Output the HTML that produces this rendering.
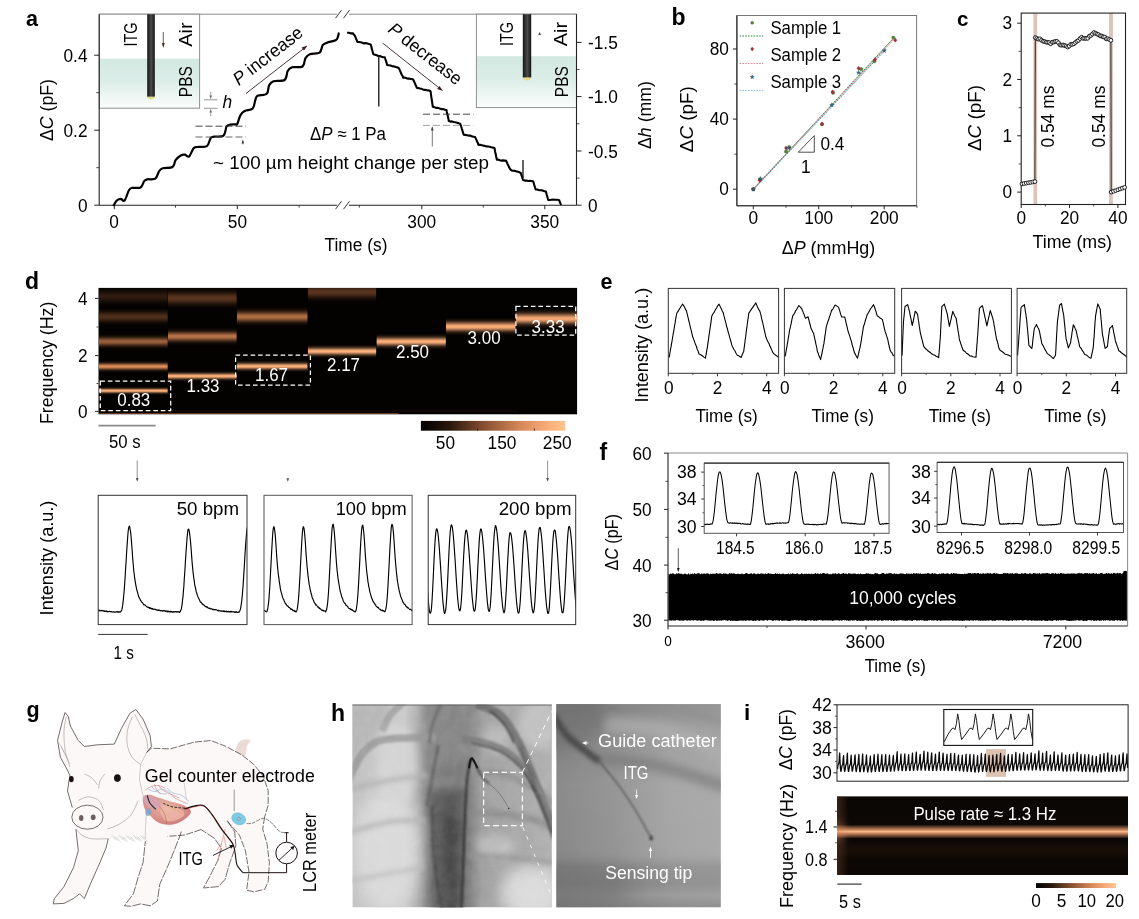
<!DOCTYPE html>
<html><head><meta charset="utf-8"><title>Figure</title>
<style>html,body{margin:0;padding:0;background:#fff;}svg{display:block;}text{font-family:"Liberation Sans",sans-serif;}</style></head>
<body>
<svg width="1139" height="919" viewBox="0 0 1139 919">
<defs>
<linearGradient id="water" x1="0" y1="0" x2="0" y2="1"><stop offset="0" stop-color="#d2e8e1"/><stop offset="0.45" stop-color="#dcede8"/><stop offset="1" stop-color="#fbfdfc"/></linearGradient>
<linearGradient id="rod" x1="0" y1="0" x2="1" y2="0"><stop offset="0" stop-color="#161616"/><stop offset="0.55" stop-color="#4a4a4a"/><stop offset="1" stop-color="#111"/></linearGradient>
<clipPath id="specd"><rect x="98.5" y="287.9" width="478.6" height="126.4"/></clipPath>
<filter id="bl1" x="-5%" y="-200%" width="110%" height="500%"><feGaussianBlur stdDeviation="0.6 1.5"/></filter>
<filter id="bl2" x="-5%" y="-200%" width="110%" height="500%"><feGaussianBlur stdDeviation="0.8 3"/></filter>
<filter id="bl3" x="-5%" y="-200%" width="110%" height="500%"><feGaussianBlur stdDeviation="1 4.5"/></filter>
<linearGradient id="botglow" x1="0" y1="0" x2="0" y2="1"><stop offset="0" stop-color="#040201"/><stop offset="1" stop-color="#0e0703"/></linearGradient>
<linearGradient id="gauss" x1="0" y1="0" x2="0" y2="1"><stop offset="0.00" stop-color="#fff" stop-opacity="0.013"/><stop offset="0.05" stop-color="#fff" stop-opacity="0.030"/><stop offset="0.10" stop-color="#fff" stop-opacity="0.063"/><stop offset="0.15" stop-color="#fff" stop-opacity="0.120"/><stop offset="0.20" stop-color="#fff" stop-opacity="0.211"/><stop offset="0.25" stop-color="#fff" stop-opacity="0.339"/><stop offset="0.30" stop-color="#fff" stop-opacity="0.501"/><stop offset="0.35" stop-color="#fff" stop-opacity="0.678"/><stop offset="0.40" stop-color="#fff" stop-opacity="0.841"/><stop offset="0.45" stop-color="#fff" stop-opacity="0.958"/><stop offset="0.50" stop-color="#fff" stop-opacity="1.000"/><stop offset="0.55" stop-color="#fff" stop-opacity="0.958"/><stop offset="0.60" stop-color="#fff" stop-opacity="0.841"/><stop offset="0.65" stop-color="#fff" stop-opacity="0.678"/><stop offset="0.70" stop-color="#fff" stop-opacity="0.501"/><stop offset="0.75" stop-color="#fff" stop-opacity="0.339"/><stop offset="0.80" stop-color="#fff" stop-opacity="0.211"/><stop offset="0.85" stop-color="#fff" stop-opacity="0.120"/><stop offset="0.90" stop-color="#fff" stop-opacity="0.063"/><stop offset="0.95" stop-color="#fff" stop-opacity="0.030"/><stop offset="1.00" stop-color="#fff" stop-opacity="0.013"/></linearGradient>
<mask id="gm" maskContentUnits="objectBoundingBox"><rect x="0" y="0" width="1" height="1" fill="url(#gauss)"/></mask>
<linearGradient id="cbar"><stop offset="0" stop-color="#000"/><stop offset="0.2" stop-color="#2a170c"/><stop offset="0.45" stop-color="#8a5232"/><stop offset="0.7" stop-color="#d98a5a"/><stop offset="0.9" stop-color="#fdb07c"/><stop offset="1" stop-color="#ffc58f"/></linearGradient>
<clipPath id="cb0"><rect x="98.2" y="495.3" width="148.8" height="129.3"/></clipPath>
<clipPath id="cb1"><rect x="264.0" y="495.3" width="148.10000000000002" height="129.3"/></clipPath>
<clipPath id="cb2"><rect x="428.2" y="495.3" width="147.50000000000006" height="129.3"/></clipPath>
<clipPath id="fi0"><rect x="704.2" y="463.1" width="184.89999999999998" height="70.19999999999993"/></clipPath>
<clipPath id="fi1"><rect x="937.1" y="462.3" width="186.39999999999998" height="70.19999999999999"/></clipPath>
<radialGradient id="heart" cx="0.45" cy="0.4" r="0.7"><stop offset="0" stop-color="#e9b6a6"/><stop offset="0.6" stop-color="#d98f86"/><stop offset="1" stop-color="#c9777a"/></radialGradient>
<filter id="hb"><feGaussianBlur stdDeviation="0.6"/></filter>
<clipPath id="hl"><rect x="352.4" y="704.6" width="199.5" height="202.79999999999995"/></clipPath>
<filter id="x2" x="-100%" y="-100%" width="300%" height="300%"><feGaussianBlur stdDeviation="2"/></filter>
<filter id="x4" x="-100%" y="-100%" width="300%" height="300%"><feGaussianBlur stdDeviation="4"/></filter>
<filter id="x8" x="-100%" y="-100%" width="300%" height="300%"><feGaussianBlur stdDeviation="8"/></filter>
<filter id="x1" x="-100%" y="-100%" width="300%" height="300%"><feGaussianBlur stdDeviation="1"/></filter>
<filter id="x12" x="-100%" y="-100%" width="300%" height="300%"><feGaussianBlur stdDeviation="13"/></filter>
<linearGradient id="hbg" x1="0" y1="0" x2="1" y2="0"><stop offset="0" stop-color="#c2c2c2"/><stop offset="0.26" stop-color="#cccccc"/><stop offset="0.32" stop-color="#b2b2b2"/><stop offset="0.375" stop-color="#8a8a8a"/><stop offset="0.5" stop-color="#787878"/><stop offset="0.585" stop-color="#828282"/><stop offset="0.65" stop-color="#a0a0a0"/><stop offset="0.8" stop-color="#a8a8a8"/><stop offset="1" stop-color="#b0b0b0"/></linearGradient>
<filter id="noise" x="0" y="0" width="100%" height="100%"><feTurbulence type="fractalNoise" baseFrequency="0.09" numOctaves="3" seed="4"/><feColorMatrix type="matrix" values="0 0 0 0 1  0 0 0 0 1  0 0 0 0 1  1.4 0 0 0 -0.45"/></filter>
<clipPath id="hr"><rect x="556.2" y="704.1" width="164.69999999999993" height="203.39999999999998"/></clipPath>
<linearGradient id="hrbg" x1="0" y1="0" x2="1" y2="0"><stop offset="0" stop-color="#868686"/><stop offset="0.35" stop-color="#929292"/><stop offset="0.7" stop-color="#a4a4a4"/><stop offset="1" stop-color="#a8a8a8"/></linearGradient>
<linearGradient id="hrv" x1="0" y1="0" x2="0" y2="1"><stop offset="0" stop-color="#000" stop-opacity="0.12"/><stop offset="0.12" stop-color="#000" stop-opacity="0.03"/><stop offset="0.4" stop-color="#fff" stop-opacity="0.04"/><stop offset="0.7" stop-color="#fff" stop-opacity="0.02"/><stop offset="0.8" stop-color="#000" stop-opacity="0.1"/><stop offset="0.88" stop-color="#000" stop-opacity="0.12"/><stop offset="0.94" stop-color="#000" stop-opacity="0.05"/><stop offset="1" stop-color="#000" stop-opacity="0.14"/></linearGradient>
<clipPath id="speci"><rect x="837.0" y="796.2" width="291.0999999999999" height="78.79999999999995"/></clipPath>
<linearGradient id="ibg" x1="0" y1="0" x2="0" y2="1"><stop offset="0" stop-color="#0a0604"/><stop offset="0.3" stop-color="#0d0805"/><stop offset="0.55" stop-color="#0a0604"/><stop offset="0.68" stop-color="#1a0f08"/><stop offset="0.8" stop-color="#0e0805"/><stop offset="1" stop-color="#0a0604"/></linearGradient>
<linearGradient id="iband" x1="0" y1="0" x2="0" y2="1"><stop offset="0" stop-color="#f4a673" stop-opacity="0"/><stop offset="0.3" stop-color="#e8996a" stop-opacity="0.7"/><stop offset="0.5" stop-color="#ffb988"/><stop offset="0.7" stop-color="#e8996a" stop-opacity="0.7"/><stop offset="1" stop-color="#f4a673" stop-opacity="0"/></linearGradient>
<linearGradient id="ileft" x1="0" y1="0" x2="1" y2="0"><stop offset="0" stop-color="#5a3620" stop-opacity="0.55"/><stop offset="1" stop-color="#6b4128" stop-opacity="0"/></linearGradient>
</defs>
<line x1="99.20" y1="14.20" x2="337.00" y2="14.20" stroke="#8a8a8a" stroke-width="1"/>
<line x1="349.00" y1="14.20" x2="576.50" y2="14.20" stroke="#8a8a8a" stroke-width="1"/>
<rect x="99.20" y="14.20" width="100.40" height="94.00" fill="#fff"/>
<rect x="99.20" y="58.70" width="100.40" height="49.50" fill="url(#water)"/>
<rect x="99.20" y="14.20" width="100.40" height="94.00" fill="none" stroke="#8f8f8f" stroke-width="1"/>
<path d="M147.2 96.1 L154.8 96.1 L154.8 97.8 Q151.0 101.3 147.2 97.8 Z" fill="#e6d98a"/>
<rect x="147.20" y="14.20" width="7.60" height="82.40" fill="url(#rod)"/>
<rect x="476.40" y="14.20" width="100.10" height="93.40" fill="#fff"/>
<rect x="476.40" y="56.20" width="100.10" height="51.40" fill="url(#water)"/>
<rect x="476.40" y="14.20" width="100.10" height="93.40" fill="none" stroke="#8f8f8f" stroke-width="1"/>
<path d="M522.8 76.9 L531.2 76.9 L531.2 78.8 Q527.0 82.3 522.8 78.8 Z" fill="#e6d98a"/>
<rect x="522.80" y="14.20" width="8.40" height="63.20" fill="url(#rod)"/>
<text x="137.0" y="34.5" font-size="18.5" text-anchor="middle" transform="rotate(-90 137.0 34.5)" textLength="24.0" lengthAdjust="spacingAndGlyphs">ITG</text>
<text x="191.6" y="34.6" font-size="18.5" text-anchor="middle" transform="rotate(-90 191.6 34.6)" textLength="24.5" lengthAdjust="spacingAndGlyphs">Air</text>
<text x="191.8" y="81.7" font-size="18.5" text-anchor="middle" transform="rotate(-90 191.8 81.7)" textLength="31.0" lengthAdjust="spacingAndGlyphs">PBS</text>
<text x="513.3" y="34.0" font-size="18.5" text-anchor="middle" transform="rotate(-90 513.3 34.0)" textLength="24.0" lengthAdjust="spacingAndGlyphs">ITG</text>
<text x="567.0" y="34.0" font-size="18.5" text-anchor="middle" transform="rotate(-90 567.0 34.0)" textLength="24.5" lengthAdjust="spacingAndGlyphs">Air</text>
<text x="568.5" y="81.7" font-size="18.5" text-anchor="middle" transform="rotate(-90 568.5 81.7)" textLength="31.0" lengthAdjust="spacingAndGlyphs">PBS</text>
<line x1="163.30" y1="32.00" x2="163.30" y2="46.00" stroke="#5a2a2a" stroke-width="0.8"/>
<path d="M161.8 43 L163.3 48 L164.8 43 Z" fill="#5a2a2a"/>
<path d="M538.3 35 L539.6 32 L540.9 35 Z" fill="#333"/>
<line x1="99.20" y1="14.20" x2="99.20" y2="205.20" stroke="#222" stroke-width="1.1"/>
<line x1="576.50" y1="14.20" x2="576.50" y2="205.20" stroke="#222" stroke-width="1.1"/>
<line x1="99.20" y1="205.20" x2="337.00" y2="205.20" stroke="#222" stroke-width="1.1"/>
<line x1="349.00" y1="205.20" x2="576.50" y2="205.20" stroke="#222" stroke-width="1.1"/>
<line x1="335.50" y1="18.20" x2="341.50" y2="10.20" stroke="#222" stroke-width="0.9"/>
<line x1="343.50" y1="18.20" x2="349.50" y2="10.20" stroke="#222" stroke-width="0.9"/>
<line x1="335.50" y1="209.20" x2="341.50" y2="201.20" stroke="#222" stroke-width="0.9"/>
<line x1="343.50" y1="209.20" x2="349.50" y2="201.20" stroke="#222" stroke-width="0.9"/>
<line x1="94.20" y1="55.20" x2="99.20" y2="55.20" stroke="#222" stroke-width="1"/>
<line x1="94.20" y1="130.20" x2="99.20" y2="130.20" stroke="#222" stroke-width="1"/>
<line x1="94.20" y1="205.20" x2="99.20" y2="205.20" stroke="#222" stroke-width="1"/>
<line x1="96.20" y1="92.70" x2="99.20" y2="92.70" stroke="#222" stroke-width="0.8"/>
<line x1="96.20" y1="167.70" x2="99.20" y2="167.70" stroke="#222" stroke-width="0.8"/>
<line x1="576.50" y1="42.40" x2="581.50" y2="42.40" stroke="#222" stroke-width="1"/>
<line x1="576.50" y1="96.60" x2="581.50" y2="96.60" stroke="#222" stroke-width="1"/>
<line x1="576.50" y1="151.00" x2="581.50" y2="151.00" stroke="#222" stroke-width="1"/>
<line x1="576.50" y1="205.20" x2="581.50" y2="205.20" stroke="#222" stroke-width="1"/>
<line x1="576.50" y1="69.50" x2="579.50" y2="69.50" stroke="#222" stroke-width="0.8"/>
<line x1="576.50" y1="123.80" x2="579.50" y2="123.80" stroke="#222" stroke-width="0.8"/>
<line x1="576.50" y1="178.10" x2="579.50" y2="178.10" stroke="#222" stroke-width="0.8"/>
<line x1="114.30" y1="205.20" x2="114.30" y2="209.20" stroke="#222" stroke-width="1"/>
<line x1="237.30" y1="205.20" x2="237.30" y2="209.20" stroke="#222" stroke-width="1"/>
<line x1="421.80" y1="205.20" x2="421.80" y2="209.20" stroke="#222" stroke-width="1"/>
<line x1="544.80" y1="205.20" x2="544.80" y2="209.20" stroke="#222" stroke-width="1"/>
<line x1="175.50" y1="205.20" x2="175.50" y2="207.70" stroke="#222" stroke-width="0.8"/>
<line x1="299.10" y1="205.20" x2="299.10" y2="207.70" stroke="#222" stroke-width="0.8"/>
<line x1="359.30" y1="205.20" x2="359.30" y2="207.70" stroke="#222" stroke-width="0.8"/>
<line x1="483.30" y1="205.20" x2="483.30" y2="207.70" stroke="#222" stroke-width="0.8"/>
<text x="87.5" y="61.8" font-size="18.3" text-anchor="end" textLength="24.0" lengthAdjust="spacingAndGlyphs">0.4</text>
<text x="87.5" y="136.8" font-size="18.3" text-anchor="end" textLength="24.0" lengthAdjust="spacingAndGlyphs">0.2</text>
<text x="87.5" y="211.8" font-size="18.3" text-anchor="end" textLength="9.6" lengthAdjust="spacingAndGlyphs">0</text>
<text x="588.0" y="49.0" font-size="18.3" textLength="29.8" lengthAdjust="spacingAndGlyphs">-1.5</text>
<text x="588.0" y="103.2" font-size="18.3" textLength="29.8" lengthAdjust="spacingAndGlyphs">-1.0</text>
<text x="588.0" y="157.6" font-size="18.3" textLength="29.8" lengthAdjust="spacingAndGlyphs">-0.5</text>
<text x="588.0" y="211.8" font-size="18.3" textLength="9.6" lengthAdjust="spacingAndGlyphs">0</text>
<text x="114.0" y="228.3" font-size="18.3" text-anchor="middle" textLength="9.6" lengthAdjust="spacingAndGlyphs">0</text>
<text x="237.4" y="228.3" font-size="18.3" text-anchor="middle" textLength="19.2" lengthAdjust="spacingAndGlyphs">50</text>
<text x="421.8" y="228.3" font-size="18.3" text-anchor="middle" textLength="28.9" lengthAdjust="spacingAndGlyphs">300</text>
<text x="544.8" y="228.3" font-size="18.3" text-anchor="middle" textLength="28.9" lengthAdjust="spacingAndGlyphs">350</text>
<text x="356.0" y="251.3" font-size="18.3" text-anchor="middle" textLength="62.8" lengthAdjust="spacingAndGlyphs">Time (s)</text>
<text x="53.0" y="110.0" font-size="18.3" text-anchor="middle" transform="rotate(-90 53.0 110.0)" textLength="62.0" lengthAdjust="spacingAndGlyphs">Δ<tspan font-style="italic">C</tspan> (pF)</text>
<text x="651.0" y="115.0" font-size="18.3" text-anchor="middle" transform="rotate(-90 651.0 115.0)" textLength="68.0" lengthAdjust="spacingAndGlyphs">Δ<tspan font-style="italic">h</tspan> (mm)</text>
<text x="26.0" y="25.5" font-size="21.5" fill="#000" font-weight="bold">a</text>
<path d="M113.8 205.1 C114.3 204.3 116.0 201.2 117.2 200.2 C118.4 199.1 119.7 198.9 120.9 198.9 C122.1 199.0 123.3 202.0 124.6 200.5 C125.9 199.1 127.7 192.4 128.9 190.3 C130.1 188.2 130.0 188.4 132.0 187.9 C133.9 187.4 138.5 188.6 140.6 187.5 C142.6 186.4 143.1 182.5 144.2 181.1 C145.4 179.7 145.5 179.7 147.3 179.3 C149.2 178.9 153.4 180.0 155.3 178.7 C157.3 177.3 157.8 173.0 159.0 171.3 C160.2 169.5 160.4 168.9 162.7 168.2 C164.9 167.5 170.4 168.3 172.5 167.0 C174.7 165.7 174.2 162.2 175.6 160.2 C177.0 158.3 179.6 156.2 181.1 155.3 C182.7 154.4 183.5 154.5 184.8 154.7 C186.1 154.9 187.7 157.6 189.1 156.5 C190.5 155.5 192.1 150.1 193.4 148.5 C194.7 147.0 194.8 147.4 197.1 147.0 C199.4 146.5 204.7 147.6 206.9 146.1 C209.2 144.6 209.4 139.7 210.6 138.1 C211.8 136.5 212.2 137.0 214.3 136.6 C216.5 136.2 221.5 137.3 223.5 135.6 C225.6 133.9 225.5 128.3 226.6 126.4 C227.7 124.6 228.9 124.9 230.3 124.6 C231.7 124.2 234.0 124.5 235.2 124.3 C236.4 124.2 236.4 125.4 237.3 123.9 C238.2 122.3 239.1 117.4 240.4 115.3 C241.6 113.1 242.6 112.1 244.7 111.0 C246.7 109.8 250.8 110.5 252.7 108.5 C254.5 106.4 254.8 100.8 255.7 98.7 C256.6 96.5 256.3 96.4 258.2 95.6 C260.0 94.8 264.9 95.5 266.8 93.7 C268.6 92.0 268.1 87.2 269.2 85.1 C270.4 83.1 271.0 82.1 273.5 81.2 C276.1 80.3 282.3 81.7 284.6 80.0 C287.0 78.3 286.5 73.1 287.7 71.0 C288.9 68.9 289.5 68.1 292.0 67.3 C294.4 66.6 300.2 68.0 302.4 66.5 C304.7 64.9 304.3 60.2 305.5 58.1 C306.7 56.1 307.5 55.1 309.8 54.2 C312.2 53.2 317.5 54.1 319.6 52.6 C321.8 51.1 321.5 46.8 322.7 45.2 C323.9 43.6 324.9 43.6 327.0 42.7 C329.2 41.9 333.8 41.2 335.6 40.3 C337.4 39.4 337.3 38.3 337.8 37.2 C338.3 36.1 338.5 34.1 338.7 33.5" fill="none" stroke="#000" stroke-width="2.2" stroke-linejoin="round" stroke-linecap="round"/>
<path d="M347.1 32.7 L349.0 32.8 L350.9 33.4 L352.8 33.2 L353.8 34.6 L354.7 35.5 L355.4 36.9 L356.0 38.8 L356.7 40.1 L357.4 41.9 L359.1 42.0 L360.7 42.3 L362.4 42.8 L364.0 43.4 L365.7 43.1 L367.4 43.5 L369.0 44.1 L370.7 44.6 L371.1 45.8 L371.5 47.1 L371.8 49.0 L372.2 49.8 L372.6 51.9 L373.0 52.9 L373.4 54.3 L375.0 54.7 L376.7 55.3 L378.3 56.0 L379.9 56.0 L381.6 56.7 L383.2 57.2 L384.8 57.4 L385.3 59.0 L385.7 60.1 L386.2 61.6 L386.7 63.2 L387.1 65.0 L388.7 65.2 L390.4 65.5 L392.0 66.1 L393.6 66.4 L395.3 66.7 L396.9 67.4 L398.5 67.7 L399.2 68.8 L399.8 70.4 L400.5 71.8 L401.2 73.5 L401.8 74.8 L402.5 75.8 L403.1 77.7 L404.6 77.5 L406.0 78.0 L407.5 78.6 L409.0 78.5 L410.5 79.0 L411.9 79.0 L413.4 79.8 L414.1 81.5 L414.8 82.9 L415.4 84.7 L416.1 85.9 L416.8 87.8 L418.3 88.1 L419.9 88.5 L421.4 88.8 L422.9 89.4 L424.4 89.9 L426.0 89.9 L427.5 90.5 L429.0 90.4 L430.5 91.2 L430.8 92.8 L431.0 94.6 L431.2 96.1 L431.4 97.4 L431.7 99.0 L431.9 100.8 L432.1 102.0 L432.4 103.9 L432.6 105.3 L432.8 106.8 L434.3 107.1 L435.9 107.9 L437.4 107.8 L438.9 108.2 L440.4 108.7 L441.9 109.3 L443.5 109.1 L445.0 109.7 L446.5 110.1 L446.8 111.9 L447.2 113.4 L447.5 114.9 L447.8 116.0 L448.2 117.7 L448.5 119.2 L448.8 121.1 L450.4 121.6 L452.1 121.4 L453.7 121.9 L455.3 122.3 L457.0 122.7 L458.6 123.3 L460.2 123.8 L460.7 125.1 L461.2 126.5 L461.7 128.3 L462.2 129.8 L462.7 131.5 L463.2 133.3 L463.7 134.6 L465.3 134.9 L466.9 135.2 L468.5 135.6 L470.2 135.5 L471.8 136.4 L473.4 136.7 L475.1 137.1 L475.8 138.6 L476.4 139.9 L477.1 141.5 L477.8 142.9 L478.5 144.9 L480.1 144.8 L481.7 145.2 L483.3 145.6 L484.9 145.9 L486.5 146.4 L488.1 146.5 L489.7 146.8 L491.3 147.3 L492.9 147.6 L494.5 148.1 L494.8 149.5 L495.1 151.7 L495.5 153.2 L495.8 154.5 L496.1 156.2 L496.5 157.9 L496.8 159.6 L498.3 159.6 L499.8 160.3 L501.4 160.6 L502.9 160.4 L504.4 160.6 L505.9 160.5 L506.7 162.0 L507.4 163.7 L508.2 165.2 L509.0 167.1 L509.7 168.2 L510.5 169.6 L512.0 170.6 L513.4 170.7 L514.9 170.9 L516.4 171.5 L517.8 171.6 L519.3 172.3 L520.8 173.0 L521.2 174.4 L521.7 175.8 L522.1 177.0 L522.6 178.6 L523.1 180.0 L524.8 180.6 L526.5 180.6 L528.2 181.0 L529.9 180.9 L531.6 181.0 L533.3 181.6 L533.8 183.3 L534.2 184.8 L534.7 186.4 L535.2 188.0 L535.6 189.5 L537.1 189.5 L538.6 190.0 L540.0 190.2 L541.5 190.3 L543.0 190.6 L544.4 191.2 L545.9 191.5 L546.4 193.4 L546.8 195.1 L547.3 196.4 L547.7 198.3 L548.2 200.0 L549.8 200.0 L551.3 199.7 L552.9 199.6 L554.5 199.7 L556.0 199.7 L557.6 199.8 L559.2 200.2 L559.8 202.0 L560.5 203.5 L561.2 204.9" fill="none" stroke="#000" stroke-width="2.1" stroke-linejoin="round"/>
<line x1="378.80" y1="55.00" x2="378.80" y2="106.50" stroke="#111" stroke-width="1.3"/>
<line x1="523.00" y1="160.00" x2="523.00" y2="178.00" stroke="#111" stroke-width="1.3"/>
<text x="0.0" y="0.0" font-size="18.2" text-anchor="middle" textLength="83.0" lengthAdjust="spacingAndGlyphs" transform="translate(271.5,60.5) rotate(-37.8)"><tspan font-style="italic">P</tspan> increase</text>
<text x="0.0" y="0.0" font-size="18.2" text-anchor="middle" textLength="88.0" lengthAdjust="spacingAndGlyphs" transform="translate(421.5,58.5) rotate(38.2)"><tspan font-style="italic">P</tspan> decrease</text>
<line x1="246.00" y1="93.50" x2="305.00" y2="47.50" stroke="#3a1f1f" stroke-width="0.9"/>
<path d="M307.5 45.5 L301.6 47.6 L304 50.6 Z" fill="#3a1f1f"/>
<line x1="382.50" y1="43.00" x2="440.50" y2="89.00" stroke="#3a1f1f" stroke-width="0.9"/>
<path d="M443 91 L439.5 85.9 L437.1 88.9 Z" fill="#3a1f1f"/>
<text x="310.0" y="140.0" font-size="18.3" textLength="76.0" lengthAdjust="spacingAndGlyphs">Δ<tspan font-style="italic">P</tspan> ≈ 1 Pa</text>
<text x="213.0" y="168.5" font-size="18.3" textLength="276.0" lengthAdjust="spacingAndGlyphs">~ 100 µm height change per step</text>
<text x="222.5" y="107.5" font-size="18.5" font-style="italic" textLength="9.7" lengthAdjust="spacingAndGlyphs">h</text>
<line x1="195.50" y1="126.20" x2="246.00" y2="126.20" stroke="#333" stroke-width="0.9" stroke-dasharray="7 3"/>
<line x1="195.50" y1="137.00" x2="246.00" y2="137.00" stroke="#555" stroke-width="0.9" stroke-dasharray="7 3"/>
<line x1="423.00" y1="114.20" x2="473.50" y2="114.20" stroke="#333" stroke-width="0.9" stroke-dasharray="7 3"/>
<line x1="423.00" y1="125.40" x2="473.50" y2="125.40" stroke="#999" stroke-width="0.9" stroke-dasharray="7 3"/>
<line x1="204.00" y1="99.80" x2="217.50" y2="99.80" stroke="#888" stroke-width="0.9"/>
<line x1="204.00" y1="108.30" x2="217.50" y2="108.30" stroke="#888" stroke-width="0.9"/>
<line x1="210.70" y1="92.00" x2="210.70" y2="98.00" stroke="#777" stroke-width="0.7"/>
<path d="M209.3 95.5 L210.7 99 L212.1 95.5 Z" fill="#777"/>
<line x1="210.70" y1="110.00" x2="210.70" y2="116.00" stroke="#777" stroke-width="0.7"/>
<path d="M209.3 112.5 L210.7 109 L212.1 112.5 Z" fill="#777"/>
<path d="M241.5 143.5 L242.8 139.5 L244.1 143.5 Z" fill="#333"/>
<line x1="242.80" y1="141.00" x2="242.80" y2="144.50" stroke="#555" stroke-width="0.6"/>
<line x1="432.30" y1="127.50" x2="432.30" y2="146.50" stroke="#555" stroke-width="0.8"/>
<path d="M430.9 130.5 L432.3 126.3 L433.7 130.5 Z" fill="#444"/>
<rect x="736.90" y="15.50" width="179.70" height="190.30" fill="none" stroke="#777" stroke-width="1"/>
<line x1="736.90" y1="15.50" x2="736.90" y2="205.80" stroke="#222" stroke-width="1.1"/>
<line x1="736.90" y1="205.80" x2="916.60" y2="205.80" stroke="#222" stroke-width="1.1"/>
<line x1="732.90" y1="189.20" x2="736.90" y2="189.20" stroke="#222" stroke-width="1"/>
<text x="728.9" y="195.4" font-size="18.3" text-anchor="end" textLength="9.6" lengthAdjust="spacingAndGlyphs">0</text>
<line x1="732.90" y1="119.10" x2="736.90" y2="119.10" stroke="#222" stroke-width="1"/>
<text x="728.9" y="125.3" font-size="18.3" text-anchor="end" textLength="19.2" lengthAdjust="spacingAndGlyphs">40</text>
<line x1="732.90" y1="49.00" x2="736.90" y2="49.00" stroke="#222" stroke-width="1"/>
<text x="728.9" y="55.2" font-size="18.3" text-anchor="end" textLength="19.2" lengthAdjust="spacingAndGlyphs">80</text>
<line x1="734.40" y1="154.15" x2="736.90" y2="154.15" stroke="#222" stroke-width="0.8"/>
<line x1="734.40" y1="84.05" x2="736.90" y2="84.05" stroke="#222" stroke-width="0.8"/>
<line x1="753.30" y1="205.80" x2="753.30" y2="209.30" stroke="#222" stroke-width="1"/>
<text x="753.3" y="224.2" font-size="18.3" text-anchor="middle" textLength="9.6" lengthAdjust="spacingAndGlyphs">0</text>
<line x1="818.75" y1="205.80" x2="818.75" y2="209.30" stroke="#222" stroke-width="1"/>
<text x="818.8" y="224.2" font-size="18.3" text-anchor="middle" textLength="28.9" lengthAdjust="spacingAndGlyphs">100</text>
<line x1="884.20" y1="205.80" x2="884.20" y2="209.30" stroke="#222" stroke-width="1"/>
<text x="884.2" y="224.2" font-size="18.3" text-anchor="middle" textLength="28.9" lengthAdjust="spacingAndGlyphs">200</text>
<line x1="786.02" y1="205.80" x2="786.02" y2="207.80" stroke="#222" stroke-width="0.8"/>
<line x1="851.47" y1="205.80" x2="851.47" y2="207.80" stroke="#222" stroke-width="0.8"/>
<line x1="916.92" y1="205.80" x2="916.92" y2="207.80" stroke="#222" stroke-width="0.8"/>
<text x="828.5" y="253.8" font-size="18.3" text-anchor="middle" textLength="93.6" lengthAdjust="spacingAndGlyphs">Δ<tspan font-style="italic">P</tspan> (mmHg)</text>
<text x="692.8" y="119.2" font-size="18.3" text-anchor="middle" transform="rotate(-90 692.8 119.2)" textLength="66.0" lengthAdjust="spacingAndGlyphs">Δ<tspan font-style="italic">C</tspan> (pF)</text>
<text x="671.5" y="24.8" font-size="23" fill="#000" font-weight="bold">b</text>
<line x1="753.30" y1="189.20" x2="894.02" y2="37.61" stroke="#2e8b2e" stroke-width="1" stroke-dasharray="2 0.7"/>
<line x1="753.30" y1="188.67" x2="894.67" y2="38.48" stroke="#d46a6a" stroke-width="0.9" stroke-dasharray="2 0.7"/>
<line x1="753.30" y1="189.73" x2="886.16" y2="49.00" stroke="#3a8bb5" stroke-width="0.9" stroke-dasharray="2 0.7"/>
<circle cx="753.30" cy="189.20" r="1.7" fill="#5a8a2a" stroke="#333" stroke-width="0.3"/>
<circle cx="759.84" cy="179.56" r="1.7" fill="#5a8a2a" stroke="#333" stroke-width="0.3"/>
<circle cx="786.02" cy="151.52" r="1.7" fill="#5a8a2a" stroke="#333" stroke-width="0.3"/>
<circle cx="789.30" cy="147.14" r="1.7" fill="#5a8a2a" stroke="#333" stroke-width="0.3"/>
<circle cx="822.02" cy="124.36" r="1.7" fill="#5a8a2a" stroke="#333" stroke-width="0.3"/>
<circle cx="833.15" cy="92.81" r="1.7" fill="#5a8a2a" stroke="#333" stroke-width="0.3"/>
<circle cx="861.29" cy="69.15" r="1.7" fill="#5a8a2a" stroke="#333" stroke-width="0.3"/>
<circle cx="874.38" cy="61.27" r="1.7" fill="#5a8a2a" stroke="#333" stroke-width="0.3"/>
<circle cx="893.36" cy="37.61" r="1.7" fill="#5a8a2a" stroke="#333" stroke-width="0.3"/>
<path d="M753.30 187.10 L754.98 189.20 L753.30 191.30 L751.62 189.20 Z" fill="#b8283a" stroke="#333" stroke-width="0.3"/>
<path d="M759.84 178.34 L761.52 180.44 L759.84 182.54 L758.16 180.44 Z" fill="#b8283a" stroke="#333" stroke-width="0.3"/>
<path d="M786.02 145.92 L787.70 148.02 L786.02 150.12 L784.35 148.02 Z" fill="#b8283a" stroke="#333" stroke-width="0.3"/>
<path d="M822.02 121.73 L823.70 123.83 L822.02 125.93 L820.34 123.83 Z" fill="#b8283a" stroke="#333" stroke-width="0.3"/>
<path d="M832.49 89.84 L834.17 91.94 L832.49 94.04 L830.81 91.94 Z" fill="#b8283a" stroke="#333" stroke-width="0.3"/>
<path d="M858.67 66.18 L860.35 68.28 L858.67 70.38 L856.99 68.28 Z" fill="#b8283a" stroke="#333" stroke-width="0.3"/>
<path d="M875.04 57.41 L876.72 59.51 L875.04 61.61 L873.36 59.51 Z" fill="#b8283a" stroke="#333" stroke-width="0.3"/>
<path d="M895.33 38.14 L897.01 40.24 L895.33 42.34 L893.65 40.24 Z" fill="#b8283a" stroke="#333" stroke-width="0.3"/>
<path d="M753.30 186.90 L753.87 188.42 L755.49 188.49 L754.22 189.50 L754.65 191.06 L753.30 190.17 L751.95 191.06 L752.38 189.50 L751.11 188.49 L752.73 188.42 Z" fill="#1f6f9f" stroke="#333" stroke-width="0.3"/>
<path d="M760.50 176.38 L761.07 177.90 L762.69 177.97 L761.42 178.98 L761.85 180.55 L760.50 179.65 L759.15 180.55 L759.58 178.98 L758.31 177.97 L759.93 177.90 Z" fill="#1f6f9f" stroke="#333" stroke-width="0.3"/>
<path d="M788.64 145.72 L789.21 147.23 L790.83 147.31 L789.56 148.31 L789.99 149.88 L788.64 148.98 L787.29 149.88 L787.72 148.31 L786.46 147.31 L788.08 147.23 Z" fill="#1f6f9f" stroke="#333" stroke-width="0.3"/>
<path d="M831.84 102.78 L832.41 104.30 L834.03 104.37 L832.76 105.38 L833.19 106.94 L831.84 106.05 L830.49 106.94 L830.92 105.38 L829.65 104.37 L831.27 104.30 Z" fill="#1f6f9f" stroke="#333" stroke-width="0.3"/>
<path d="M858.67 70.36 L859.24 71.88 L860.86 71.95 L859.59 72.96 L860.03 74.52 L858.67 73.62 L857.32 74.52 L857.76 72.96 L856.49 71.95 L858.11 71.88 Z" fill="#1f6f9f" stroke="#333" stroke-width="0.3"/>
<path d="M884.20 48.45 L884.77 49.97 L886.39 50.04 L885.12 51.05 L885.55 52.61 L884.20 51.72 L882.85 52.61 L883.28 51.05 L882.01 50.04 L883.63 49.97 Z" fill="#1f6f9f" stroke="#333" stroke-width="0.3"/>
<circle cx="752.20" cy="22.80" r="1.5" fill="#5a8a2a" stroke="#333" stroke-width="0.3"/>
<path d="M752.20 47.00 L753.80 49.00 L752.20 51.00 L750.60 49.00 Z" fill="#b8283a" stroke="#333" stroke-width="0.3"/>
<path d="M752.20 74.80 L752.74 76.25 L754.29 76.32 L753.08 77.29 L753.49 78.78 L752.20 77.92 L750.91 78.78 L751.32 77.29 L750.11 76.32 L751.66 76.25 Z" fill="#1f6f9f" stroke="#333" stroke-width="0.3"/>
<line x1="739.60" y1="36.00" x2="763.20" y2="36.00" stroke="#2e8b2e" stroke-width="1" stroke-dasharray="1.6 1.2"/>
<line x1="739.60" y1="63.50" x2="763.20" y2="63.50" stroke="#e08a8a" stroke-width="1" stroke-dasharray="1.6 1.2"/>
<line x1="739.60" y1="90.40" x2="763.20" y2="90.40" stroke="#7fc4e0" stroke-width="1" stroke-dasharray="1.6 1.2"/>
<text x="770.4" y="34.2" font-size="18.3" textLength="70.8" lengthAdjust="spacingAndGlyphs">Sample 1</text>
<text x="770.4" y="61.2" font-size="18.3" textLength="70.8" lengthAdjust="spacingAndGlyphs">Sample 2</text>
<text x="770.4" y="87.9" font-size="18.3" textLength="70.8" lengthAdjust="spacingAndGlyphs">Sample 3</text>
<path d="M798.3 152.2 L814.3 152.2 L814.3 135.6 Z" fill="none" stroke="#222" stroke-width="0.8"/>
<text x="820.4" y="150.0" font-size="18.3" textLength="24.0" lengthAdjust="spacingAndGlyphs">0.4</text>
<text x="805.8" y="172.8" font-size="18.3" text-anchor="middle" textLength="9.6" lengthAdjust="spacingAndGlyphs">1</text>
<rect x="1033.40" y="13.10" width="3.80" height="191.40" fill="#dcc5b8"/>
<rect x="1109.00" y="13.10" width="3.90" height="191.40" fill="#dcc5b8"/>
<rect x="1021.20" y="13.10" width="104.30" height="191.40" fill="none" stroke="#222" stroke-width="1.1"/>
<line x1="1017.20" y1="192.10" x2="1021.20" y2="192.10" stroke="#222" stroke-width="1"/>
<text x="1012.2" y="198.3" font-size="18.3" text-anchor="end" textLength="9.6" lengthAdjust="spacingAndGlyphs">0</text>
<line x1="1017.20" y1="135.80" x2="1021.20" y2="135.80" stroke="#222" stroke-width="1"/>
<text x="1012.2" y="142.0" font-size="18.3" text-anchor="end" textLength="9.6" lengthAdjust="spacingAndGlyphs">1</text>
<line x1="1017.20" y1="79.50" x2="1021.20" y2="79.50" stroke="#222" stroke-width="1"/>
<text x="1012.2" y="85.7" font-size="18.3" text-anchor="end" textLength="9.6" lengthAdjust="spacingAndGlyphs">2</text>
<line x1="1017.20" y1="23.20" x2="1021.20" y2="23.20" stroke="#222" stroke-width="1"/>
<text x="1012.2" y="29.4" font-size="18.3" text-anchor="end" textLength="9.6" lengthAdjust="spacingAndGlyphs">3</text>
<line x1="1018.70" y1="163.95" x2="1021.20" y2="163.95" stroke="#222" stroke-width="0.8"/>
<line x1="1018.70" y1="107.65" x2="1021.20" y2="107.65" stroke="#222" stroke-width="0.8"/>
<line x1="1018.70" y1="51.35" x2="1021.20" y2="51.35" stroke="#222" stroke-width="0.8"/>
<line x1="1021.20" y1="204.50" x2="1021.20" y2="208.00" stroke="#222" stroke-width="1"/>
<text x="1021.2" y="224.4" font-size="18.3" text-anchor="middle" textLength="9.6" lengthAdjust="spacingAndGlyphs">0</text>
<line x1="1069.55" y1="204.50" x2="1069.55" y2="208.00" stroke="#222" stroke-width="1"/>
<text x="1069.5" y="224.4" font-size="18.3" text-anchor="middle" textLength="19.2" lengthAdjust="spacingAndGlyphs">20</text>
<line x1="1117.90" y1="204.50" x2="1117.90" y2="208.00" stroke="#222" stroke-width="1"/>
<text x="1117.9" y="224.4" font-size="18.3" text-anchor="middle" textLength="19.2" lengthAdjust="spacingAndGlyphs">40</text>
<line x1="1045.38" y1="204.50" x2="1045.38" y2="206.50" stroke="#222" stroke-width="0.8"/>
<line x1="1093.73" y1="204.50" x2="1093.73" y2="206.50" stroke="#222" stroke-width="0.8"/>
<text x="1072.3" y="248.0" font-size="18.3" text-anchor="middle" textLength="79.5" lengthAdjust="spacingAndGlyphs">Time (ms)</text>
<text x="981.0" y="118.0" font-size="18.3" text-anchor="middle" transform="rotate(-90 981.0 118.0)" textLength="66.0" lengthAdjust="spacingAndGlyphs">Δ<tspan font-style="italic">C</tspan> (pF)</text>
<text x="957.0" y="26.3" font-size="20.5" fill="#000" font-weight="bold">c</text>
<text x="1054.4" y="116.6" font-size="18.3" text-anchor="middle" transform="rotate(-90 1054.4 116.6)" textLength="62.0" lengthAdjust="spacingAndGlyphs">0.54 ms</text>
<text x="1104.6" y="116.6" font-size="18.3" text-anchor="middle" transform="rotate(-90 1104.6 116.6)" textLength="62.0" lengthAdjust="spacingAndGlyphs">0.54 ms</text>
<path d="M1022.0 183.9 L1024.2 183.5 L1026.3 183.1 L1028.5 182.8 L1030.6 182.4 L1032.8 182.0 L1034.9 181.6 L1035.3 37.6 L1036.8 38.4 L1038.4 39.2 L1039.9 38.8 L1041.5 40.2 L1043.0 41.2 L1044.6 41.6 L1046.1 42.2 L1047.6 42.4 L1049.2 42.6 L1050.7 43.7 L1052.3 42.2 L1053.8 42.0 L1055.4 41.4 L1056.9 41.4 L1058.4 42.8 L1060.0 44.9 L1061.5 45.2 L1063.1 45.0 L1064.6 45.5 L1066.2 46.0 L1067.7 47.0 L1069.2 46.0 L1070.8 44.3 L1072.3 44.4 L1073.9 43.8 L1075.4 42.5 L1077.0 41.2 L1078.5 40.3 L1080.0 38.6 L1081.6 37.3 L1083.1 38.4 L1084.7 38.3 L1086.2 38.4 L1087.8 38.2 L1089.3 36.2 L1090.8 35.5 L1092.4 34.1 L1093.9 32.5 L1095.5 33.3 L1097.0 34.0 L1098.6 34.7 L1100.1 35.8 L1101.6 36.0 L1103.2 36.9 L1104.7 37.1 L1106.3 38.9 L1107.8 38.7 L1109.4 39.5 L1110.9 40.3 L1111.2 192.1 L1113.4 191.3 L1115.7 190.5 L1117.9 189.8 L1120.1 189.0 L1122.4 188.2 L1124.6 187.4" fill="none" stroke="#111" stroke-width="0.9" stroke-linejoin="round"/>
<circle cx="1022.00" cy="183.90" r="1.9" fill="#fff" stroke="#000" stroke-width="0.85"/>
<circle cx="1024.15" cy="183.52" r="1.9" fill="#fff" stroke="#000" stroke-width="0.85"/>
<circle cx="1026.30" cy="183.13" r="1.9" fill="#fff" stroke="#000" stroke-width="0.85"/>
<circle cx="1028.45" cy="182.75" r="1.9" fill="#fff" stroke="#000" stroke-width="0.85"/>
<circle cx="1030.60" cy="182.37" r="1.9" fill="#fff" stroke="#000" stroke-width="0.85"/>
<circle cx="1032.75" cy="181.98" r="1.9" fill="#fff" stroke="#000" stroke-width="0.85"/>
<circle cx="1034.90" cy="181.60" r="1.9" fill="#fff" stroke="#000" stroke-width="0.85"/>
<circle cx="1035.30" cy="37.57" r="1.9" fill="#fff" stroke="#000" stroke-width="0.85"/>
<circle cx="1036.84" cy="38.42" r="1.9" fill="#fff" stroke="#000" stroke-width="0.85"/>
<circle cx="1038.39" cy="39.22" r="1.9" fill="#fff" stroke="#000" stroke-width="0.85"/>
<circle cx="1039.93" cy="38.82" r="1.9" fill="#fff" stroke="#000" stroke-width="0.85"/>
<circle cx="1041.47" cy="40.23" r="1.9" fill="#fff" stroke="#000" stroke-width="0.85"/>
<circle cx="1043.01" cy="41.18" r="1.9" fill="#fff" stroke="#000" stroke-width="0.85"/>
<circle cx="1044.56" cy="41.61" r="1.9" fill="#fff" stroke="#000" stroke-width="0.85"/>
<circle cx="1046.10" cy="42.16" r="1.9" fill="#fff" stroke="#000" stroke-width="0.85"/>
<circle cx="1047.64" cy="42.39" r="1.9" fill="#fff" stroke="#000" stroke-width="0.85"/>
<circle cx="1049.19" cy="42.57" r="1.9" fill="#fff" stroke="#000" stroke-width="0.85"/>
<circle cx="1050.73" cy="43.73" r="1.9" fill="#fff" stroke="#000" stroke-width="0.85"/>
<circle cx="1052.27" cy="42.22" r="1.9" fill="#fff" stroke="#000" stroke-width="0.85"/>
<circle cx="1053.81" cy="42.00" r="1.9" fill="#fff" stroke="#000" stroke-width="0.85"/>
<circle cx="1055.36" cy="41.36" r="1.9" fill="#fff" stroke="#000" stroke-width="0.85"/>
<circle cx="1056.90" cy="41.40" r="1.9" fill="#fff" stroke="#000" stroke-width="0.85"/>
<circle cx="1058.44" cy="42.77" r="1.9" fill="#fff" stroke="#000" stroke-width="0.85"/>
<circle cx="1059.99" cy="44.89" r="1.9" fill="#fff" stroke="#000" stroke-width="0.85"/>
<circle cx="1061.53" cy="45.25" r="1.9" fill="#fff" stroke="#000" stroke-width="0.85"/>
<circle cx="1063.07" cy="44.99" r="1.9" fill="#fff" stroke="#000" stroke-width="0.85"/>
<circle cx="1064.61" cy="45.45" r="1.9" fill="#fff" stroke="#000" stroke-width="0.85"/>
<circle cx="1066.16" cy="46.01" r="1.9" fill="#fff" stroke="#000" stroke-width="0.85"/>
<circle cx="1067.70" cy="47.02" r="1.9" fill="#fff" stroke="#000" stroke-width="0.85"/>
<circle cx="1069.24" cy="46.05" r="1.9" fill="#fff" stroke="#000" stroke-width="0.85"/>
<circle cx="1070.79" cy="44.29" r="1.9" fill="#fff" stroke="#000" stroke-width="0.85"/>
<circle cx="1072.33" cy="44.41" r="1.9" fill="#fff" stroke="#000" stroke-width="0.85"/>
<circle cx="1073.87" cy="43.79" r="1.9" fill="#fff" stroke="#000" stroke-width="0.85"/>
<circle cx="1075.41" cy="42.51" r="1.9" fill="#fff" stroke="#000" stroke-width="0.85"/>
<circle cx="1076.96" cy="41.23" r="1.9" fill="#fff" stroke="#000" stroke-width="0.85"/>
<circle cx="1078.50" cy="40.34" r="1.9" fill="#fff" stroke="#000" stroke-width="0.85"/>
<circle cx="1080.04" cy="38.59" r="1.9" fill="#fff" stroke="#000" stroke-width="0.85"/>
<circle cx="1081.59" cy="37.26" r="1.9" fill="#fff" stroke="#000" stroke-width="0.85"/>
<circle cx="1083.13" cy="38.37" r="1.9" fill="#fff" stroke="#000" stroke-width="0.85"/>
<circle cx="1084.67" cy="38.26" r="1.9" fill="#fff" stroke="#000" stroke-width="0.85"/>
<circle cx="1086.21" cy="38.43" r="1.9" fill="#fff" stroke="#000" stroke-width="0.85"/>
<circle cx="1087.76" cy="38.21" r="1.9" fill="#fff" stroke="#000" stroke-width="0.85"/>
<circle cx="1089.30" cy="36.20" r="1.9" fill="#fff" stroke="#000" stroke-width="0.85"/>
<circle cx="1090.84" cy="35.50" r="1.9" fill="#fff" stroke="#000" stroke-width="0.85"/>
<circle cx="1092.39" cy="34.12" r="1.9" fill="#fff" stroke="#000" stroke-width="0.85"/>
<circle cx="1093.93" cy="32.49" r="1.9" fill="#fff" stroke="#000" stroke-width="0.85"/>
<circle cx="1095.47" cy="33.26" r="1.9" fill="#fff" stroke="#000" stroke-width="0.85"/>
<circle cx="1097.01" cy="34.03" r="1.9" fill="#fff" stroke="#000" stroke-width="0.85"/>
<circle cx="1098.56" cy="34.67" r="1.9" fill="#fff" stroke="#000" stroke-width="0.85"/>
<circle cx="1100.10" cy="35.84" r="1.9" fill="#fff" stroke="#000" stroke-width="0.85"/>
<circle cx="1101.64" cy="36.03" r="1.9" fill="#fff" stroke="#000" stroke-width="0.85"/>
<circle cx="1103.19" cy="36.89" r="1.9" fill="#fff" stroke="#000" stroke-width="0.85"/>
<circle cx="1104.73" cy="37.13" r="1.9" fill="#fff" stroke="#000" stroke-width="0.85"/>
<circle cx="1106.27" cy="38.86" r="1.9" fill="#fff" stroke="#000" stroke-width="0.85"/>
<circle cx="1107.81" cy="38.72" r="1.9" fill="#fff" stroke="#000" stroke-width="0.85"/>
<circle cx="1109.36" cy="39.50" r="1.9" fill="#fff" stroke="#000" stroke-width="0.85"/>
<circle cx="1110.90" cy="40.32" r="1.9" fill="#fff" stroke="#000" stroke-width="0.85"/>
<circle cx="1111.20" cy="192.10" r="1.9" fill="#fff" stroke="#000" stroke-width="0.85"/>
<circle cx="1113.43" cy="191.32" r="1.9" fill="#fff" stroke="#000" stroke-width="0.85"/>
<circle cx="1115.67" cy="190.53" r="1.9" fill="#fff" stroke="#000" stroke-width="0.85"/>
<circle cx="1117.90" cy="189.75" r="1.9" fill="#fff" stroke="#000" stroke-width="0.85"/>
<circle cx="1120.13" cy="188.97" r="1.9" fill="#fff" stroke="#000" stroke-width="0.85"/>
<circle cx="1122.37" cy="188.18" r="1.9" fill="#fff" stroke="#000" stroke-width="0.85"/>
<circle cx="1124.60" cy="187.40" r="1.9" fill="#fff" stroke="#000" stroke-width="0.85"/>
<rect x="98.50" y="287.90" width="478.60" height="126.40" fill="#040201"/>
<g clip-path="url(#specd)">
<rect x="98.6" y="386.4" width="69.2" height="8.7" fill="#ffb27c" mask="url(#gm)"/>
<rect x="98.6" y="360.2" width="69.2" height="12.5" fill="#e08e5a" mask="url(#gm)"/>
<rect x="98.6" y="333.2" width="69.2" height="16.7" fill="#9a603b" mask="url(#gm)"/>
<rect x="98.6" y="306.8" width="69.2" height="19.9" fill="#50301b" mask="url(#gm)"/>
<rect x="98.6" y="285.1" width="69.2" height="22.8" fill="#301c10" mask="url(#gm)"/>
<rect x="167.8" y="370.5" width="69.0" height="11.2" fill="#ffb27c" mask="url(#gm)"/>
<rect x="167.8" y="327.4" width="69.0" height="18.1" fill="#b87348" mask="url(#gm)"/>
<rect x="167.8" y="286.3" width="69.0" height="23.8" fill="#5a3520" mask="url(#gm)"/>
<rect x="236.8" y="360.0" width="70.9" height="12.5" fill="#ffb27c" mask="url(#gm)"/>
<rect x="236.8" y="306.8" width="70.9" height="19.9" fill="#b06e45" mask="url(#gm)"/>
<rect x="307.7" y="344.2" width="68.7" height="14.2" fill="#ffb27c" mask="url(#gm)"/>
<rect x="307.7" y="280.6" width="68.7" height="22.8" fill="#5a3520" mask="url(#gm)"/>
<rect x="376.4" y="333.4" width="69.5" height="16.3" fill="#ffb07a" mask="url(#gm)"/>
<rect x="445.9" y="317.5" width="69.8" height="18.2" fill="#fdae78" mask="url(#gm)"/>
<rect x="515.7" y="308.4" width="61.4" height="20.5" fill="#f9aa75" mask="url(#gm)"/>
<rect x="98.5" y="413.1" width="300" height="0.9" fill="#8a5530" opacity="0.8"/>
<rect x="98.5" y="410.6" width="420" height="0.7" fill="#2a190e" opacity="0.8"/>
</g>
<rect x="100.30" y="381.20" width="70.40" height="29.30" fill="none" stroke="#fff" stroke-width="1.25" stroke-dasharray="4.6 2.9"/>
<rect x="235.60" y="355.20" width="74.80" height="29.90" fill="none" stroke="#fff" stroke-width="1.25" stroke-dasharray="4.6 2.9"/>
<rect x="515.90" y="306.40" width="59.80" height="28.70" fill="none" stroke="#fff" stroke-width="1.25" stroke-dasharray="4.6 2.9"/>
<text x="133.8" y="406.4" font-size="18.3" text-anchor="middle" fill="#fff" textLength="33.0" lengthAdjust="spacingAndGlyphs">0.83</text>
<text x="203.0" y="391.7" font-size="18.3" text-anchor="middle" fill="#fff" textLength="33.0" lengthAdjust="spacingAndGlyphs">1.33</text>
<text x="271.5" y="381.1" font-size="18.3" text-anchor="middle" fill="#fff" textLength="33.0" lengthAdjust="spacingAndGlyphs">1.67</text>
<text x="343.5" y="370.9" font-size="18.3" text-anchor="middle" fill="#fff" textLength="33.0" lengthAdjust="spacingAndGlyphs">2.17</text>
<text x="412.5" y="357.7" font-size="18.3" text-anchor="middle" fill="#fff" textLength="33.0" lengthAdjust="spacingAndGlyphs">2.50</text>
<text x="484.1" y="344.3" font-size="18.3" text-anchor="middle" fill="#fff" textLength="33.0" lengthAdjust="spacingAndGlyphs">3.00</text>
<text x="548.1" y="333.2" font-size="18.3" text-anchor="middle" fill="#fff" textLength="33.0" lengthAdjust="spacingAndGlyphs">3.33</text>
<line x1="95.00" y1="298.40" x2="98.50" y2="298.40" stroke="#222" stroke-width="1"/>
<text x="87.5" y="304.6" font-size="18.3" text-anchor="end" textLength="9.6" lengthAdjust="spacingAndGlyphs">4</text>
<line x1="95.00" y1="355.60" x2="98.50" y2="355.60" stroke="#222" stroke-width="1"/>
<text x="87.5" y="361.8" font-size="18.3" text-anchor="end" textLength="9.6" lengthAdjust="spacingAndGlyphs">2</text>
<line x1="95.00" y1="411.40" x2="98.50" y2="411.40" stroke="#222" stroke-width="1"/>
<text x="87.5" y="417.6" font-size="18.3" text-anchor="end" textLength="9.6" lengthAdjust="spacingAndGlyphs">0</text>
<line x1="96.50" y1="327.00" x2="98.50" y2="327.00" stroke="#222" stroke-width="0.8"/>
<line x1="96.50" y1="383.50" x2="98.50" y2="383.50" stroke="#222" stroke-width="0.8"/>
<text x="52.9" y="362.8" font-size="18.3" text-anchor="middle" transform="rotate(-90 52.9 362.8)" textLength="122.4" lengthAdjust="spacingAndGlyphs">Frequency (Hz)</text>
<text x="25.0" y="288.5" font-size="23" fill="#000" font-weight="bold">d</text>
<line x1="98.50" y1="425.60" x2="155.60" y2="425.60" stroke="#8a8a8a" stroke-width="1.6"/>
<text x="109.0" y="447.8" font-size="18.3" textLength="31.6" lengthAdjust="spacingAndGlyphs">50 s</text>
<rect x="420.90" y="420.90" width="144.30" height="9.80" fill="url(#cbar)"/>
<line x1="477.50" y1="428.50" x2="477.50" y2="430.70" stroke="#222" stroke-width="0.8"/>
<line x1="534.40" y1="428.50" x2="534.40" y2="430.70" stroke="#222" stroke-width="0.8"/>
<text x="445.4" y="448.6" font-size="18.3" text-anchor="middle" textLength="19.2" lengthAdjust="spacingAndGlyphs">50</text>
<text x="502.0" y="448.6" font-size="18.3" text-anchor="middle" textLength="28.9" lengthAdjust="spacingAndGlyphs">150</text>
<text x="557.3" y="448.6" font-size="18.3" text-anchor="middle" textLength="28.9" lengthAdjust="spacingAndGlyphs">250</text>
<line x1="137.20" y1="460.50" x2="137.20" y2="480.00" stroke="#777" stroke-width="0.8"/>
<path d="M135.79999999999998 478 L137.2 481.8 L138.6 478 Z" fill="#555"/>
<line x1="547.60" y1="460.50" x2="547.60" y2="480.00" stroke="#777" stroke-width="0.8"/>
<path d="M546.2 478 L547.6 481.8 L549.0 478 Z" fill="#555"/>
<path d="M286.4 478.3 L287.8 481.8 L289.2 478.3 Z" fill="#555"/>
<path d="M90.2 607.7 L90.6 608.1 L91.0 608.5 L91.4 608.6 L91.8 608.8 L92.2 608.6 L92.6 609.1 L93.0 609.0 L93.4 608.7 L93.8 609.1 L94.2 608.9 L94.6 609.8 L95.0 609.9 L95.4 609.4 L95.8 609.5 L96.2 610.0 L96.6 609.6 L97.0 609.6 L97.4 609.7 L97.8 609.9 L98.2 610.3 L98.6 610.6 L99.0 610.0 L99.4 610.8 L99.8 610.5 L100.2 610.9 L100.6 610.8 L101.0 610.3 L101.4 610.8 L101.8 610.4 L102.2 610.3 L102.6 610.7 L103.0 611.1 L103.4 611.0 L103.8 610.7 L104.2 611.3 L104.6 611.4 L105.0 610.9 L105.4 611.1 L105.8 611.3 L106.2 611.6 L106.6 610.9 L107.0 611.4 L107.4 611.8 L107.8 611.5 L108.2 611.6 L108.6 611.7 L109.0 611.5 L109.4 611.3 L109.8 611.6 L110.2 611.6 L110.6 611.5 L111.0 611.9 L111.4 611.5 L111.8 611.7 L112.2 611.9 L112.6 612.0 L113.0 612.1 L113.4 611.9 L113.8 611.6 L114.2 612.1 L114.6 612.2 L115.0 612.1 L115.4 612.1 L115.8 611.9 L116.2 611.9 L116.6 612.0 L117.0 611.6 L117.4 612.1 L117.8 612.3 L118.2 611.7 L118.6 612.2 L119.0 612.2 L119.4 611.7 L119.8 611.7 L120.2 612.1 L120.6 611.6 L121.0 611.3 L121.4 610.9 L121.8 609.7 L122.2 608.1 L122.6 605.7 L123.0 602.7 L123.4 598.9 L123.8 594.8 L124.2 590.1 L124.6 584.9 L125.0 579.1 L125.4 572.3 L125.8 565.9 L126.2 559.8 L126.6 552.8 L127.0 546.9 L127.4 540.9 L127.8 535.6 L128.2 531.0 L128.6 528.1 L129.0 526.7 L129.4 526.0 L129.8 527.5 L130.2 529.6 L130.6 531.9 L131.0 535.9 L131.4 540.5 L131.8 545.5 L132.2 551.1 L132.6 557.2 L133.0 561.7 L133.4 566.2 L133.8 571.0 L134.2 574.0 L134.6 577.4 L135.0 580.2 L135.4 582.6 L135.8 585.1 L136.2 586.9 L136.6 589.1 L137.0 590.5 L137.4 591.9 L137.8 593.4 L138.2 594.8 L138.6 596.4 L139.0 597.1 L139.4 598.4 L139.8 598.8 L140.2 599.4 L140.6 600.5 L141.0 600.7 L141.4 602.0 L141.8 602.0 L142.2 602.5 L142.6 602.9 L143.0 603.4 L143.4 604.4 L143.8 604.8 L144.2 604.8 L144.6 604.8 L145.0 604.9 L145.4 605.3 L145.8 605.7 L146.2 606.3 L146.6 606.5 L147.0 607.0 L147.4 607.1 L147.8 606.9 L148.2 607.4 L148.6 607.4 L149.0 607.8 L149.4 607.5 L149.8 608.4 L150.2 607.7 L150.6 608.4 L151.0 608.3 L151.4 608.8 L151.8 608.3 L152.2 609.1 L152.6 608.5 L153.0 609.2 L153.4 609.3 L153.8 609.3 L154.2 609.1 L154.6 609.3 L155.0 609.5 L155.4 609.4 L155.8 609.4 L156.2 610.1 L156.6 609.9 L157.0 609.8 L157.4 610.2 L157.8 610.3 L158.2 609.9 L158.6 610.4 L159.0 610.4 L159.4 610.1 L159.8 610.3 L160.2 610.9 L160.6 610.7 L161.0 610.4 L161.4 610.6 L161.8 610.7 L162.2 611.0 L162.6 611.2 L163.0 610.5 L163.4 610.6 L163.8 611.0 L164.2 610.6 L164.6 610.8 L165.0 610.8 L165.4 610.8 L165.8 611.3 L166.2 610.9 L166.6 611.4 L167.0 611.8 L167.4 611.0 L167.8 611.6 L168.2 611.5 L168.6 611.2 L169.0 611.9 L169.4 611.7 L169.8 611.5 L170.2 611.9 L170.6 611.3 L171.0 611.9 L171.4 612.0 L171.8 611.4 L172.2 612.1 L172.6 612.0 L173.0 612.1 L173.4 611.6 L173.8 612.0 L174.2 612.1 L174.6 611.7 L175.0 611.5 L175.4 611.5 L175.8 611.9 L176.2 612.0 L176.6 611.6 L177.0 612.1 L177.4 611.6 L177.8 612.0 L178.2 612.0 L178.6 611.8 L179.0 611.6 L179.4 612.4 L179.8 612.2 L180.2 611.7 L180.6 610.5 L181.0 609.9 L181.4 608.7 L181.8 606.4 L182.2 603.7 L182.6 599.8 L183.0 596.4 L183.4 591.5 L183.8 586.9 L184.2 580.3 L184.6 574.5 L185.0 568.8 L185.4 561.7 L185.8 555.6 L186.2 549.5 L186.6 544.3 L187.0 538.9 L187.4 534.6 L187.8 530.9 L188.2 529.2 L188.6 529.0 L189.0 530.2 L189.4 531.9 L189.8 535.0 L190.2 538.5 L190.6 542.2 L191.0 547.3 L191.4 552.5 L191.8 558.1 L192.2 563.4 L192.6 567.6 L193.0 571.8 L193.4 574.6 L193.8 578.5 L194.2 580.7 L194.6 583.7 L195.0 586.1 L195.4 587.4 L195.8 589.7 L196.2 591.7 L196.6 592.3 L197.0 594.1 L197.4 595.3 L197.8 596.4 L198.2 597.2 L198.6 598.1 L199.0 599.0 L199.4 599.7 L199.8 600.5 L200.2 601.7 L200.6 602.3 L201.0 602.2 L201.4 602.5 L201.8 603.2 L202.2 604.1 L202.6 603.9 L203.0 604.7 L203.4 604.6 L203.8 605.1 L204.2 605.3 L204.6 605.9 L205.0 606.0 L205.4 606.6 L205.8 606.6 L206.2 606.7 L206.6 606.6 L207.0 607.5 L207.4 607.0 L207.8 607.6 L208.2 608.2 L208.6 608.2 L209.0 608.0 L209.4 608.6 L209.8 608.2 L210.2 608.6 L210.6 608.7 L211.0 609.0 L211.4 608.7 L211.8 608.9 L212.2 609.0 L212.6 609.6 L213.0 609.6 L213.4 609.3 L213.8 609.8 L214.2 609.7 L214.6 609.5 L215.0 609.8 L215.4 609.5 L215.8 609.7 L216.2 609.7 L216.6 609.8 L217.0 610.3 L217.4 610.6 L217.8 610.6 L218.2 610.2 L218.6 610.9 L219.0 610.4 L219.4 610.8 L219.8 610.7 L220.2 610.7 L220.6 610.9 L221.0 611.2 L221.4 611.0 L221.8 610.9 L222.2 611.3 L222.6 611.2 L223.0 610.9 L223.4 611.5 L223.8 611.1 L224.2 610.8 L224.6 611.6 L225.0 611.7 L225.4 611.3 L225.8 611.6 L226.2 611.6 L226.6 611.0 L227.0 611.7 L227.4 611.6 L227.8 611.9 L228.2 611.5 L228.6 611.4 L229.0 611.8 L229.4 611.7 L229.8 612.0 L230.2 611.3 L230.6 611.9 L231.0 612.1 L231.4 611.5 L231.8 611.4 L232.2 611.8 L232.6 611.9 L233.0 612.0 L233.4 611.9 L233.8 611.7 L234.2 612.1 L234.6 612.3 L235.0 611.9 L235.4 611.9 L235.8 612.4 L236.2 611.7 L236.6 612.0 L237.0 612.3 L237.4 612.3 L237.8 612.3 L238.2 612.2 L238.6 612.0 L239.0 612.4 L239.4 611.2 L239.8 610.9 L240.2 609.9 L240.6 608.6 L241.0 606.1 L241.4 603.4 L241.8 600.3 L242.2 596.5 L242.6 591.8 L243.0 586.8 L243.4 580.6 L243.8 574.1 L244.2 568.1 L244.6 561.3 L245.0 554.4 L245.4 548.5 L245.8 542.3 L246.2 537.3 L246.6 532.7 L247.0 529.2 L247.4 527.6 L247.8 526.3 L248.2 527.6 L248.6 529.3 L249.0 531.6 L249.4 535.5 L249.8 539.6 L250.2 544.7 L250.6 550.3 L251.0 555.9 L251.4 561.1 L251.8 565.9 L252.2 570.0 L252.6 573.2 L253.0 576.8 L253.4 580.0 L253.8 581.9 L254.2 584.9 L254.6 586.4" fill="none" stroke="#000" stroke-width="1.15" stroke-linejoin="round" clip-path="url(#cb0)"/>
<rect x="98.20" y="495.30" width="148.80" height="129.30" fill="none" stroke="#333" stroke-width="1"/>
<text x="239.1" y="514.6" font-size="18.3" text-anchor="end" textLength="62.4" lengthAdjust="spacingAndGlyphs">50 bpm</text>
<path d="M255.6 602.6 L256.0 602.9 L256.4 604.2 L256.8 604.8 L257.2 604.9 L257.6 605.6 L258.0 605.6 L258.4 606.1 L258.8 606.5 L259.2 607.3 L259.6 607.2 L260.0 608.2 L260.4 607.7 L260.8 608.2 L261.2 608.4 L261.6 609.2 L262.0 609.2 L262.4 609.5 L262.8 609.6 L263.2 610.1 L263.6 610.1 L264.0 610.2 L264.4 610.6 L264.8 610.7 L265.2 610.7 L265.6 611.5 L266.0 611.7 L266.4 611.8 L266.8 611.8 L267.2 610.6 L267.6 609.3 L268.0 607.2 L268.4 604.2 L268.8 600.6 L269.2 595.1 L269.6 589.6 L270.0 583.0 L270.4 575.5 L270.8 567.6 L271.2 560.5 L271.6 552.4 L272.0 545.7 L272.4 538.8 L272.8 532.9 L273.2 529.1 L273.6 526.9 L274.0 526.7 L274.4 528.4 L274.8 531.1 L275.2 534.6 L275.6 539.8 L276.0 545.2 L276.4 551.5 L276.8 557.6 L277.2 562.3 L277.6 567.4 L278.0 571.3 L278.4 575.0 L278.8 577.7 L279.2 580.8 L279.6 583.4 L280.0 586.1 L280.4 588.8 L280.8 590.6 L281.2 592.4 L281.6 593.3 L282.0 595.3 L282.4 596.6 L282.8 597.9 L283.2 598.9 L283.6 599.3 L284.0 600.3 L284.4 601.6 L284.8 602.3 L285.2 603.2 L285.6 603.4 L286.0 604.4 L286.4 604.3 L286.8 605.6 L287.2 606.0 L287.6 605.9 L288.0 606.1 L288.4 606.9 L288.8 607.4 L289.2 607.5 L289.6 607.6 L290.0 608.1 L290.4 608.9 L290.8 608.5 L291.2 609.5 L291.6 609.2 L292.0 609.4 L292.4 609.5 L292.8 610.5 L293.2 610.7 L293.6 610.4 L294.0 610.4 L294.4 611.1 L294.8 611.5 L295.2 610.9 L295.6 611.7 L296.0 612.0 L296.4 611.4 L296.8 610.7 L297.2 609.4 L297.6 606.7 L298.0 603.7 L298.4 600.0 L298.8 595.0 L299.2 588.9 L299.6 581.9 L300.0 575.2 L300.4 567.0 L300.8 559.7 L301.2 552.3 L301.6 544.8 L302.0 538.0 L302.4 532.6 L302.8 528.7 L303.2 526.9 L303.6 526.8 L304.0 528.4 L304.4 531.3 L304.8 535.4 L305.2 540.5 L305.6 546.2 L306.0 552.5 L306.4 557.9 L306.8 563.3 L307.2 567.7 L307.6 571.4 L308.0 575.4 L308.4 578.5 L308.8 581.7 L309.2 584.4 L309.6 586.3 L310.0 588.6 L310.4 590.5 L310.8 592.1 L311.2 593.5 L311.6 594.9 L312.0 597.0 L312.4 598.0 L312.8 598.8 L313.2 599.9 L313.6 600.5 L314.0 601.7 L314.4 602.7 L314.8 603.2 L315.2 603.5 L315.6 604.6 L316.0 605.1 L316.4 604.8 L316.8 605.6 L317.2 606.1 L317.6 606.4 L318.0 607.1 L318.4 607.0 L318.8 607.9 L319.2 608.3 L319.6 607.9 L320.0 608.8 L320.4 608.7 L320.8 609.3 L321.2 609.6 L321.6 610.1 L322.0 610.2 L322.4 610.0 L322.8 610.6 L323.2 610.2 L323.6 611.0 L324.0 610.9 L324.4 610.9 L324.8 611.1 L325.2 611.3 L325.6 611.9 L326.0 610.9 L326.4 610.1 L326.8 608.5 L327.2 606.1 L327.6 603.3 L328.0 598.9 L328.4 593.7 L328.8 587.6 L329.2 580.1 L329.6 572.1 L330.0 564.4 L330.4 556.7 L330.8 549.2 L331.2 542.1 L331.6 535.2 L332.0 529.2 L332.4 526.0 L332.8 524.6 L333.2 524.2 L333.6 526.4 L334.0 529.4 L334.4 533.4 L334.8 538.5 L335.2 544.2 L335.6 550.7 L336.0 556.5 L336.4 562.2 L336.8 566.9 L337.2 571.3 L337.6 574.6 L338.0 578.3 L338.4 580.7 L338.8 583.2 L339.2 585.5 L339.6 587.9 L340.0 590.1 L340.4 592.2 L340.8 593.2 L341.2 594.6 L341.6 596.4 L342.0 597.3 L342.4 598.5 L342.8 599.1 L343.2 600.7 L343.6 601.6 L344.0 602.2 L344.4 603.1 L344.8 603.2 L345.2 603.5 L345.6 604.3 L346.0 605.4 L346.4 605.5 L346.8 605.7 L347.2 606.1 L347.6 606.5 L348.0 607.1 L348.4 607.9 L348.8 608.2 L349.2 608.4 L349.6 608.7 L350.0 608.5 L350.4 609.3 L350.8 609.1 L351.2 609.6 L351.6 609.4 L352.0 610.4 L352.4 609.9 L352.8 610.6 L353.2 610.8 L353.6 611.0 L354.0 611.3 L354.4 611.2 L354.8 611.8 L355.2 612.0 L355.6 611.3 L356.0 610.6 L356.4 608.8 L356.8 605.7 L357.2 602.8 L357.6 598.0 L358.0 593.2 L358.4 586.6 L358.8 579.9 L359.2 571.6 L359.6 564.6 L360.0 556.0 L360.4 548.4 L360.8 541.3 L361.2 535.0 L361.6 530.4 L362.0 526.9 L362.4 525.6 L362.8 525.2 L363.2 527.5 L363.6 530.8 L364.0 535.1 L364.4 540.0 L364.8 546.6 L365.2 552.7 L365.6 558.4 L366.0 563.0 L366.4 567.7 L366.8 572.0 L367.2 575.4 L367.6 578.6 L368.0 581.9 L368.4 584.1 L368.8 586.8 L369.2 588.2 L369.6 590.6 L370.0 592.4 L370.4 593.4 L370.8 595.4 L371.2 596.3 L371.6 597.8 L372.0 598.9 L372.4 599.4 L372.8 601.0 L373.2 601.2 L373.6 601.9 L374.0 602.8 L374.4 603.1 L374.8 603.8 L375.2 604.9 L375.6 604.8 L376.0 605.7 L376.4 606.5 L376.8 606.5 L377.2 607.2 L377.6 607.6 L378.0 607.3 L378.4 607.6 L378.8 608.5 L379.2 608.9 L379.6 609.2 L380.0 609.3 L380.4 609.4 L380.8 610.1 L381.2 610.1 L381.6 610.4 L382.0 610.7 L382.4 610.1 L382.8 611.0 L383.2 611.0 L383.6 610.7 L384.0 611.1 L384.4 611.8 L384.8 611.6 L385.2 611.1 L385.6 609.8 L386.0 608.3 L386.4 605.9 L386.8 602.5 L387.2 597.6 L387.6 592.3 L388.0 585.2 L388.4 578.0 L388.8 570.7 L389.2 563.0 L389.6 554.5 L390.0 546.9 L390.4 540.2 L390.8 533.6 L391.2 528.3 L391.6 525.3 L392.0 524.3 L392.4 525.1 L392.8 526.6 L393.2 530.6 L393.6 534.4 L394.0 540.0 L394.4 546.5 L394.8 552.2 L395.2 558.2 L395.6 563.0 L396.0 567.6 L396.4 572.2 L396.8 575.2 L397.2 578.9 L397.6 582.0 L398.0 584.0 L398.4 586.9 L398.8 588.5 L399.2 590.8 L399.6 592.3 L400.0 593.7 L400.4 595.6 L400.8 596.7 L401.2 597.5 L401.6 598.8 L402.0 599.5 L402.4 600.4 L402.8 601.8 L403.2 602.6 L403.6 602.6 L404.0 603.9 L404.4 604.3 L404.8 604.2 L405.2 604.8 L405.6 605.6 L406.0 606.4 L406.4 606.8 L406.8 606.7 L407.2 607.2 L407.6 608.0 L408.0 607.7 L408.4 607.9 L408.8 608.5 L409.2 609.0 L409.6 609.5 L410.0 609.7 L410.4 609.2 L410.8 609.6 L411.2 609.8 L411.6 610.4 L412.0 610.5 L412.4 611.1 L412.8 611.1 L413.2 611.2 L413.6 611.7 L414.0 611.4 L414.4 612.0 L414.8 611.5 L415.2 610.3 L415.6 608.5 L416.0 605.3 L416.4 601.7 L416.8 597.5 L417.2 592.3 L417.6 585.4 L418.0 578.9 L418.4 571.4 L418.8 563.6 L419.2 555.8 L419.6 548.2 L420.0 542.0" fill="none" stroke="#000" stroke-width="1.15" stroke-linejoin="round" clip-path="url(#cb1)"/>
<rect x="264.00" y="495.30" width="148.10" height="129.30" fill="none" stroke="#555" stroke-width="1"/>
<text x="406.7" y="514.6" font-size="18.3" text-anchor="end" textLength="71.0" lengthAdjust="spacingAndGlyphs">100 bpm</text>
<path d="M419.0 566.6 L419.4 558.9 L419.8 550.8 L420.2 544.5 L420.6 538.7 L421.0 534.2 L421.4 531.5 L421.8 530.0 L422.2 529.4 L422.6 530.9 L423.0 533.0 L423.4 535.8 L423.8 539.8 L424.2 544.0 L424.6 548.6 L425.0 553.9 L425.4 559.6 L425.8 566.2 L426.2 572.3 L426.6 578.4 L427.0 584.2 L427.4 590.0 L427.8 595.0 L428.2 600.1 L428.6 603.9 L429.0 607.8 L429.4 610.5 L429.8 612.6 L430.2 613.3 L430.6 612.9 L431.0 611.6 L431.4 608.8 L431.8 603.8 L432.2 597.8 L432.6 590.3 L433.0 582.2 L433.4 574.1 L433.8 564.9 L434.2 556.6 L434.6 549.2 L435.0 542.4 L435.4 536.6 L435.8 532.6 L436.2 529.8 L436.6 528.8 L437.0 529.1 L437.4 530.4 L437.8 532.5 L438.2 535.5 L438.6 539.8 L439.0 544.0 L439.4 549.3 L439.8 555.2 L440.2 561.1 L440.6 567.1 L441.0 573.7 L441.4 579.9 L441.8 586.3 L442.2 591.9 L442.6 597.2 L443.0 602.4 L443.4 606.1 L443.8 609.4 L444.2 612.5 L444.6 613.5 L445.0 612.7 L445.4 611.2 L445.8 609.1 L446.2 604.8 L446.6 599.2 L447.0 592.6 L447.4 585.5 L447.8 577.6 L448.2 568.4 L448.6 560.0 L449.0 552.0 L449.4 544.0 L449.8 537.6 L450.2 532.0 L450.6 528.4 L451.0 525.8 L451.4 524.8 L451.8 525.4 L452.2 526.7 L452.6 529.2 L453.0 532.5 L453.4 536.8 L453.8 541.4 L454.2 547.1 L454.6 552.6 L455.0 558.5 L455.4 564.8 L455.8 571.2 L456.2 577.9 L456.6 583.5 L457.0 589.5 L457.4 595.1 L457.8 599.8 L458.2 603.5 L458.6 607.0 L459.0 609.3 L459.4 610.5 L459.8 610.8 L460.2 610.0 L460.6 608.3 L461.0 604.3 L461.4 599.5 L461.8 593.3 L462.2 586.0 L462.6 577.7 L463.0 569.2 L463.4 561.3 L463.8 553.5 L464.2 546.9 L464.6 540.9 L465.0 536.3 L465.4 532.7 L465.8 530.9 L466.2 530.0 L466.6 530.4 L467.0 532.4 L467.4 534.4 L467.8 538.1 L468.2 542.1 L468.6 546.8 L469.0 551.2 L469.4 556.9 L469.8 563.4 L470.2 568.7 L470.6 575.0 L471.0 581.1 L471.4 586.7 L471.8 592.4 L472.2 597.4 L472.6 601.2 L473.0 604.7 L473.4 608.3 L473.8 610.1 L474.2 611.2 L474.6 611.2 L475.0 609.9 L475.4 607.8 L475.8 603.4 L476.2 598.2 L476.6 591.9 L477.0 584.0 L477.4 576.3 L477.8 567.2 L478.2 559.6 L478.6 551.9 L479.0 545.1 L479.4 538.4 L479.8 534.2 L480.2 531.1 L480.6 529.4 L481.0 528.9 L481.4 529.5 L481.8 531.9 L482.2 534.6 L482.6 538.0 L483.0 542.4 L483.4 546.8 L483.8 551.7 L484.2 558.0 L484.6 563.4 L485.0 570.1 L485.4 576.2 L485.8 581.8 L486.2 587.5 L486.6 592.8 L487.0 597.8 L487.4 602.8 L487.8 605.7 L488.2 609.1 L488.6 610.3 L489.0 611.4 L489.4 611.3 L489.8 609.5 L490.2 606.9 L490.6 601.7 L491.0 596.0 L491.4 588.7 L491.8 580.7 L492.2 572.8 L492.6 564.0 L493.0 555.7 L493.4 548.0 L493.8 540.5 L494.2 534.6 L494.6 530.7 L495.0 528.0 L495.4 525.6 L495.8 525.9 L496.2 527.5 L496.6 529.4 L497.0 532.5 L497.4 535.9 L497.8 540.7 L498.2 545.0 L498.6 550.9 L499.0 557.2 L499.4 563.0 L499.8 569.4 L500.2 575.7 L500.6 581.8 L501.0 588.1 L501.4 593.7 L501.8 597.9 L502.2 602.3 L502.6 606.3 L503.0 609.0 L503.4 611.4 L503.8 612.5 L504.2 612.7 L504.6 611.4 L505.0 608.5 L505.4 603.5 L505.8 597.5 L506.2 591.3 L506.6 583.7 L507.0 575.6 L507.4 566.9 L507.8 559.4 L508.2 552.3 L508.6 545.2 L509.0 539.7 L509.4 535.8 L509.8 533.4 L510.2 532.6 L510.6 532.9 L511.0 534.1 L511.4 536.2 L511.8 539.4 L512.2 543.1 L512.6 547.0 L513.0 552.3 L513.4 557.5 L513.8 562.8 L514.2 569.1 L514.6 574.7 L515.0 580.9 L515.4 587.1 L515.8 591.9 L516.2 597.5 L516.6 602.0 L517.0 605.8 L517.4 608.8 L517.8 611.7 L518.2 612.9 L518.6 613.1 L519.0 612.5 L519.4 610.5 L519.8 606.3 L520.2 602.0 L520.6 595.1 L521.0 588.3 L521.4 580.4 L521.8 572.7 L522.2 564.5 L522.6 556.4 L523.0 548.7 L523.4 542.4 L523.8 537.8 L524.2 533.8 L524.6 531.6 L525.0 530.8 L525.4 530.7 L525.8 532.3 L526.2 535.2 L526.6 537.8 L527.0 542.1 L527.4 546.0 L527.8 551.0 L528.2 557.0 L528.6 562.6 L529.0 568.9 L529.4 575.2 L529.8 580.6 L530.2 586.8 L530.6 592.2 L531.0 597.8 L531.4 602.2 L531.8 606.1 L532.2 609.1 L532.6 611.1 L533.0 612.7 L533.4 612.8 L533.8 611.6 L534.2 609.1 L534.6 605.4 L535.0 600.2 L535.4 593.0 L535.8 585.5 L536.2 577.1 L536.6 568.7 L537.0 560.2 L537.4 551.8 L537.8 544.9 L538.2 538.3 L538.6 533.7 L539.0 529.6 L539.4 528.0 L539.8 527.6 L540.2 527.4 L540.6 529.3 L541.0 532.5 L541.4 535.4 L541.8 539.6 L542.2 544.2 L542.6 550.2 L543.0 555.6 L543.4 562.2 L543.8 568.2 L544.2 574.2 L544.6 581.2 L545.0 587.1 L545.4 592.6 L545.8 597.6 L546.2 602.3 L546.6 606.4 L547.0 608.8 L547.4 611.3 L547.8 613.3 L548.2 613.4 L548.6 612.9 L549.0 610.4 L549.4 605.9 L549.8 600.0 L550.2 593.6 L550.6 585.9 L551.0 577.7 L551.4 569.4 L551.8 560.7 L552.2 553.2 L552.6 545.8 L553.0 539.4 L553.4 535.3 L553.8 531.5 L554.2 530.4 L554.6 530.0 L555.0 530.2 L555.4 532.1 L555.8 535.3 L556.2 538.7 L556.6 542.9 L557.0 548.1 L557.4 553.1 L557.8 558.8 L558.2 565.3 L558.6 571.8 L559.0 578.1 L559.4 583.5 L559.8 589.9 L560.2 595.0 L560.6 600.6 L561.0 604.4 L561.4 607.8 L561.8 610.9 L562.2 612.6 L562.6 612.8 L563.0 612.6 L563.4 610.1 L563.8 606.9 L564.2 601.9 L564.6 596.2 L565.0 589.3 L565.4 581.0 L565.8 572.6 L566.2 564.5 L566.6 555.7 L567.0 547.8 L567.4 541.1 L567.8 535.3 L568.2 530.9 L568.6 527.7 L569.0 526.5 L569.4 526.4 L569.8 527.5 L570.2 529.6 L570.6 532.3 L571.0 536.1 L571.4 540.3 L571.8 545.1 L572.2 551.4 L572.6 556.9 L573.0 563.1 L573.4 569.6 L573.8 576.1 L574.2 582.3 L574.6 587.6 L575.0 593.6 L575.4 598.7 L575.8 603.0 L576.2 606.6 L576.6 609.0 L577.0 611.3 L577.4 612.0 L577.8 611.9 L578.2 610.4 L578.6 606.8 L579.0 601.9 L579.4 596.4 L579.8 589.6 L580.2 581.7 L580.6 573.1 L581.0 564.8 L581.4 556.4 L581.8 549.6 L582.2 542.5 L582.6 536.9 L583.0 532.9 L583.4 531.0 L583.8 529.4 L584.2 529.8" fill="none" stroke="#000" stroke-width="1.15" stroke-linejoin="round" clip-path="url(#cb2)"/>
<rect x="428.20" y="495.30" width="147.50" height="129.30" fill="none" stroke="#333" stroke-width="1"/>
<text x="571.5" y="514.6" font-size="18.3" text-anchor="end" textLength="72.8" lengthAdjust="spacingAndGlyphs">200 bpm</text>
<text x="52.9" y="558.0" font-size="18.3" text-anchor="middle" transform="rotate(-90 52.9 558.0)" textLength="114.8" lengthAdjust="spacingAndGlyphs">Intensity (a.u.)</text>
<line x1="98.20" y1="634.40" x2="147.70" y2="634.40" stroke="#333" stroke-width="1"/>
<text x="113.5" y="659.4" font-size="18.3" textLength="20.3" lengthAdjust="spacingAndGlyphs">1 s</text>
<path d="M669.1 357.7 L669.4 356.2 L669.7 354.5 L669.9 353.0 L670.2 351.4 L670.5 349.4 L670.8 347.7 L671.1 346.6 L671.4 344.7 L671.6 343.2 L671.9 342.2 L672.1 340.3 L672.4 339.1 L672.6 337.3 L672.9 335.9 L673.1 334.1 L673.4 332.9 L673.7 331.6 L673.9 329.8 L674.2 328.5 L674.4 326.9 L674.7 325.0 L674.9 324.0 L675.2 322.4 L675.4 320.7 L675.7 319.0 L675.9 318.1 L676.2 316.3 L676.5 314.9 L676.7 313.5 L677.5 312.1 L678.4 310.9 L679.2 309.2 L680.1 308.1 L680.9 306.5 L681.7 305.5 L682.6 304.1 L683.3 305.0 L684.1 306.4 L684.9 307.8 L685.6 309.7 L686.4 310.7 L686.8 312.4 L687.1 313.7 L687.5 315.3 L687.9 316.8 L688.3 318.3 L688.6 320.0 L689.0 321.5 L689.4 323.2 L689.8 324.6 L690.1 326.3 L690.5 327.8 L690.9 329.4 L691.3 330.7 L691.6 331.9 L692.0 333.9 L692.4 335.5 L692.7 337.0 L693.3 338.2 L693.8 339.7 L694.3 340.8 L694.9 342.7 L695.4 344.0 L695.9 345.2 L696.5 346.5 L697.0 348.5 L697.5 350.0 L698.1 350.8 L698.6 352.8 L699.1 354.0 L700.7 354.7 L702.3 355.8 L703.9 357.1 L705.5 358.1 L705.8 355.9 L706.1 354.6 L706.4 352.6 L706.6 351.4 L706.9 349.5 L707.2 348.3 L707.5 346.7 L707.7 344.9 L707.9 343.7 L708.2 341.7 L708.4 340.0 L708.6 338.8 L708.8 336.9 L709.0 335.5 L709.2 334.1 L709.5 332.7 L709.7 330.9 L709.9 329.3 L710.1 328.3 L710.3 326.4 L710.5 325.3 L710.8 323.7 L711.0 321.9 L711.2 320.4 L711.4 318.9 L711.6 317.5 L711.8 315.9 L712.6 314.5 L713.4 313.3 L714.2 312.1 L715.0 310.5 L715.8 309.1 L716.6 308.0 L717.4 306.3 L718.2 305.1 L719.0 304.2 L719.7 305.4 L720.4 307.0 L721.1 308.2 L721.9 310.1 L722.6 311.8 L723.3 312.9 L723.7 314.9 L724.1 316.4 L724.5 317.5 L724.9 319.4 L725.3 320.8 L725.7 322.4 L726.1 323.7 L726.4 325.5 L726.8 327.0 L727.2 328.0 L727.6 329.5 L728.0 331.5 L728.5 333.2 L728.9 334.2 L729.3 335.8 L729.7 337.4 L730.1 338.7 L730.5 340.3 L731.0 341.7 L731.4 343.3 L731.8 344.9 L732.2 346.2 L733.1 347.8 L733.9 349.5 L734.8 350.5 L735.6 352.4 L736.5 354.0 L737.3 355.2 L739.2 356.1 L741.1 357.5 L741.8 355.7 L742.4 354.2 L743.0 352.9 L743.7 351.6 L743.9 349.7 L744.1 348.3 L744.3 346.8 L744.5 345.6 L744.7 343.8 L744.9 342.6 L745.1 340.5 L745.3 339.1 L745.5 337.8 L745.7 336.5 L745.9 334.6 L746.1 333.0 L746.3 331.3 L746.5 330.1 L746.7 328.3 L746.9 327.2 L747.1 325.7 L747.3 323.8 L747.5 322.3 L747.7 321.1 L747.9 319.5 L748.2 318.1 L748.4 316.2 L748.6 314.6 L748.8 313.1 L749.6 312.2 L750.5 310.6 L751.3 309.4 L752.2 308.1 L753.1 306.9 L753.9 305.6 L754.8 304.7 L755.6 302.9 L756.4 304.2 L757.2 306.4 L757.9 307.8 L758.7 309.4 L759.5 310.5 L760.2 312.3 L760.6 313.9 L760.9 314.9 L761.3 316.8 L761.6 318.4 L762.0 319.8 L762.3 321.3 L762.7 322.7 L763.0 324.2 L763.4 325.7 L763.7 327.1 L764.1 329.1 L764.4 330.4 L764.8 332.3 L765.1 333.3 L765.5 335.4 L765.8 336.8 L766.5 338.5 L767.1 339.9 L767.8 341.4 L768.4 342.6 L769.1 343.7 L769.7 345.6 L770.4 346.7 L771.0 348.2 L771.7 349.9 L772.3 351.3 L772.9 352.7 L774.2 354.1 L775.5 355.0 L776.8 355.9 L778.0 357.1" fill="none" stroke="#000" stroke-width="1.1" stroke-linejoin="round"/>
<rect x="668.30" y="288.40" width="110.30" height="84.90" fill="none" stroke="#333" stroke-width="1"/>
<line x1="668.30" y1="373.30" x2="668.30" y2="376.30" stroke="#222" stroke-width="0.9"/>
<text x="668.8" y="394.3" font-size="18.3" text-anchor="middle" textLength="9.6" lengthAdjust="spacingAndGlyphs">0</text>
<line x1="692.90" y1="373.30" x2="692.90" y2="375.10" stroke="#222" stroke-width="0.7"/>
<line x1="717.50" y1="373.30" x2="717.50" y2="376.30" stroke="#222" stroke-width="0.9"/>
<text x="717.5" y="394.3" font-size="18.3" text-anchor="middle" textLength="9.6" lengthAdjust="spacingAndGlyphs">2</text>
<line x1="742.10" y1="373.30" x2="742.10" y2="375.10" stroke="#222" stroke-width="0.7"/>
<line x1="766.70" y1="373.30" x2="766.70" y2="376.30" stroke="#222" stroke-width="0.9"/>
<text x="766.7" y="394.3" font-size="18.3" text-anchor="middle" textLength="9.6" lengthAdjust="spacingAndGlyphs">4</text>
<text x="726.6" y="421.5" font-size="18.3" text-anchor="middle" textLength="62.4" lengthAdjust="spacingAndGlyphs">Time (s)</text>
<path d="M785.2 356.4 L785.4 355.3 L785.7 353.6 L785.9 352.3 L786.2 350.5 L786.4 348.9 L786.7 347.6 L787.0 346.3 L787.2 344.4 L787.5 343.3 L787.7 341.9 L788.0 340.3 L788.2 338.8 L788.5 336.8 L788.7 335.7 L789.0 334.4 L789.2 332.3 L789.5 330.9 L789.8 329.4 L790.2 328.1 L790.5 326.5 L790.8 325.0 L791.2 323.7 L791.5 321.6 L791.8 320.1 L792.1 318.6 L792.5 317.1 L792.8 315.5 L793.7 314.7 L794.6 313.2 L795.4 311.2 L796.3 310.0 L797.2 308.4 L798.0 307.0 L798.9 305.5 L800.2 307.0 L801.5 308.3 L802.0 309.5 L802.6 310.9 L803.2 312.4 L803.8 313.7 L804.4 315.5 L805.0 317.1 L805.5 318.3 L808.1 316.8 L808.5 318.5 L809.0 320.3 L809.4 322.1 L809.8 323.8 L810.3 325.2 L810.7 327.1 L811.1 328.6 L812.0 330.2 L812.8 331.9 L813.7 333.6 L814.0 335.3 L814.3 336.6 L814.6 338.2 L815.0 339.6 L815.3 340.9 L815.6 342.6 L815.9 344.2 L816.2 345.2 L816.6 347.0 L816.9 348.5 L817.2 350.3 L817.5 351.8 L818.1 353.0 L818.7 355.0 L819.3 356.6 L820.0 357.8 L820.6 359.6 L820.9 357.8 L821.2 356.7 L821.6 355.0 L821.9 353.6 L822.2 351.9 L822.5 350.3 L822.9 348.7 L823.2 347.0 L823.5 345.1 L823.9 343.9 L824.1 342.0 L824.3 340.6 L824.5 339.6 L824.7 337.6 L824.9 336.1 L825.1 334.6 L825.4 333.7 L825.6 331.7 L825.8 330.1 L826.0 329.2 L826.2 327.2 L826.4 326.3 L826.9 324.6 L827.4 323.2 L827.9 321.7 L828.5 320.0 L829.0 318.6 L829.5 316.5 L830.0 315.5 L830.5 313.8 L831.0 312.4 L831.5 310.5 L832.5 309.5 L833.4 308.2 L834.4 306.2 L835.3 305.0 L836.9 306.1 L838.4 307.1 L838.9 308.2 L839.3 309.6 L839.8 311.1 L840.3 312.8 L840.7 314.4 L841.2 315.6 L841.7 317.0 L843.2 317.0 L844.7 317.0 L845.1 318.6 L845.5 319.9 L845.9 321.8 L846.2 323.7 L846.6 324.8 L847.0 326.6 L847.3 327.8 L847.7 329.7 L848.1 331.3 L848.6 332.8 L849.1 334.2 L849.6 335.7 L850.1 337.3 L850.6 339.0 L851.0 340.1 L851.5 341.6 L851.9 343.6 L852.3 345.3 L852.7 346.5 L853.2 348.0 L853.6 349.8 L854.0 351.0 L854.4 352.6 L855.2 353.9 L856.0 355.6 L856.7 356.8 L857.5 358.2 L857.8 356.9 L858.2 355.4 L858.6 353.4 L859.0 352.0 L859.3 350.2 L859.7 348.9 L860.1 347.1 L860.4 345.3 L860.8 343.6 L861.0 342.0 L861.3 340.8 L861.5 339.2 L861.7 337.6 L861.9 336.2 L862.2 334.7 L862.4 333.5 L862.6 331.6 L862.9 330.6 L863.1 328.8 L863.3 327.4 L863.8 325.7 L864.3 324.3 L864.8 322.7 L865.2 321.0 L865.7 319.3 L866.2 317.9 L866.7 316.4 L867.2 314.5 L868.0 313.4 L868.7 312.3 L869.5 310.7 L870.3 309.3 L871.1 308.0 L871.9 307.1 L872.7 305.8 L873.5 304.7 L874.0 306.1 L874.5 307.1 L875.0 308.5 L875.4 309.9 L875.9 311.3 L876.4 313.1 L876.9 314.6 L877.3 316.1 L878.6 316.6 L879.9 318.0 L881.2 318.6 L882.4 319.6 L882.8 321.4 L883.2 322.6 L883.5 324.3 L883.9 326.4 L884.2 327.7 L884.6 329.4 L885.0 331.2 L885.5 332.8 L886.0 333.8 L886.5 335.6 L887.0 337.2 L887.5 338.7 L887.9 340.2 L888.3 342.1 L888.6 344.0 L889.0 345.2 L889.3 347.0 L889.7 348.3 L890.1 350.0 L891.0 351.8 L892.0 352.9 L892.9 354.9 L893.9 356.1" fill="none" stroke="#000" stroke-width="1.1" stroke-linejoin="round"/>
<rect x="784.40" y="288.40" width="110.30" height="84.90" fill="none" stroke="#333" stroke-width="1"/>
<line x1="784.40" y1="373.30" x2="784.40" y2="376.30" stroke="#222" stroke-width="0.9"/>
<text x="784.9" y="394.3" font-size="18.3" text-anchor="middle" textLength="9.6" lengthAdjust="spacingAndGlyphs">0</text>
<line x1="809.00" y1="373.30" x2="809.00" y2="375.10" stroke="#222" stroke-width="0.7"/>
<line x1="833.60" y1="373.30" x2="833.60" y2="376.30" stroke="#222" stroke-width="0.9"/>
<text x="833.6" y="394.3" font-size="18.3" text-anchor="middle" textLength="9.6" lengthAdjust="spacingAndGlyphs">2</text>
<line x1="858.20" y1="373.30" x2="858.20" y2="375.10" stroke="#222" stroke-width="0.7"/>
<line x1="882.80" y1="373.30" x2="882.80" y2="376.30" stroke="#222" stroke-width="0.9"/>
<text x="882.8" y="394.3" font-size="18.3" text-anchor="middle" textLength="9.6" lengthAdjust="spacingAndGlyphs">4</text>
<text x="842.7" y="421.5" font-size="18.3" text-anchor="middle" textLength="62.4" lengthAdjust="spacingAndGlyphs">Time (s)</text>
<path d="M902.1 355.6 L902.1 353.4 L902.2 352.4 L902.3 350.5 L902.3 349.2 L902.4 347.6 L902.4 345.7 L902.5 344.4 L902.6 342.8 L902.6 341.4 L902.7 339.4 L902.8 338.2 L902.8 336.8 L902.9 335.0 L903.0 333.3 L903.0 331.4 L903.1 330.1 L903.2 328.5 L903.2 327.2 L903.3 325.6 L903.4 323.9 L903.4 322.1 L903.6 320.8 L903.7 319.2 L903.9 317.3 L904.1 316.2 L904.2 314.5 L904.4 312.5 L904.5 311.5 L904.7 309.3 L904.9 307.9 L905.0 306.5 L906.4 305.5 L907.7 304.6 L908.1 306.2 L908.5 307.5 L908.8 308.9 L909.2 310.3 L909.6 311.8 L909.9 313.7 L910.2 315.3 L910.5 316.6 L910.8 318.3 L911.1 319.5 L911.4 321.0 L911.7 322.6 L912.0 324.5 L912.3 325.4 L912.6 324.2 L912.9 322.6 L913.2 321.5 L913.5 319.7 L913.8 318.2 L914.1 316.8 L914.4 315.4 L914.7 314.1 L915.0 312.3 L915.2 311.2 L916.4 312.4 L917.5 314.2 L917.7 315.5 L918.0 317.0 L918.2 319.0 L918.4 320.4 L918.7 321.6 L918.9 323.0 L919.1 324.7 L919.3 326.4 L919.6 327.9 L919.8 329.4 L920.0 330.8 L920.2 331.9 L920.5 333.6 L920.9 335.0 L921.3 336.8 L921.7 338.4 L922.1 339.7 L922.5 341.3 L922.9 343.2 L923.3 344.3 L923.7 346.4 L924.7 347.6 L925.7 348.8 L926.7 349.5 L927.8 350.8 L929.2 351.7 L930.6 352.8 L932.0 354.0 L933.4 354.7 L934.7 355.2 L936.1 356.3 L937.4 356.8 L938.7 357.6 L938.8 356.1 L938.9 354.0 L939.1 352.9 L939.2 351.2 L939.3 349.5 L939.5 347.9 L939.6 346.2 L939.7 344.4 L939.9 343.1 L940.0 341.1 L940.1 339.8 L940.3 338.3 L940.3 336.7 L940.4 335.2 L940.5 334.0 L940.6 332.4 L940.6 330.4 L940.7 329.3 L940.8 327.7 L940.9 325.8 L940.9 324.5 L941.0 322.9 L941.1 321.2 L941.2 320.1 L941.2 318.8 L941.3 316.9 L941.4 315.7 L941.5 314.1 L941.5 312.2 L941.6 311.2 L941.7 309.5 L941.8 308.2 L941.9 306.5 L943.1 305.4 L944.4 304.0 L944.8 305.8 L945.3 307.4 L945.7 308.9 L946.2 310.1 L946.6 311.9 L947.1 313.2 L947.4 314.6 L947.6 316.2 L947.9 317.9 L948.2 319.6 L948.5 321.2 L948.8 323.1 L949.1 324.9 L949.4 326.4 L949.7 324.8 L950.0 323.5 L950.4 321.8 L950.7 320.4 L951.1 319.1 L951.4 317.3 L951.7 315.7 L952.1 314.7 L952.4 313.0 L952.8 311.3 L953.4 312.8 L954.1 314.4 L954.8 316.0 L955.5 317.2 L956.2 318.5 L956.4 320.2 L956.7 322.2 L956.9 323.3 L957.2 325.0 L957.4 326.4 L957.6 327.9 L957.9 329.5 L958.1 331.2 L958.4 332.5 L958.6 334.0 L958.9 335.6 L959.1 337.2 L959.3 338.9 L959.6 340.2 L960.2 341.7 L960.7 343.6 L961.3 345.2 L961.9 347.0 L962.4 348.1 L963.0 350.0 L964.1 351.0 L965.3 351.7 L966.4 353.3 L967.5 353.8 L968.7 354.7 L969.8 355.9 L971.4 356.1 L972.9 356.8 L974.4 357.0 L976.0 357.3 L976.1 355.6 L976.2 354.5 L976.3 352.6 L976.4 351.4 L976.6 349.6 L976.7 348.3 L976.8 346.3 L976.9 344.6 L977.1 343.1 L977.2 341.8 L977.3 340.1 L977.4 338.3 L977.5 336.6 L977.7 335.4 L977.8 334.0 L977.9 332.2 L978.0 330.2 L978.1 328.7 L978.2 327.1 L978.3 325.6 L978.4 324.0 L978.5 322.4 L978.6 321.3 L978.7 319.9 L978.8 317.8 L978.9 316.8 L979.0 314.9 L979.1 313.6 L979.2 312.1 L979.3 310.5 L979.4 308.3 L980.4 307.4 L981.3 306.5 L982.3 305.6 L982.7 306.7 L983.1 308.5 L983.5 310.6 L983.8 311.8 L984.2 313.7 L984.6 315.4 L985.0 317.3 L985.4 319.2 L985.7 320.4 L986.1 322.5 L986.5 324.2 L986.9 325.9 L987.2 324.2 L987.6 323.0 L987.9 321.0 L988.2 319.6 L988.6 317.9 L988.9 316.8 L989.3 315.0 L989.6 313.4 L989.9 311.8 L990.3 310.6 L990.8 312.1 L991.3 313.8 L991.8 315.2 L992.3 316.8 L992.7 318.2 L993.2 320.2 L993.5 321.2 L993.8 323.0 L994.0 324.8 L994.3 326.2 L994.6 327.3 L994.8 328.9 L995.1 330.9 L995.4 332.3 L995.6 333.9 L995.9 335.4 L996.2 336.7 L996.4 338.5 L996.8 340.0 L997.3 341.3 L997.7 343.0 L998.1 344.4 L998.5 346.3 L999.0 348.3 L999.4 349.3 L1000.8 350.8 L1002.2 351.6 L1003.6 352.7 L1005.1 354.2 L1006.5 354.5 L1007.9 355.0 L1009.3 355.6 L1010.8 356.4" fill="none" stroke="#000" stroke-width="1.1" stroke-linejoin="round"/>
<rect x="901.60" y="288.40" width="109.80" height="84.90" fill="none" stroke="#333" stroke-width="1"/>
<line x1="901.60" y1="373.30" x2="901.60" y2="376.30" stroke="#222" stroke-width="0.9"/>
<text x="902.1" y="394.3" font-size="18.3" text-anchor="middle" textLength="9.6" lengthAdjust="spacingAndGlyphs">0</text>
<line x1="926.20" y1="373.30" x2="926.20" y2="375.10" stroke="#222" stroke-width="0.7"/>
<line x1="950.80" y1="373.30" x2="950.80" y2="376.30" stroke="#222" stroke-width="0.9"/>
<text x="950.8" y="394.3" font-size="18.3" text-anchor="middle" textLength="9.6" lengthAdjust="spacingAndGlyphs">2</text>
<line x1="975.40" y1="373.30" x2="975.40" y2="375.10" stroke="#222" stroke-width="0.7"/>
<line x1="1000.00" y1="373.30" x2="1000.00" y2="376.30" stroke="#222" stroke-width="0.9"/>
<text x="1000.0" y="394.3" font-size="18.3" text-anchor="middle" textLength="9.6" lengthAdjust="spacingAndGlyphs">4</text>
<text x="959.9" y="421.5" font-size="18.3" text-anchor="middle" textLength="62.4" lengthAdjust="spacingAndGlyphs">Time (s)</text>
<path d="M1017.6 355.4 L1017.7 353.8 L1017.8 351.8 L1017.9 350.5 L1018.0 349.4 L1018.1 347.4 L1018.3 346.1 L1018.4 344.4 L1018.5 343.1 L1018.6 341.5 L1018.7 340.0 L1018.8 338.3 L1018.9 336.5 L1019.0 335.0 L1019.2 333.4 L1019.3 332.4 L1019.4 330.3 L1019.5 328.7 L1019.6 327.8 L1019.7 325.8 L1019.8 324.7 L1019.9 322.6 L1020.0 321.3 L1020.1 319.6 L1020.2 318.5 L1020.3 316.8 L1020.4 315.3 L1020.6 313.9 L1020.7 312.4 L1020.8 310.5 L1020.9 309.1 L1021.0 307.5 L1022.1 306.3 L1023.3 305.8 L1024.4 304.6 L1024.6 306.3 L1024.8 307.5 L1025.1 309.2 L1025.3 310.7 L1025.5 312.5 L1025.8 313.5 L1026.0 315.3 L1026.2 316.9 L1026.4 318.2 L1026.7 320.1 L1026.8 321.8 L1027.0 323.1 L1027.1 324.8 L1027.2 326.4 L1027.4 327.6 L1027.5 329.3 L1027.7 331.3 L1027.8 332.4 L1027.9 334.0 L1028.1 335.4 L1028.2 337.0 L1028.4 338.6 L1028.5 340.7 L1028.7 342.1 L1028.8 343.7 L1028.9 345.4 L1029.9 346.3 L1030.9 347.6 L1031.9 348.5 L1032.1 346.8 L1032.3 345.5 L1032.5 343.9 L1032.7 342.3 L1032.8 340.4 L1033.0 339.0 L1033.2 337.1 L1033.4 335.9 L1033.6 334.2 L1033.8 332.2 L1034.0 331.0 L1034.2 328.9 L1034.9 327.3 L1035.7 326.2 L1036.4 324.4 L1037.1 326.0 L1037.8 327.5 L1038.5 328.5 L1039.2 330.4 L1039.5 331.6 L1039.8 333.2 L1040.1 334.7 L1040.4 336.5 L1040.7 338.0 L1041.0 339.2 L1041.3 340.6 L1041.6 342.2 L1041.9 343.8 L1042.8 345.1 L1043.6 346.7 L1044.5 348.6 L1045.4 350.1 L1046.3 351.8 L1047.1 353.3 L1048.4 354.4 L1049.6 355.2 L1050.8 356.2 L1052.0 357.4 L1053.3 358.7 L1054.4 357.0 L1055.5 355.3 L1055.6 353.7 L1055.7 352.5 L1055.8 350.6 L1055.9 349.3 L1056.0 348.0 L1056.0 346.5 L1056.1 344.6 L1056.2 343.1 L1056.3 342.0 L1056.4 339.9 L1056.5 338.5 L1056.5 337.3 L1056.6 335.8 L1056.7 334.1 L1056.8 332.5 L1056.9 331.1 L1057.0 330.0 L1057.0 328.3 L1057.1 327.1 L1057.2 325.5 L1057.3 324.1 L1057.4 322.0 L1057.6 320.5 L1057.8 318.9 L1058.0 317.6 L1058.2 316.0 L1058.4 314.2 L1058.6 313.0 L1058.8 311.2 L1059.0 309.8 L1059.2 308.2 L1059.4 307.0 L1059.6 305.2 L1061.5 303.5 L1061.7 304.8 L1062.0 306.6 L1062.3 308.2 L1062.6 309.7 L1062.9 311.3 L1063.2 312.7 L1063.4 313.8 L1063.7 315.2 L1063.9 317.2 L1064.0 318.7 L1064.2 320.0 L1064.3 321.8 L1064.5 323.1 L1064.6 324.4 L1064.8 325.9 L1064.9 327.3 L1065.1 329.2 L1065.2 330.9 L1065.4 332.4 L1065.6 333.6 L1065.7 335.3 L1065.9 337.0 L1066.0 338.4 L1066.4 339.9 L1066.8 341.3 L1067.1 343.0 L1067.5 344.4 L1067.9 346.0 L1068.3 347.9 L1069.0 346.4 L1069.8 344.5 L1070.6 342.7 L1070.8 341.1 L1071.0 339.7 L1071.2 338.4 L1071.5 336.7 L1071.7 335.5 L1071.9 333.4 L1072.1 332.0 L1072.4 330.7 L1072.6 329.1 L1072.8 327.9 L1073.1 326.3 L1073.3 324.9 L1074.0 326.1 L1074.6 327.1 L1075.3 328.9 L1076.0 330.3 L1076.4 331.8 L1076.7 333.3 L1077.1 335.2 L1077.5 336.9 L1077.8 337.9 L1078.2 339.9 L1078.6 341.3 L1078.9 343.0 L1079.3 344.9 L1079.6 346.5 L1080.5 347.6 L1081.3 348.6 L1082.2 350.5 L1083.0 351.3 L1083.8 352.7 L1084.7 354.4 L1085.9 354.8 L1087.2 355.6 L1088.5 356.9 L1089.7 357.7 L1091.0 358.1 L1091.3 356.6 L1091.7 355.0 L1092.0 353.3 L1092.3 351.8 L1092.6 350.8 L1093.0 348.6 L1093.3 347.1 L1093.4 345.6 L1093.5 344.0 L1093.6 342.8 L1093.7 341.4 L1093.8 340.0 L1093.9 338.3 L1094.1 336.9 L1094.2 334.8 L1094.3 333.5 L1094.4 332.5 L1094.5 330.3 L1094.6 329.0 L1094.7 327.6 L1094.8 325.9 L1094.9 324.6 L1095.0 322.7 L1095.1 321.4 L1095.2 320.3 L1095.4 318.3 L1095.5 317.3 L1095.6 315.3 L1095.9 314.2 L1096.2 312.4 L1096.5 310.7 L1096.9 308.7 L1097.2 307.0 L1097.5 305.9 L1097.8 303.9 L1098.6 305.4 L1099.4 307.4 L1100.1 308.9 L1100.3 309.9 L1100.4 312.1 L1100.5 313.4 L1100.7 314.8 L1100.8 316.2 L1101.0 318.0 L1101.1 319.9 L1101.3 321.0 L1101.4 322.5 L1101.5 324.0 L1101.7 325.6 L1101.8 327.3 L1102.0 329.3 L1102.1 330.2 L1102.2 331.9 L1102.4 334.0 L1102.7 335.5 L1102.9 337.0 L1103.2 337.9 L1103.5 339.5 L1103.8 341.4 L1104.0 342.5 L1104.3 344.2 L1104.6 345.4 L1104.8 346.6 L1105.1 348.3 L1106.3 347.5 L1107.4 346.4 L1107.6 344.7 L1107.8 343.1 L1108.0 341.7 L1108.1 340.1 L1108.3 338.6 L1108.5 337.3 L1108.7 335.4 L1108.9 334.1 L1109.1 332.8 L1109.3 331.3 L1109.5 329.3 L1109.7 328.3 L1111.0 327.1 L1112.4 325.5 L1112.7 327.0 L1113.0 328.5 L1113.3 329.8 L1113.6 332.0 L1113.9 333.0 L1114.2 334.8 L1114.5 335.8 L1114.8 337.2 L1115.1 339.3 L1115.4 340.7 L1115.8 342.3 L1116.3 343.5 L1116.8 344.9 L1117.3 346.5 L1117.8 347.5 L1118.3 349.3 L1118.8 350.7 L1120.1 351.5 L1121.4 352.8 L1122.7 353.7 L1124.1 354.8 L1125.4 355.8 L1126.7 356.9" fill="none" stroke="#000" stroke-width="1.1" stroke-linejoin="round"/>
<rect x="1017.10" y="288.40" width="109.60" height="84.90" fill="none" stroke="#333" stroke-width="1"/>
<line x1="1017.10" y1="373.30" x2="1017.10" y2="376.30" stroke="#222" stroke-width="0.9"/>
<text x="1017.6" y="394.3" font-size="18.3" text-anchor="middle" textLength="9.6" lengthAdjust="spacingAndGlyphs">0</text>
<line x1="1041.70" y1="373.30" x2="1041.70" y2="375.10" stroke="#222" stroke-width="0.7"/>
<line x1="1066.30" y1="373.30" x2="1066.30" y2="376.30" stroke="#222" stroke-width="0.9"/>
<text x="1066.3" y="394.3" font-size="18.3" text-anchor="middle" textLength="9.6" lengthAdjust="spacingAndGlyphs">2</text>
<line x1="1090.90" y1="373.30" x2="1090.90" y2="375.10" stroke="#222" stroke-width="0.7"/>
<line x1="1115.50" y1="373.30" x2="1115.50" y2="376.30" stroke="#222" stroke-width="0.9"/>
<text x="1115.5" y="394.3" font-size="18.3" text-anchor="middle" textLength="9.6" lengthAdjust="spacingAndGlyphs">4</text>
<text x="1075.4" y="421.5" font-size="18.3" text-anchor="middle" textLength="62.4" lengthAdjust="spacingAndGlyphs">Time (s)</text>
<text x="648.2" y="345.1" font-size="18.3" text-anchor="middle" transform="rotate(-90 648.2 345.1)" textLength="114.6" lengthAdjust="spacingAndGlyphs">Intensity (a.u.)</text>
<text x="600.5" y="288.5" font-size="21.5" fill="#000" font-weight="bold">e</text>
<line x1="668.00" y1="453.00" x2="1127.60" y2="453.00" stroke="#8a8a8a" stroke-width="1"/>
<line x1="1127.60" y1="453.00" x2="1127.60" y2="626.00" stroke="#8a8a8a" stroke-width="1"/>
<line x1="668.00" y1="453.00" x2="668.00" y2="626.00" stroke="#222" stroke-width="1.1"/>
<line x1="668.00" y1="626.00" x2="1127.60" y2="626.00" stroke="#222" stroke-width="1.1"/>
<line x1="664.00" y1="453.10" x2="668.00" y2="453.10" stroke="#222" stroke-width="1"/>
<text x="651.7" y="459.5" font-size="18.3" text-anchor="end" textLength="19.2" lengthAdjust="spacingAndGlyphs">60</text>
<line x1="664.00" y1="509.40" x2="668.00" y2="509.40" stroke="#222" stroke-width="1"/>
<text x="651.7" y="515.8" font-size="18.3" text-anchor="end" textLength="19.2" lengthAdjust="spacingAndGlyphs">50</text>
<line x1="664.00" y1="565.10" x2="668.00" y2="565.10" stroke="#222" stroke-width="1"/>
<text x="651.7" y="571.5" font-size="18.3" text-anchor="end" textLength="19.2" lengthAdjust="spacingAndGlyphs">40</text>
<line x1="664.00" y1="620.20" x2="668.00" y2="620.20" stroke="#222" stroke-width="1"/>
<text x="651.7" y="626.6" font-size="18.3" text-anchor="end" textLength="19.2" lengthAdjust="spacingAndGlyphs">30</text>
<line x1="665.50" y1="481.30" x2="668.00" y2="481.30" stroke="#222" stroke-width="0.8"/>
<line x1="665.50" y1="537.30" x2="668.00" y2="537.30" stroke="#222" stroke-width="0.8"/>
<line x1="665.50" y1="592.70" x2="668.00" y2="592.70" stroke="#222" stroke-width="0.8"/>
<line x1="668.00" y1="626.00" x2="668.00" y2="629.50" stroke="#222" stroke-width="1"/>
<line x1="866.00" y1="626.00" x2="866.00" y2="629.50" stroke="#222" stroke-width="1"/>
<line x1="1065.80" y1="626.00" x2="1065.80" y2="629.50" stroke="#222" stroke-width="1"/>
<line x1="767.00" y1="626.00" x2="767.00" y2="628.00" stroke="#222" stroke-width="0.8"/>
<line x1="965.90" y1="626.00" x2="965.90" y2="628.00" stroke="#222" stroke-width="0.8"/>
<text x="668.0" y="646.0" font-size="14.5" text-anchor="middle" textLength="7.6" lengthAdjust="spacingAndGlyphs">0</text>
<text x="865.2" y="648.0" font-size="18.3" text-anchor="middle" textLength="39.5" lengthAdjust="spacingAndGlyphs">3600</text>
<text x="1062.5" y="647.5" font-size="18.3" text-anchor="middle" textLength="39.5" lengthAdjust="spacingAndGlyphs">7200</text>
<text x="895.3" y="672.4" font-size="18.3" text-anchor="middle" textLength="61.3" lengthAdjust="spacingAndGlyphs">Time (s)</text>
<text x="618.5" y="542.3" font-size="18.3" text-anchor="middle" transform="rotate(-90 618.5 542.3)" textLength="56.6" lengthAdjust="spacingAndGlyphs">Δ<tspan font-style="italic">C</tspan> (pF)</text>
<text x="599.5" y="459.6" font-size="23" fill="#000" font-weight="bold">f</text>
<path d="M668.5 573.7 L669.3 574.4 L670.1 573.8 L670.9 573.4 L671.7 574.0 L672.5 573.2 L673.3 573.2 L674.1 574.1 L674.9 574.5 L675.7 574.0 L676.5 573.3 L677.3 573.8 L678.1 573.4 L678.9 573.1 L679.7 573.7 L680.5 573.8 L681.3 573.8 L682.1 573.7 L682.9 574.5 L683.7 574.3 L684.5 573.5 L685.3 573.5 L686.1 574.2 L686.9 574.3 L687.7 574.4 L688.5 573.1 L689.3 574.4 L690.1 574.5 L690.9 573.2 L691.7 574.2 L692.5 573.2 L693.3 574.4 L694.1 573.2 L694.9 573.2 L695.7 574.2 L696.5 573.9 L697.3 573.3 L698.1 573.3 L698.9 573.2 L699.7 573.4 L700.5 574.4 L701.3 573.5 L702.1 573.4 L702.9 574.3 L703.7 573.2 L704.5 573.4 L705.3 574.1 L706.1 573.5 L706.9 573.2 L707.7 573.4 L708.5 573.6 L709.3 574.4 L710.1 573.9 L710.9 573.3 L711.7 574.3 L712.5 573.4 L713.3 574.1 L714.1 573.3 L714.9 574.3 L715.7 573.6 L716.5 573.1 L717.3 573.4 L718.1 573.4 L718.9 573.9 L719.7 573.3 L720.5 573.2 L721.3 573.8 L722.1 573.9 L722.9 574.3 L723.7 573.1 L724.5 573.7 L725.3 573.3 L726.1 573.9 L726.9 573.6 L727.7 574.4 L728.5 574.0 L729.3 573.2 L730.1 573.1 L730.9 574.0 L731.7 573.1 L732.5 573.7 L733.3 573.5 L734.1 573.1 L734.9 574.1 L735.7 574.1 L736.5 574.2 L737.3 573.5 L738.1 574.3 L738.9 573.6 L739.7 574.2 L740.5 573.9 L741.3 573.9 L742.1 573.1 L742.9 574.4 L743.7 574.1 L744.5 574.1 L745.3 573.6 L746.1 573.1 L746.9 573.1 L747.7 573.7 L748.5 574.0 L749.3 573.9 L750.1 573.4 L750.9 573.4 L751.7 573.3 L752.5 574.3 L753.3 573.6 L754.1 573.5 L754.9 573.3 L755.7 574.2 L756.5 574.3 L757.3 573.8 L758.1 573.2 L758.9 574.2 L759.7 574.0 L760.5 573.4 L761.3 573.6 L762.1 573.3 L762.9 573.9 L763.7 573.5 L764.5 574.4 L765.3 573.1 L766.1 574.2 L766.9 574.0 L767.7 573.4 L768.5 573.0 L769.3 573.6 L770.1 574.2 L770.9 573.2 L771.7 573.9 L772.5 573.9 L773.3 574.1 L774.1 574.0 L774.9 573.7 L775.7 573.0 L776.5 574.0 L777.3 573.4 L778.1 574.0 L778.9 573.9 L779.7 573.6 L780.5 574.3 L781.3 574.3 L782.1 573.2 L782.9 573.9 L783.7 573.5 L784.5 574.2 L785.3 574.3 L786.1 573.9 L786.9 574.0 L787.7 573.9 L788.5 573.3 L789.3 574.4 L790.1 573.7 L790.9 573.4 L791.7 574.2 L792.5 573.1 L793.3 573.8 L794.1 573.7 L794.9 574.1 L795.7 574.1 L796.5 573.5 L797.3 573.2 L798.1 573.7 L798.9 574.2 L799.7 574.3 L800.5 574.3 L801.3 573.3 L802.1 573.4 L802.9 573.9 L803.7 574.2 L804.5 573.4 L805.3 574.2 L806.1 573.3 L806.9 574.3 L807.7 573.8 L808.5 573.7 L809.3 573.8 L810.1 574.3 L810.9 573.5 L811.7 573.8 L812.5 573.9 L813.3 573.7 L814.1 574.3 L814.9 573.3 L815.7 573.1 L816.5 574.1 L817.3 573.6 L818.1 573.2 L818.9 574.3 L819.7 574.1 L820.5 573.2 L821.3 573.9 L822.1 573.5 L822.9 573.1 L823.7 573.1 L824.5 573.3 L825.3 573.7 L826.1 573.5 L826.9 573.7 L827.7 573.2 L828.5 573.9 L829.3 574.2 L830.1 574.2 L830.9 574.0 L831.7 574.2 L832.5 573.4 L833.3 573.3 L834.1 574.2 L834.9 573.3 L835.7 573.3 L836.5 574.1 L837.3 574.1 L838.1 573.5 L838.9 573.0 L839.7 573.9 L840.5 574.3 L841.3 573.7 L842.1 573.7 L842.9 573.2 L843.7 573.1 L844.5 573.7 L845.3 573.7 L846.1 573.2 L846.9 574.1 L847.7 574.2 L848.5 573.0 L849.3 573.6 L850.1 573.4 L850.9 573.7 L851.7 573.8 L852.5 573.9 L853.3 573.2 L854.1 574.0 L854.9 573.2 L855.7 573.7 L856.5 574.2 L857.3 573.9 L858.1 573.8 L858.9 573.8 L859.7 574.3 L860.5 573.3 L861.3 574.0 L862.1 574.1 L862.9 574.2 L863.7 573.9 L864.5 574.0 L865.3 573.9 L866.1 573.4 L866.9 572.9 L867.7 573.8 L868.5 573.3 L869.3 573.9 L870.1 573.8 L870.9 573.7 L871.7 574.3 L872.5 573.9 L873.3 574.3 L874.1 573.8 L874.9 573.3 L875.7 573.0 L876.5 573.4 L877.3 573.3 L878.1 573.7 L878.9 574.3 L879.7 574.3 L880.5 574.0 L881.3 573.8 L882.1 573.0 L882.9 573.1 L883.7 573.1 L884.5 573.8 L885.3 574.2 L886.1 573.6 L886.9 573.4 L887.7 573.8 L888.5 573.3 L889.3 573.3 L890.1 573.2 L890.9 573.1 L891.7 573.5 L892.5 574.0 L893.3 574.3 L894.1 573.0 L894.9 573.5 L895.7 574.3 L896.5 573.6 L897.3 573.9 L898.1 574.3 L898.9 573.7 L899.7 573.8 L900.5 573.2 L901.3 573.6 L902.1 573.5 L902.9 573.5 L903.7 573.7 L904.5 574.0 L905.3 574.3 L906.1 573.9 L906.9 573.1 L907.7 574.0 L908.5 573.4 L909.3 573.8 L910.1 573.7 L910.9 573.9 L911.7 573.2 L912.5 574.2 L913.3 572.9 L914.1 573.3 L914.9 573.8 L915.7 573.6 L916.5 573.0 L917.3 573.7 L918.1 573.4 L918.9 573.2 L919.7 573.9 L920.5 573.0 L921.3 574.0 L922.1 574.0 L922.9 573.5 L923.7 574.0 L924.5 573.8 L925.3 573.3 L926.1 573.9 L926.9 573.5 L927.7 573.0 L928.5 573.0 L929.3 573.7 L930.1 573.8 L930.9 574.0 L931.7 573.2 L932.5 573.0 L933.3 573.9 L934.1 573.3 L934.9 573.4 L935.7 573.4 L936.5 573.9 L937.3 574.2 L938.1 574.1 L938.9 574.0 L939.7 573.3 L940.5 574.2 L941.3 573.2 L942.1 573.4 L942.9 573.4 L943.7 573.1 L944.5 574.0 L945.3 574.0 L946.1 573.1 L946.9 574.1 L947.7 572.9 L948.5 573.6 L949.3 574.2 L950.1 574.0 L950.9 573.6 L951.7 573.0 L952.5 573.9 L953.3 573.0 L954.1 573.1 L954.9 573.8 L955.7 573.2 L956.5 573.6 L957.3 573.4 L958.1 574.2 L958.9 573.5 L959.7 573.9 L960.5 574.1 L961.3 574.0 L962.1 574.0 L962.9 574.0 L963.7 574.2 L964.5 573.6 L965.3 574.0 L966.1 573.4 L966.9 573.9 L967.7 573.4 L968.5 573.1 L969.3 573.2 L970.1 572.9 L970.9 573.0 L971.7 573.9 L972.5 572.9 L973.3 573.7 L974.1 572.9 L974.9 573.1 L975.7 573.2 L976.5 573.7 L977.3 573.1 L978.1 573.1 L978.9 573.3 L979.7 574.0 L980.5 573.2 L981.3 574.1 L982.1 573.6 L982.9 573.5 L983.7 572.9 L984.5 573.9 L985.3 573.6 L986.1 573.2 L986.9 573.7 L987.7 572.8 L988.5 573.3 L989.3 573.8 L990.1 573.0 L990.9 573.3 L991.7 574.0 L992.5 573.7 L993.3 573.2 L994.1 573.0 L994.9 572.8 L995.7 574.0 L996.5 572.9 L997.3 573.8 L998.1 573.5 L998.9 574.1 L999.7 574.0 L1000.5 573.9 L1001.3 574.1 L1002.1 574.0 L1002.9 573.6 L1003.7 573.0 L1004.5 573.2 L1005.3 572.9 L1006.1 573.5 L1006.9 573.3 L1007.7 573.0 L1008.5 573.5 L1009.3 574.0 L1010.1 572.8 L1010.9 573.8 L1011.7 573.6 L1012.5 572.8 L1013.3 573.9 L1014.1 573.7 L1014.9 573.3 L1015.7 573.2 L1016.5 573.3 L1017.3 573.2 L1018.1 573.8 L1018.9 574.1 L1019.7 573.8 L1020.5 574.0 L1021.3 573.0 L1022.1 573.7 L1022.9 573.0 L1023.7 574.0 L1024.5 572.9 L1025.3 573.0 L1026.1 573.4 L1026.9 574.1 L1027.7 573.5 L1028.5 573.9 L1029.3 573.3 L1030.1 573.4 L1030.9 573.3 L1031.7 574.2 L1032.5 573.7 L1033.3 572.8 L1034.1 573.3 L1034.9 572.9 L1035.7 573.5 L1036.5 573.9 L1037.3 573.0 L1038.1 574.0 L1038.9 573.3 L1039.7 573.0 L1040.5 574.2 L1041.3 573.8 L1042.1 573.1 L1042.9 573.7 L1043.7 572.9 L1044.5 573.6 L1045.3 573.2 L1046.1 573.3 L1046.9 572.9 L1047.7 573.0 L1048.5 573.5 L1049.3 573.6 L1050.1 574.0 L1050.9 573.9 L1051.7 572.9 L1052.5 573.2 L1053.3 573.1 L1054.1 573.9 L1054.9 573.5 L1055.7 572.8 L1056.5 574.1 L1057.3 573.7 L1058.1 573.7 L1058.9 573.3 L1059.7 573.9 L1060.5 573.0 L1061.3 573.0 L1062.1 573.6 L1062.9 573.5 L1063.7 573.6 L1064.5 573.7 L1065.3 573.7 L1066.1 574.1 L1066.9 573.4 L1067.7 573.6 L1068.5 573.8 L1069.3 573.4 L1070.1 573.9 L1070.9 573.3 L1071.7 573.5 L1072.5 573.5 L1073.3 573.4 L1074.1 573.2 L1074.9 573.8 L1075.7 573.8 L1076.5 573.8 L1077.3 573.6 L1078.1 572.9 L1078.9 573.4 L1079.7 572.8 L1080.5 573.5 L1081.3 573.2 L1082.1 573.1 L1082.9 574.0 L1083.7 573.7 L1084.5 573.3 L1085.3 573.0 L1086.1 573.5 L1086.9 572.9 L1087.7 572.9 L1088.5 574.1 L1089.3 573.1 L1090.1 573.2 L1090.9 574.0 L1091.7 573.3 L1092.5 573.6 L1093.3 572.8 L1094.1 573.2 L1094.9 574.0 L1095.7 573.4 L1096.5 573.1 L1097.3 574.0 L1098.1 573.9 L1098.9 573.4 L1099.7 574.0 L1100.5 573.0 L1101.3 573.0 L1102.1 572.8 L1102.9 573.7 L1103.7 574.0 L1104.5 573.7 L1105.3 573.7 L1106.1 573.3 L1106.9 573.0 L1107.7 573.7 L1108.5 573.0 L1109.3 573.6 L1110.1 573.2 L1110.9 574.0 L1111.7 573.0 L1112.5 574.0 L1113.3 573.1 L1114.1 572.8 L1114.9 573.3 L1115.7 573.5 L1116.5 573.5 L1117.3 573.1 L1118.1 572.8 L1118.9 573.8 L1119.7 573.1 L1120.5 573.0 L1121.3 574.1 L1122.1 573.4 L1122.9 573.2 L1123.7 570.9 L1124.5 571.0 L1125.3 570.7 L1126.1 571.3 L1126.9 570.9 L1126.9 620.8 L1126.1 620.5 L1125.3 620.7 L1124.5 620.6 L1123.7 620.2 L1122.9 620.9 L1122.1 620.8 L1121.3 620.0 L1120.5 620.9 L1119.7 620.5 L1118.9 620.2 L1118.1 620.3 L1117.3 620.8 L1116.5 620.3 L1115.7 620.0 L1114.9 620.5 L1114.1 621.0 L1113.3 620.6 L1112.5 620.7 L1111.7 620.3 L1110.9 620.6 L1110.1 620.7 L1109.3 620.8 L1108.5 620.2 L1107.7 620.2 L1106.9 620.3 L1106.1 620.1 L1105.3 620.9 L1104.5 620.1 L1103.7 620.9 L1102.9 620.3 L1102.1 620.1 L1101.3 620.9 L1100.5 620.6 L1099.7 621.0 L1098.9 620.2 L1098.1 620.4 L1097.3 620.2 L1096.5 620.9 L1095.7 620.2 L1094.9 621.0 L1094.1 620.5 L1093.3 620.9 L1092.5 620.0 L1091.7 620.4 L1090.9 620.8 L1090.1 620.1 L1089.3 620.3 L1088.5 620.0 L1087.7 620.5 L1086.9 620.8 L1086.1 620.9 L1085.3 620.7 L1084.5 620.8 L1083.7 620.9 L1082.9 621.0 L1082.1 620.1 L1081.3 620.4 L1080.5 620.2 L1079.7 620.7 L1078.9 620.4 L1078.1 620.4 L1077.3 620.1 L1076.5 620.3 L1075.7 620.6 L1074.9 620.9 L1074.1 620.1 L1073.3 620.9 L1072.5 620.5 L1071.7 620.9 L1070.9 620.4 L1070.1 620.9 L1069.3 621.0 L1068.5 620.8 L1067.7 620.7 L1066.9 620.4 L1066.1 620.6 L1065.3 620.1 L1064.5 620.0 L1063.7 620.3 L1062.9 620.3 L1062.1 620.2 L1061.3 620.4 L1060.5 620.5 L1059.7 620.0 L1058.9 620.6 L1058.1 620.7 L1057.3 620.3 L1056.5 620.9 L1055.7 620.2 L1054.9 620.1 L1054.1 620.2 L1053.3 620.6 L1052.5 620.9 L1051.7 620.8 L1050.9 620.6 L1050.1 621.0 L1049.3 620.3 L1048.5 620.6 L1047.7 620.9 L1046.9 621.0 L1046.1 620.5 L1045.3 620.9 L1044.5 620.7 L1043.7 620.2 L1042.9 620.2 L1042.1 620.9 L1041.3 620.8 L1040.5 620.5 L1039.7 620.7 L1038.9 620.5 L1038.1 620.5 L1037.3 620.8 L1036.5 620.6 L1035.7 620.8 L1034.9 620.4 L1034.1 620.7 L1033.3 620.3 L1032.5 620.6 L1031.7 620.8 L1030.9 620.7 L1030.1 620.0 L1029.3 620.3 L1028.5 620.8 L1027.7 620.6 L1026.9 620.4 L1026.1 620.1 L1025.3 620.1 L1024.5 620.2 L1023.7 620.6 L1022.9 620.4 L1022.1 620.7 L1021.3 620.1 L1020.5 620.1 L1019.7 620.3 L1018.9 620.6 L1018.1 620.3 L1017.3 620.2 L1016.5 620.7 L1015.7 620.3 L1014.9 620.5 L1014.1 620.3 L1013.3 620.2 L1012.5 621.0 L1011.7 620.5 L1010.9 620.2 L1010.1 620.4 L1009.3 620.7 L1008.5 621.0 L1007.7 620.4 L1006.9 620.7 L1006.1 620.7 L1005.3 620.3 L1004.5 620.3 L1003.7 620.8 L1002.9 620.5 L1002.1 620.2 L1001.3 620.1 L1000.5 620.4 L999.7 620.3 L998.9 620.6 L998.1 620.5 L997.3 620.1 L996.5 620.3 L995.7 620.8 L994.9 620.8 L994.1 620.8 L993.3 620.5 L992.5 621.0 L991.7 620.5 L990.9 620.3 L990.1 620.2 L989.3 620.6 L988.5 620.8 L987.7 620.5 L986.9 620.2 L986.1 621.0 L985.3 620.5 L984.5 620.4 L983.7 620.9 L982.9 620.2 L982.1 621.0 L981.3 620.3 L980.5 620.9 L979.7 620.5 L978.9 620.5 L978.1 620.8 L977.3 620.3 L976.5 620.2 L975.7 620.7 L974.9 620.2 L974.1 620.1 L973.3 620.9 L972.5 620.5 L971.7 620.2 L970.9 620.6 L970.1 620.3 L969.3 621.0 L968.5 620.4 L967.7 620.2 L966.9 621.0 L966.1 620.1 L965.3 620.4 L964.5 620.7 L963.7 620.6 L962.9 620.9 L962.1 620.8 L961.3 620.7 L960.5 620.4 L959.7 620.7 L958.9 620.5 L958.1 620.7 L957.3 620.3 L956.5 620.8 L955.7 620.8 L954.9 620.2 L954.1 620.7 L953.3 620.6 L952.5 620.9 L951.7 620.1 L950.9 620.8 L950.1 620.1 L949.3 620.7 L948.5 620.6 L947.7 620.5 L946.9 620.3 L946.1 620.8 L945.3 620.6 L944.5 620.5 L943.7 620.6 L942.9 620.4 L942.1 620.4 L941.3 620.4 L940.5 620.9 L939.7 620.4 L938.9 620.3 L938.1 620.4 L937.3 620.9 L936.5 620.6 L935.7 620.1 L934.9 620.7 L934.1 620.1 L933.3 620.7 L932.5 620.3 L931.7 620.7 L930.9 620.1 L930.1 620.3 L929.3 620.5 L928.5 620.1 L927.7 620.9 L926.9 620.4 L926.1 620.9 L925.3 620.5 L924.5 621.0 L923.7 620.4 L922.9 620.3 L922.1 620.2 L921.3 620.6 L920.5 620.1 L919.7 620.8 L918.9 620.3 L918.1 620.5 L917.3 620.6 L916.5 620.7 L915.7 620.1 L914.9 620.1 L914.1 620.4 L913.3 620.1 L912.5 620.9 L911.7 621.0 L910.9 620.2 L910.1 620.6 L909.3 620.6 L908.5 620.3 L907.7 620.6 L906.9 620.9 L906.1 620.2 L905.3 621.0 L904.5 620.5 L903.7 620.4 L902.9 620.3 L902.1 620.7 L901.3 620.1 L900.5 620.1 L899.7 620.5 L898.9 620.1 L898.1 620.8 L897.3 620.5 L896.5 620.9 L895.7 620.2 L894.9 620.5 L894.1 620.9 L893.3 620.9 L892.5 620.1 L891.7 620.9 L890.9 620.8 L890.1 620.0 L889.3 620.0 L888.5 620.7 L887.7 620.6 L886.9 620.3 L886.1 620.6 L885.3 620.4 L884.5 620.1 L883.7 620.5 L882.9 620.5 L882.1 620.9 L881.3 620.8 L880.5 620.1 L879.7 620.6 L878.9 620.6 L878.1 620.5 L877.3 620.9 L876.5 620.1 L875.7 620.2 L874.9 620.4 L874.1 620.7 L873.3 620.0 L872.5 620.8 L871.7 620.6 L870.9 620.4 L870.1 620.6 L869.3 620.3 L868.5 620.9 L867.7 620.6 L866.9 620.4 L866.1 620.5 L865.3 620.1 L864.5 620.4 L863.7 620.8 L862.9 620.9 L862.1 620.4 L861.3 620.8 L860.5 620.9 L859.7 620.8 L858.9 620.5 L858.1 620.4 L857.3 620.9 L856.5 620.8 L855.7 620.0 L854.9 620.2 L854.1 620.4 L853.3 620.5 L852.5 620.8 L851.7 620.0 L850.9 620.4 L850.1 620.5 L849.3 620.8 L848.5 621.0 L847.7 620.1 L846.9 621.0 L846.1 620.2 L845.3 620.1 L844.5 620.5 L843.7 620.0 L842.9 620.1 L842.1 620.7 L841.3 620.8 L840.5 620.1 L839.7 620.9 L838.9 620.2 L838.1 620.7 L837.3 620.1 L836.5 620.4 L835.7 620.1 L834.9 620.7 L834.1 620.1 L833.3 621.0 L832.5 620.9 L831.7 620.3 L830.9 620.8 L830.1 620.2 L829.3 620.6 L828.5 620.5 L827.7 620.6 L826.9 620.2 L826.1 620.4 L825.3 620.4 L824.5 620.2 L823.7 620.5 L822.9 620.7 L822.1 620.6 L821.3 620.3 L820.5 620.2 L819.7 620.0 L818.9 620.1 L818.1 620.6 L817.3 620.3 L816.5 620.9 L815.7 620.4 L814.9 620.5 L814.1 620.9 L813.3 620.4 L812.5 620.1 L811.7 620.5 L810.9 620.8 L810.1 620.5 L809.3 620.0 L808.5 620.5 L807.7 620.2 L806.9 620.5 L806.1 620.9 L805.3 620.9 L804.5 620.4 L803.7 620.6 L802.9 620.5 L802.1 620.7 L801.3 620.5 L800.5 620.1 L799.7 620.5 L798.9 620.7 L798.1 620.7 L797.3 620.1 L796.5 620.8 L795.7 620.2 L794.9 620.1 L794.1 620.0 L793.3 620.8 L792.5 620.4 L791.7 620.3 L790.9 620.9 L790.1 620.8 L789.3 621.0 L788.5 620.9 L787.7 620.7 L786.9 620.8 L786.1 620.2 L785.3 620.5 L784.5 620.8 L783.7 620.6 L782.9 620.9 L782.1 620.5 L781.3 620.7 L780.5 620.1 L779.7 620.8 L778.9 620.8 L778.1 620.5 L777.3 620.3 L776.5 620.2 L775.7 620.5 L774.9 620.2 L774.1 620.2 L773.3 621.0 L772.5 620.7 L771.7 620.4 L770.9 620.0 L770.1 620.2 L769.3 620.0 L768.5 620.1 L767.7 620.8 L766.9 620.6 L766.1 620.0 L765.3 620.0 L764.5 620.5 L763.7 620.8 L762.9 620.5 L762.1 620.4 L761.3 620.3 L760.5 620.2 L759.7 621.0 L758.9 620.8 L758.1 620.5 L757.3 620.3 L756.5 620.4 L755.7 620.9 L754.9 620.4 L754.1 620.7 L753.3 620.9 L752.5 620.7 L751.7 620.2 L750.9 620.7 L750.1 620.0 L749.3 620.9 L748.5 620.5 L747.7 620.2 L746.9 620.6 L746.1 620.8 L745.3 620.8 L744.5 620.6 L743.7 620.4 L742.9 620.9 L742.1 620.6 L741.3 620.6 L740.5 620.4 L739.7 620.6 L738.9 620.8 L738.1 620.9 L737.3 620.7 L736.5 620.9 L735.7 620.7 L734.9 620.9 L734.1 620.5 L733.3 621.0 L732.5 620.7 L731.7 620.6 L730.9 621.0 L730.1 620.9 L729.3 620.0 L728.5 620.6 L727.7 620.7 L726.9 620.9 L726.1 620.1 L725.3 620.4 L724.5 620.1 L723.7 620.3 L722.9 620.2 L722.1 620.3 L721.3 620.9 L720.5 620.2 L719.7 620.7 L718.9 620.3 L718.1 620.8 L717.3 620.7 L716.5 621.0 L715.7 620.1 L714.9 620.6 L714.1 621.0 L713.3 620.9 L712.5 620.2 L711.7 620.8 L710.9 620.2 L710.1 620.9 L709.3 620.5 L708.5 620.5 L707.7 620.6 L706.9 620.6 L706.1 620.1 L705.3 620.3 L704.5 620.3 L703.7 621.0 L702.9 620.6 L702.1 620.4 L701.3 620.9 L700.5 620.8 L699.7 620.3 L698.9 620.4 L698.1 620.6 L697.3 620.7 L696.5 620.4 L695.7 620.2 L694.9 620.1 L694.1 620.2 L693.3 620.8 L692.5 620.3 L691.7 620.3 L690.9 620.6 L690.1 620.4 L689.3 620.5 L688.5 620.2 L687.7 620.8 L686.9 620.4 L686.1 620.4 L685.3 620.1 L684.5 620.2 L683.7 620.7 L682.9 621.0 L682.1 620.3 L681.3 620.7 L680.5 620.6 L679.7 620.8 L678.9 620.5 L678.1 620.2 L677.3 620.1 L676.5 620.0 L675.7 620.6 L674.9 621.0 L674.1 620.0 L673.3 620.8 L672.5 620.3 L671.7 620.8 L670.9 620.5 L670.1 620.6 L669.3 620.5 L668.5 620.6 Z" fill="#000"/>
<text x="849.3" y="603.5" font-size="18.3" fill="#fff" textLength="107.0" lengthAdjust="spacingAndGlyphs">10,000 cycles</text>
<line x1="678.30" y1="548.20" x2="678.30" y2="570.00" stroke="#333" stroke-width="0.8"/>
<path d="M676.9 568 L678.3 572.2 L679.7 568 Z" fill="#222"/>
<rect x="704.20" y="463.10" width="184.90" height="70.20" fill="#fff" stroke="#555" stroke-width="1"/>
<line x1="889.10" y1="463.10" x2="889.10" y2="533.30" stroke="#aaa" stroke-width="1"/>
<line x1="704.20" y1="463.10" x2="889.10" y2="463.10" stroke="#222" stroke-width="1"/>
<line x1="701.20" y1="472.10" x2="704.20" y2="472.10" stroke="#222" stroke-width="0.9"/>
<text x="696.6" y="478.4" font-size="18.3" text-anchor="end" textLength="19.6" lengthAdjust="spacingAndGlyphs">38</text>
<line x1="701.20" y1="499.00" x2="704.20" y2="499.00" stroke="#222" stroke-width="0.9"/>
<text x="696.6" y="505.3" font-size="18.3" text-anchor="end" textLength="19.6" lengthAdjust="spacingAndGlyphs">34</text>
<line x1="701.20" y1="526.50" x2="704.20" y2="526.50" stroke="#222" stroke-width="0.9"/>
<text x="696.6" y="532.8" font-size="18.3" text-anchor="end" textLength="19.6" lengthAdjust="spacingAndGlyphs">30</text>
<line x1="702.40" y1="485.55" x2="704.20" y2="485.55" stroke="#222" stroke-width="0.7"/>
<line x1="702.40" y1="512.75" x2="704.20" y2="512.75" stroke="#222" stroke-width="0.7"/>
<line x1="736.60" y1="533.30" x2="736.60" y2="536.30" stroke="#222" stroke-width="0.9"/>
<text x="735.4" y="554.2" font-size="18.3" text-anchor="middle" textLength="38.6" lengthAdjust="spacingAndGlyphs">184.5</text>
<line x1="805.20" y1="533.30" x2="805.20" y2="536.30" stroke="#222" stroke-width="0.9"/>
<text x="804.0" y="554.2" font-size="18.3" text-anchor="middle" textLength="38.6" lengthAdjust="spacingAndGlyphs">186.0</text>
<line x1="874.00" y1="533.30" x2="874.00" y2="536.30" stroke="#222" stroke-width="0.9"/>
<text x="872.8" y="554.2" font-size="18.3" text-anchor="middle" textLength="38.6" lengthAdjust="spacingAndGlyphs">187.5</text>
<path d="M704.2 524.6 L704.7 524.5 L705.2 524.8 L705.7 524.2 L706.2 524.6 L706.7 524.1 L707.2 524.4 L707.7 524.1 L708.2 524.2 L708.7 524.4 L709.2 524.4 L709.7 524.4 L710.2 523.9 L710.7 524.1 L711.2 523.8 L711.7 524.1 L712.2 523.9 L712.7 522.4 L713.2 520.4 L713.7 517.2 L714.2 513.0 L714.7 508.5 L715.2 503.0 L715.7 497.8 L716.2 492.5 L716.7 487.9 L717.2 483.3 L717.7 479.3 L718.2 475.9 L718.7 473.9 L719.2 471.9 L719.7 471.9 L720.2 472.1 L720.7 473.2 L721.2 475.3 L721.7 477.6 L722.2 480.9 L722.7 484.8 L723.2 488.9 L723.7 493.6 L724.2 498.5 L724.7 503.1 L725.2 507.4 L725.7 511.8 L726.2 515.2 L726.7 518.9 L727.2 520.8 L727.7 522.4 L728.2 522.8 L728.7 523.1 L729.2 523.2 L729.7 523.2 L730.2 522.7 L730.7 523.0 L731.2 522.9 L731.7 522.9 L732.2 523.4 L732.7 522.8 L733.2 523.1 L733.7 523.3 L734.2 523.5 L734.7 522.9 L735.2 523.2 L735.7 523.4 L736.2 523.0 L736.7 523.1 L737.2 523.6 L737.7 523.1 L738.2 523.4 L738.7 523.3 L739.2 523.5 L739.7 523.3 L740.2 523.3 L740.7 524.0 L741.2 523.9 L741.7 523.9 L742.2 523.6 L742.7 523.6 L743.2 523.9 L743.7 523.7 L744.2 523.9 L744.7 524.3 L745.2 523.9 L745.7 524.0 L746.2 524.4 L746.7 524.2 L747.2 523.9 L747.7 524.2 L748.2 524.4 L748.7 524.0 L749.2 524.2 L749.7 524.5 L750.2 524.6 L750.7 523.3 L751.2 521.2 L751.7 517.6 L752.2 513.6 L752.7 509.3 L753.2 504.0 L753.7 499.1 L754.2 493.6 L754.7 488.8 L755.2 484.2 L755.7 480.5 L756.2 477.0 L756.7 474.7 L757.2 473.2 L757.7 472.9 L758.2 473.2 L758.7 474.5 L759.2 476.8 L759.7 479.3 L760.2 482.7 L760.7 486.1 L761.2 490.5 L761.7 494.8 L762.2 499.9 L762.7 504.3 L763.2 508.8 L763.7 512.8 L764.2 516.6 L764.7 519.8 L765.2 522.3 L765.7 524.1 L766.2 524.4 L766.7 524.0 L767.2 524.0 L767.7 523.9 L768.2 524.4 L768.7 523.9 L769.2 524.2 L769.7 524.1 L770.2 524.2 L770.7 523.5 L771.2 523.7 L771.7 523.7 L772.2 523.4 L772.7 523.9 L773.2 523.5 L773.7 523.8 L774.2 523.5 L774.7 523.2 L775.2 523.4 L775.7 523.2 L776.2 523.1 L776.7 523.1 L777.2 523.4 L777.7 522.9 L778.2 523.1 L778.7 523.2 L779.2 523.2 L779.7 522.9 L780.2 523.3 L780.7 522.9 L781.2 523.2 L781.7 523.2 L782.2 522.8 L782.7 522.8 L783.2 522.9 L783.7 523.2 L784.2 522.9 L784.7 522.9 L785.2 523.3 L785.7 522.8 L786.2 522.9 L786.7 522.9 L787.2 522.8 L787.7 522.7 L788.2 522.7 L788.7 521.9 L789.2 519.6 L789.7 516.5 L790.2 512.6 L790.7 507.5 L791.2 502.8 L791.7 497.8 L792.2 492.2 L792.7 487.7 L793.2 483.2 L793.7 479.5 L794.2 476.3 L794.7 473.5 L795.2 472.3 L795.7 471.5 L796.2 472.2 L796.7 473.4 L797.2 475.2 L797.7 478.2 L798.2 481.5 L798.7 485.5 L799.2 489.7 L799.7 494.2 L800.2 499.1 L800.7 503.9 L801.2 508.2 L801.7 512.8 L802.2 516.3 L802.7 519.4 L803.2 522.1 L803.7 523.7 L804.2 523.9 L804.7 524.3 L805.2 524.4 L805.7 524.3 L806.2 524.5 L806.7 524.0 L807.2 524.3 L807.7 524.3 L808.2 524.1 L808.7 524.4 L809.2 524.2 L809.7 524.5 L810.2 524.6 L810.7 524.5 L811.2 524.4 L811.7 524.4 L812.2 524.3 L812.7 524.5 L813.2 524.9 L813.7 524.6 L814.2 524.4 L814.7 524.7 L815.2 524.4 L815.7 524.6 L816.2 524.7 L816.7 524.9 L817.2 524.5 L817.7 524.6 L818.2 524.8 L818.7 524.7 L819.2 524.6 L819.7 524.5 L820.2 524.4 L820.7 524.3 L821.2 524.2 L821.7 524.6 L822.2 524.6 L822.7 524.2 L823.2 524.5 L823.7 523.9 L824.2 523.9 L824.7 524.1 L825.2 523.9 L825.7 523.9 L826.2 524.3 L826.7 522.5 L827.2 520.1 L827.7 516.8 L828.2 513.1 L828.7 508.1 L829.2 502.9 L829.7 498.1 L830.2 492.8 L830.7 487.7 L831.2 483.3 L831.7 479.5 L832.2 476.1 L832.7 473.8 L833.2 472.2 L833.7 471.9 L834.2 472.3 L834.7 473.1 L835.2 475.1 L835.7 478.1 L836.2 481.0 L836.7 485.1 L837.2 489.3 L837.7 493.9 L838.2 498.7 L838.7 503.3 L839.2 507.3 L839.7 511.9 L840.2 515.5 L840.7 518.7 L841.2 521.0 L841.7 522.4 L842.2 523.2 L842.7 523.0 L843.2 522.8 L843.7 522.8 L844.2 522.9 L844.7 522.8 L845.2 523.0 L845.7 522.8 L846.2 522.8 L846.7 522.8 L847.2 522.8 L847.7 523.3 L848.2 522.9 L848.7 523.1 L849.2 523.4 L849.7 523.2 L850.2 523.0 L850.7 523.6 L851.2 523.6 L851.7 523.1 L852.2 523.2 L852.7 523.5 L853.2 523.7 L853.7 523.5 L854.2 523.7 L854.7 523.4 L855.2 523.8 L855.7 523.6 L856.2 523.6 L856.7 524.0 L857.2 524.1 L857.7 524.1 L858.2 524.0 L858.7 523.9 L859.2 524.2 L859.7 524.1 L860.2 524.3 L860.7 524.3 L861.2 523.9 L861.7 524.1 L862.2 524.4 L862.7 524.1 L863.2 524.1 L863.7 524.0 L864.2 524.4 L864.7 523.5 L865.2 521.2 L865.7 517.4 L866.2 513.7 L866.7 509.0 L867.2 504.1 L867.7 498.8 L868.2 494.1 L868.7 489.2 L869.2 484.1 L869.7 480.6 L870.2 477.0 L870.7 474.5 L871.2 473.2 L871.7 473.1 L872.2 473.6 L872.7 474.2 L873.2 476.4 L873.7 478.8 L874.2 482.5 L874.7 486.3 L875.2 490.5 L875.7 495.0 L876.2 500.0 L876.7 504.7 L877.2 508.8 L877.7 513.0 L878.2 516.9 L878.7 520.2 L879.2 522.7 L879.7 523.8 L880.2 524.4 L880.7 524.2 L881.2 524.4 L881.7 523.9 L882.2 523.8 L882.7 523.8 L883.2 524.3 L883.7 523.8 L884.2 523.9 L884.7 523.6 L885.2 523.7 L885.7 523.4 L886.2 523.8 L886.7 523.4 L887.2 523.7 L887.7 523.4 L888.2 523.4 L888.7 523.5" fill="none" stroke="#000" stroke-width="1.05" stroke-linejoin="round" clip-path="url(#fi0)"/>
<rect x="937.10" y="462.30" width="186.40" height="70.20" fill="#fff" stroke="#555" stroke-width="1"/>
<line x1="937.10" y1="462.30" x2="1123.50" y2="462.30" stroke="#222" stroke-width="1"/>
<line x1="934.10" y1="471.30" x2="937.10" y2="471.30" stroke="#222" stroke-width="0.9"/>
<text x="930.9" y="477.6" font-size="18.3" text-anchor="end" textLength="19.6" lengthAdjust="spacingAndGlyphs">38</text>
<line x1="934.10" y1="498.00" x2="937.10" y2="498.00" stroke="#222" stroke-width="0.9"/>
<text x="930.9" y="504.3" font-size="18.3" text-anchor="end" textLength="19.6" lengthAdjust="spacingAndGlyphs">34</text>
<line x1="934.10" y1="526.20" x2="937.10" y2="526.20" stroke="#222" stroke-width="0.9"/>
<text x="930.9" y="532.5" font-size="18.3" text-anchor="end" textLength="19.6" lengthAdjust="spacingAndGlyphs">30</text>
<line x1="935.30" y1="484.65" x2="937.10" y2="484.65" stroke="#222" stroke-width="0.7"/>
<line x1="935.30" y1="512.10" x2="937.10" y2="512.10" stroke="#222" stroke-width="0.7"/>
<line x1="961.50" y1="532.50" x2="961.50" y2="535.50" stroke="#222" stroke-width="0.9"/>
<text x="960.3" y="553.7" font-size="18.3" text-anchor="middle" textLength="47.9" lengthAdjust="spacingAndGlyphs">8296.5</text>
<line x1="1029.50" y1="532.50" x2="1029.50" y2="535.50" stroke="#222" stroke-width="0.9"/>
<text x="1028.3" y="553.7" font-size="18.3" text-anchor="middle" textLength="47.9" lengthAdjust="spacingAndGlyphs">8298.0</text>
<line x1="1097.50" y1="532.50" x2="1097.50" y2="535.50" stroke="#222" stroke-width="0.9"/>
<text x="1096.3" y="553.7" font-size="18.3" text-anchor="middle" textLength="47.9" lengthAdjust="spacingAndGlyphs">8299.5</text>
<path d="M937.1 524.7 L937.6 524.5 L938.1 524.4 L938.6 524.3 L939.1 524.9 L939.6 524.4 L940.1 524.2 L940.6 524.2 L941.1 524.4 L941.6 524.7 L942.1 524.1 L942.6 524.5 L943.1 524.2 L943.6 524.1 L944.1 524.4 L944.6 524.0 L945.1 523.8 L945.6 524.1 L946.1 524.1 L946.6 523.9 L947.1 522.1 L947.6 519.8 L948.1 516.0 L948.6 511.5 L949.1 505.9 L949.6 500.6 L950.1 494.8 L950.6 488.8 L951.1 483.3 L951.6 478.6 L952.1 474.3 L952.6 470.9 L953.1 468.6 L953.6 467.5 L954.1 466.8 L954.6 467.6 L955.1 468.7 L955.6 471.2 L956.1 474.9 L956.6 478.0 L957.1 482.7 L957.6 487.7 L958.1 492.7 L958.6 497.9 L959.1 502.8 L959.6 508.0 L960.1 512.5 L960.6 516.5 L961.1 519.9 L961.6 521.8 L962.1 523.8 L962.6 523.6 L963.1 523.8 L963.6 523.5 L964.1 524.0 L964.6 523.4 L965.1 523.9 L965.6 523.7 L966.1 523.8 L966.6 523.8 L967.1 524.1 L967.6 524.2 L968.1 524.0 L968.6 524.2 L969.1 524.0 L969.6 524.0 L970.1 524.5 L970.6 524.1 L971.1 524.0 L971.6 524.2 L972.1 524.6 L972.6 524.2 L973.1 524.7 L973.6 524.6 L974.1 524.7 L974.6 524.4 L975.1 524.4 L975.6 524.4 L976.1 524.6 L976.6 524.7 L977.1 524.5 L977.6 524.8 L978.1 524.8 L978.6 524.8 L979.1 524.9 L979.6 525.3 L980.1 524.8 L980.6 525.3 L981.1 524.9 L981.6 525.2 L982.1 524.8 L982.6 525.4 L983.1 525.0 L983.6 525.4 L984.1 524.9 L984.6 524.6 L985.1 522.9 L985.6 519.5 L986.1 515.5 L986.6 511.1 L987.1 506.0 L987.6 499.9 L988.1 494.1 L988.6 488.7 L989.1 483.9 L989.6 478.6 L990.1 475.0 L990.6 471.6 L991.1 469.7 L991.6 468.3 L992.1 468.5 L992.6 469.5 L993.1 471.3 L993.6 473.7 L994.1 476.9 L994.6 480.9 L995.1 485.0 L995.6 490.3 L996.1 495.3 L996.6 500.3 L997.1 505.4 L997.6 510.0 L998.1 514.3 L998.6 518.0 L999.1 521.2 L999.6 523.3 L1000.1 524.2 L1000.6 523.9 L1001.1 524.3 L1001.6 524.1 L1002.1 524.1 L1002.6 524.1 L1003.1 524.3 L1003.6 523.7 L1004.1 523.9 L1004.6 524.2 L1005.1 524.0 L1005.6 523.7 L1006.1 523.9 L1006.6 524.1 L1007.1 523.6 L1007.6 523.9 L1008.1 523.4 L1008.6 524.0 L1009.1 523.6 L1009.6 523.4 L1010.1 523.8 L1010.6 523.7 L1011.1 523.8 L1011.6 523.8 L1012.1 523.7 L1012.6 523.5 L1013.1 523.8 L1013.6 523.2 L1014.1 523.8 L1014.6 523.7 L1015.1 523.3 L1015.6 523.7 L1016.1 523.5 L1016.6 523.6 L1017.1 523.8 L1017.6 523.4 L1018.1 523.4 L1018.6 523.7 L1019.1 523.3 L1019.6 523.7 L1020.1 523.9 L1020.6 523.7 L1021.1 523.6 L1021.6 524.0 L1022.1 524.1 L1022.6 523.2 L1023.1 520.8 L1023.6 517.7 L1024.1 513.4 L1024.6 508.1 L1025.1 502.8 L1025.6 497.0 L1026.1 491.4 L1026.6 486.2 L1027.1 481.5 L1027.6 477.0 L1028.1 472.9 L1028.6 470.1 L1029.1 468.5 L1029.6 468.1 L1030.1 468.2 L1030.6 469.6 L1031.1 471.1 L1031.6 474.6 L1032.1 477.7 L1032.6 482.2 L1033.1 487.0 L1033.6 491.9 L1034.1 496.7 L1034.6 502.2 L1035.1 507.1 L1035.6 511.5 L1036.1 516.0 L1036.6 519.6 L1037.1 522.6 L1037.6 524.2 L1038.1 525.1 L1038.6 525.2 L1039.1 524.8 L1039.6 524.8 L1040.1 525.2 L1040.6 525.1 L1041.1 524.8 L1041.6 524.8 L1042.1 525.4 L1042.6 525.2 L1043.1 525.0 L1043.6 524.9 L1044.1 525.4 L1044.6 525.2 L1045.1 525.2 L1045.6 525.0 L1046.1 524.9 L1046.6 525.0 L1047.1 524.7 L1047.6 525.1 L1048.1 524.9 L1048.6 525.1 L1049.1 524.8 L1049.6 524.8 L1050.1 524.8 L1050.6 525.1 L1051.1 524.7 L1051.6 524.9 L1052.1 524.5 L1052.6 524.7 L1053.1 524.5 L1053.6 524.8 L1054.1 524.4 L1054.6 524.7 L1055.1 524.6 L1055.6 524.4 L1056.1 524.7 L1056.6 524.2 L1057.1 524.4 L1057.6 524.3 L1058.1 524.1 L1058.6 523.8 L1059.1 524.0 L1059.6 523.9 L1060.1 523.9 L1060.6 522.9 L1061.1 519.8 L1061.6 516.3 L1062.1 511.8 L1062.6 506.4 L1063.1 500.9 L1063.6 495.0 L1064.1 489.9 L1064.6 484.1 L1065.1 479.2 L1065.6 474.9 L1066.1 471.7 L1066.6 469.2 L1067.1 467.5 L1067.6 467.0 L1068.1 467.2 L1068.6 469.2 L1069.1 470.9 L1069.6 474.1 L1070.1 477.8 L1070.6 482.4 L1071.1 487.1 L1071.6 491.9 L1072.1 497.5 L1072.6 502.6 L1073.1 506.9 L1073.6 511.9 L1074.1 515.9 L1074.6 519.2 L1075.1 521.8 L1075.6 523.2 L1076.1 523.7 L1076.6 523.7 L1077.1 524.0 L1077.6 524.0 L1078.1 524.1 L1078.6 523.7 L1079.1 524.0 L1079.6 523.9 L1080.1 524.0 L1080.6 524.3 L1081.1 523.6 L1081.6 524.0 L1082.1 524.0 L1082.6 524.2 L1083.1 523.9 L1083.6 524.5 L1084.1 524.0 L1084.6 524.1 L1085.1 524.0 L1085.6 524.3 L1086.1 524.5 L1086.6 524.1 L1087.1 524.2 L1087.6 524.6 L1088.1 524.6 L1088.6 524.8 L1089.1 524.5 L1089.6 524.9 L1090.1 524.9 L1090.6 524.9 L1091.1 524.5 L1091.6 524.8 L1092.1 524.5 L1092.6 525.1 L1093.1 525.2 L1093.6 525.2 L1094.1 524.6 L1094.6 524.9 L1095.1 525.0 L1095.6 525.0 L1096.1 524.8 L1096.6 525.3 L1097.1 524.9 L1097.6 525.1 L1098.1 524.5 L1098.6 523.1 L1099.1 519.8 L1099.6 515.9 L1100.1 511.5 L1100.6 506.1 L1101.1 500.8 L1101.6 494.7 L1102.1 489.3 L1102.6 483.8 L1103.1 479.1 L1103.6 475.2 L1104.1 472.1 L1104.6 469.7 L1105.1 468.8 L1105.6 468.1 L1106.1 469.4 L1106.6 470.6 L1107.1 473.7 L1107.6 476.6 L1108.1 480.4 L1108.6 484.9 L1109.1 489.9 L1109.6 495.0 L1110.1 499.8 L1110.6 504.5 L1111.1 509.4 L1111.6 514.3 L1112.1 518.1 L1112.6 521.1 L1113.1 522.9 L1113.6 524.3 L1114.1 523.9 L1114.6 524.0 L1115.1 524.0 L1115.6 524.5 L1116.1 524.2 L1116.6 524.3 L1117.1 523.7 L1117.6 523.9 L1118.1 523.6 L1118.6 523.7 L1119.1 523.6 L1119.6 524.1 L1120.1 523.7 L1120.6 523.8 L1121.1 523.8 L1121.6 524.0 L1122.1 524.0 L1122.6 523.7 L1123.1 523.6" fill="none" stroke="#000" stroke-width="1.05" stroke-linejoin="round" clip-path="url(#fi1)"/>
<path d="M235.9 752.5 C234.8 750.3 236.8 745.1 238.2 742.9 C239.7 740.7 242.7 739.7 244.7 739.3 C246.7 738.9 250.1 739.4 250.5 740.5 C250.9 741.6 248.1 743.2 247.1 745.8 C246.1 748.4 246.6 754.9 244.7 756.1 C242.8 757.2 236.9 754.7 235.9 752.5 Z" fill="#ecdad6" stroke="none"/>
<path d="M146.6 752.5 L151.4 748.2 L170.0 748.9 L193.9 742.2 L210.7 740.5 L225.1 746.0 L241.8 754.9 L253.8 764.4 L263.4 776.4 L268.2 790.8 L268.2 805.2 L264.6 817.1 L264.6 817.1 L262.7 829.1 L267.0 843.5 L269.4 862.6 L268.2 881.8 L264.6 889.4 L253.8 891.8 L246.6 890.2 L249.0 872.2 L245.4 850.7 L239.4 835.1 L232.7 827.4 L227.0 821.2 L227.5 820.7 L234.7 832.0 L235.9 845.9 L229.9 862.6 L225.1 879.4 L218.4 886.6 L203.5 888.0 L209.5 877.0 L217.9 860.2 L221.5 848.3 L214.3 838.2 L201.1 829.6 L201.1 829.6 L184.4 835.1 L167.6 836.3 L181.3 831.5 L178.9 838.7 L169.3 862.7 L159.8 884.2 L157.4 901.0 L150.2 905.8 L140.6 903.9 L131.0 906.3 L124.3 905.8 L133.4 893.8 L138.2 877.0 L143.0 862.7 L145.4 841.1 L145.4 838.7 L126.2 835.8 L107.1 836.3 L108.3 838.7 L105.9 848.3 L99.9 862.7 L90.3 884.2 L84.3 898.6 L79.5 893.8 L73.5 898.6 L64.0 903.4 L53.2 903.9 L54.4 898.6 L64.0 886.6 L73.5 867.5 L78.3 850.7 L75.9 829.1 Z" fill="#fbf8f7" stroke="none"/>
<path d="M72.3 807.6 L67.5 790.8 L69.9 775.2 L66.3 768.1 L60.4 757.3 L57.5 740.5 L62.3 721.3 L65.1 712.5 L68.3 716.6 L70.4 726.1 L78.3 740.5 L84.3 746.5 L97.5 744.8 L114.3 744.1 L121.4 728.5 L129.8 713.4 L135.8 709.4 L143.0 719.0 L150.2 735.7 L151.4 746.5 L146.6 752.5 L140.6 764.5 L139.4 778.8 L141.8 790.8 L146.6 807.6 L145.4 829.1 L145.4 838.7 L109.5 838.7 L75.9 829.1 Z" fill="#fbf8f7" stroke="none"/>
<path d="M146.6 752.5 L151.4 748.2 L170.0 748.9 L193.9 742.2 L210.7 740.5 L225.1 746.0 L241.8 754.9 L253.8 764.4 L263.4 776.4 L268.2 790.8 L268.2 805.2 L264.6 817.1" fill="none" stroke="#3a3030" stroke-width="0.7" stroke-linejoin="round" stroke-dasharray="7 1.5"/>
<path d="M264.6 817.1 L262.7 829.1 L267.0 843.5 L269.4 862.6 L268.2 881.8 L264.6 889.4 L253.8 891.8 L246.6 890.2 L249.0 872.2 L245.4 850.7 L239.4 835.1 L232.7 827.4 L227.0 821.2" fill="none" stroke="#3a3030" stroke-width="0.7" stroke-linejoin="round" stroke-dasharray="7 1.5"/>
<path d="M227.5 820.7 L234.7 832.0 L235.9 845.9 L229.9 862.6 L225.1 879.4 L218.4 886.6 L203.5 888.0 L209.5 877.0 L217.9 860.2 L221.5 848.3 L214.3 838.2 L201.1 829.6" fill="none" stroke="#3a3030" stroke-width="0.7" stroke-linejoin="round" stroke-dasharray="9 1.2"/>
<path d="M201.1 829.6 L184.4 835.1 L167.6 836.3" fill="none" stroke="#3a3030" stroke-width="0.7" stroke-linejoin="round" stroke-dasharray="7 1.5"/>
<path d="M181.3 831.5 L178.9 838.7 L169.3 862.7 L159.8 884.2 L157.4 901.0 L150.2 905.8 L140.6 903.9 L131.0 906.3 L124.3 905.8 L133.4 893.8 L138.2 877.0 L143.0 862.7 L145.4 841.1" fill="none" stroke="#3a3030" stroke-width="0.7" stroke-linejoin="round" stroke-dasharray="9 1.2"/>
<path d="M108.3 838.7 L105.9 848.3 L99.9 862.7 L90.3 884.2 L84.3 898.6 L79.5 893.8 L73.5 898.6 L64.0 903.4 L53.2 903.9 L54.4 898.6 L64.0 886.6 L73.5 867.5 L78.3 850.7 L75.9 829.1" fill="none" stroke="#3a3030" stroke-width="0.7" stroke-linejoin="round"/>
<path d="M72.3 807.6 L67.5 790.8 L69.9 775.2 L66.3 768.1 L60.4 757.3 L57.5 740.5 L62.3 721.3 L65.1 712.5 L68.3 716.6 L70.4 726.1 L78.3 740.5 L84.3 746.5 L97.5 744.8 L114.3 744.1 L121.4 728.5 L129.8 713.4 L135.8 709.4 L143.0 719.0 L150.2 735.7 L151.4 746.5 L146.6 752.5" fill="none" stroke="#3a3030" stroke-width="0.7" stroke-linejoin="round"/>
<path d="M146.6 752.5 L140.6 764.5 L139.4 778.8 L141.8 790.8 L146.6 807.6 L145.4 829.1 L145.4 838.7" fill="none" stroke="#a89c9c" stroke-width="0.5" stroke-linejoin="round"/>
<ellipse cx="87.4" cy="817.2" rx="15.6" ry="12" fill="#fbf8f7" stroke="#3a3030" stroke-width="0.7"/>
<ellipse cx="81.2" cy="817.9" rx="2.2" ry="3" fill="#6a6060"/>
<ellipse cx="93.2" cy="817.2" rx="2.4" ry="2.8" fill="#6a6060"/>
<ellipse cx="71.4" cy="779.1" rx="2.3" ry="3.2" fill="#1a1212"/>
<ellipse cx="117.4" cy="778.1" rx="3.4" ry="3.8" fill="#1a1212"/>
<path d="M66.3 716.6 C65.9 719.0 64.2 725.3 64.0 730.9 C63.8 736.5 64.2 744.1 65.1 750.1 C66.1 756.1 69.1 764.1 69.9 766.9" fill="none" stroke="#8a8080" stroke-width="0.5"/>
<path d="M132.2 716.6 C131.4 719.0 128.2 726.1 127.4 730.9 C126.6 735.7 126.6 740.9 127.4 745.3 C128.2 749.7 130.0 754.1 132.2 757.3 C134.4 760.5 139.2 763.3 140.6 764.5" fill="none" stroke="#8a8080" stroke-width="0.5"/>
<path d="M134.6 714.2 C136.4 717.8 143.2 729.9 145.4 735.7 C147.6 741.5 147.4 746.7 147.8 748.9" fill="none" stroke="#8a8080" stroke-width="0.5"/>
<path d="M78.3 800.4 C79.9 799.8 84.5 796.8 87.9 796.8 C91.3 796.8 96.1 798.2 98.7 800.4 C101.3 802.6 102.7 808.4 103.5 810.0" fill="none" stroke="#8a8080" stroke-width="0.5"/>
<path d="M107.1 829.1 C109.1 828.3 115.0 826.7 119.0 824.3 C123.0 821.9 127.8 818.8 131.0 814.8 C134.2 810.8 137.0 802.8 138.2 800.4" fill="none" stroke="#8a8080" stroke-width="0.5"/>
<path d="M75.9 829.1 C76.9 830.1 79.3 833.5 81.9 835.1 C84.5 836.7 87.1 838.1 91.5 838.7 C95.9 839.3 105.5 838.7 108.3 838.7" fill="none" stroke="#8a8080" stroke-width="0.5"/>
<path d="M84.3 774.0 C85.5 774.6 89.3 775.8 91.5 777.6 C93.7 779.4 96.5 783.6 97.5 784.8" fill="none" stroke="#8a8080" stroke-width="0.5"/>
<path d="M104.7 774.0 C103.9 775.2 100.9 778.8 99.9 781.2 C98.9 783.6 98.9 787.2 98.7 788.4" fill="none" stroke="#8a8080" stroke-width="0.5"/>
<line x1="59.16" y1="742.90" x2="62.66" y2="748.90" stroke="#aaa" stroke-width="0.4"/>
<line x1="60.12" y1="744.82" x2="63.62" y2="750.82" stroke="#aaa" stroke-width="0.4"/>
<line x1="61.08" y1="746.74" x2="64.58" y2="752.74" stroke="#aaa" stroke-width="0.4"/>
<line x1="62.04" y1="748.65" x2="65.54" y2="754.65" stroke="#aaa" stroke-width="0.4"/>
<line x1="62.99" y1="750.57" x2="66.49" y2="756.57" stroke="#aaa" stroke-width="0.4"/>
<line x1="63.95" y1="752.49" x2="67.45" y2="758.49" stroke="#aaa" stroke-width="0.4"/>
<line x1="64.91" y1="754.40" x2="68.41" y2="760.40" stroke="#aaa" stroke-width="0.4"/>
<line x1="65.87" y1="756.32" x2="69.37" y2="762.32" stroke="#aaa" stroke-width="0.4"/>
<line x1="66.83" y1="758.23" x2="70.33" y2="764.23" stroke="#aaa" stroke-width="0.4"/>
<line x1="111.86" y1="835.12" x2="115.86" y2="840.12" stroke="#aaa" stroke-width="0.4"/>
<line x1="114.25" y1="836.08" x2="118.25" y2="841.08" stroke="#aaa" stroke-width="0.4"/>
<line x1="116.65" y1="837.04" x2="120.65" y2="842.04" stroke="#aaa" stroke-width="0.4"/>
<line x1="119.04" y1="835.12" x2="123.04" y2="840.12" stroke="#aaa" stroke-width="0.4"/>
<line x1="121.44" y1="836.08" x2="125.44" y2="841.08" stroke="#aaa" stroke-width="0.4"/>
<line x1="123.83" y1="837.04" x2="127.83" y2="842.04" stroke="#aaa" stroke-width="0.4"/>
<line x1="126.23" y1="835.12" x2="130.23" y2="840.12" stroke="#aaa" stroke-width="0.4"/>
<line x1="128.62" y1="836.08" x2="132.62" y2="841.08" stroke="#aaa" stroke-width="0.4"/>
<line x1="131.02" y1="837.04" x2="135.02" y2="842.04" stroke="#aaa" stroke-width="0.4"/>
<line x1="133.41" y1="835.12" x2="137.41" y2="840.12" stroke="#aaa" stroke-width="0.4"/>
<line x1="135.81" y1="836.08" x2="139.81" y2="841.08" stroke="#aaa" stroke-width="0.4"/>
<line x1="138.20" y1="837.04" x2="142.20" y2="842.04" stroke="#aaa" stroke-width="0.4"/>
<line x1="140.60" y1="835.12" x2="144.60" y2="840.12" stroke="#aaa" stroke-width="0.4"/>
<line x1="142.99" y1="836.08" x2="146.99" y2="841.08" stroke="#aaa" stroke-width="0.4"/>
<path d="M142.9 797.8 C143.5 795.4 145.9 794.7 148.4 794.7 C151.0 794.7 154.6 796.6 158.3 797.8 C162.0 798.9 166.5 800.2 170.6 801.5 C174.7 802.7 179.5 803.6 182.9 805.1 C186.2 806.7 190.0 808.7 190.8 810.7 C191.7 812.6 189.7 814.9 187.8 816.8 C185.8 818.8 182.4 821.0 179.2 822.4 C175.9 823.7 171.8 824.9 168.1 824.8 C164.4 824.7 160.1 823.4 157.0 821.7 C154.0 820.1 151.7 817.1 149.7 815.0 C147.6 812.8 145.9 811.7 144.7 808.8 C143.6 806.0 142.3 800.1 142.9 797.8 Z" fill="url(#heart)" filter="url(#hb)"/>
<path d="M142.9 797.2 C143.3 795.9 145.3 795.2 147.2 795.3 C149.2 795.4 152.3 796.3 154.6 797.8 C156.8 799.2 160.4 802.1 160.7 803.9 C161.0 805.8 158.3 808.3 156.4 808.8 C154.6 809.3 151.6 808.0 149.7 807.0 C147.7 806.0 145.9 804.3 144.7 802.7 C143.6 801.0 142.5 798.4 142.9 797.2 Z" fill="#d4a3b4" opacity="0.9" filter="url(#hb)"/>
<path d="M145.4 811.3 C145.7 810.1 147.4 808.3 148.4 808.2 C149.5 808.1 151.2 809.5 151.5 810.7 C151.8 811.8 151.1 814.2 150.3 815.0 C149.5 815.8 147.4 816.2 146.6 815.6 C145.8 815.0 145.1 812.5 145.4 811.3 Z" fill="#7fa4cc" opacity="0.85" filter="url(#hb)"/>
<path d="M160.7 808.8 C162.2 807.2 167.1 806.2 170.6 806.4 C174.0 806.6 179.4 808.6 181.6 810.1 C183.9 811.5 184.9 813.3 184.1 815.0 C183.3 816.6 179.6 818.9 176.7 819.9 C173.8 820.9 169.3 821.7 166.9 821.1 C164.4 820.5 163.0 818.3 162.0 816.2 C160.9 814.2 159.3 810.5 160.7 808.8 Z" fill="#efb8a8" opacity="0.8" filter="url(#hb)"/>
<path d="M144.7 790.4 C145.8 789.8 148.6 787.5 150.9 786.7 C153.1 785.9 155.8 785.2 158.3 785.5 C160.7 785.8 164.4 788.0 165.6 788.5" fill="none" stroke="#c9606a" stroke-width="0.6" opacity="0.85"/>
<path d="M148.4 789.2 C149.5 789.6 152.3 791.6 154.6 791.6 C156.8 791.6 159.3 789.0 162.0 789.2 C164.6 789.4 169.1 792.2 170.6 792.9" fill="none" stroke="#6f9acb" stroke-width="0.6" opacity="0.85"/>
<path d="M158.3 784.9 C159.1 785.8 161.1 788.9 163.2 790.4 C165.2 791.9 167.9 792.9 170.6 794.1 C173.2 795.3 177.7 797.2 179.2 797.8" fill="none" stroke="#c9606a" stroke-width="0.6" opacity="0.85"/>
<path d="M152.1 787.3 C153.4 788.2 157.0 791.7 159.5 792.9 C162.0 794.0 165.6 793.9 166.9 794.1" fill="none" stroke="#6f9acb" stroke-width="0.6" opacity="0.85"/>
<path d="M166.9 787.9 C167.9 788.8 170.6 791.6 173.0 792.9 C175.5 794.1 179.0 793.9 181.6 795.3 C184.3 796.7 187.8 800.4 189.0 801.5" fill="none" stroke="#6f9acb" stroke-width="0.6" opacity="0.85"/>
<path d="M184.1 783.0 C184.3 784.5 184.9 788.8 185.3 791.6 C185.7 794.5 186.3 798.8 186.5 800.2" fill="none" stroke="#aaa" stroke-width="0.6" opacity="0.85"/>
<path d="M159.5 806.4 C160.3 807.6 163.2 810.9 164.4 813.7 C165.6 816.6 166.5 821.9 166.9 823.6" fill="none" stroke="#8a6a45" stroke-width="0.6" opacity="0.85"/>
<path d="M165.6 803.9 C167.1 804.7 171.4 807.2 174.2 808.8 C177.1 810.5 181.4 812.9 182.9 813.7" fill="none" stroke="#d0a040" stroke-width="0.6" opacity="0.85"/>
<path d="M170.6 794.1 C171.6 794.9 173.8 797.4 176.7 799.0 C179.6 800.6 185.9 803.1 187.8 803.9" fill="none" stroke="#c9606a" stroke-width="0.6" opacity="0.85"/>
<path d="M154.6 784.2 C154.9 785.1 155.4 787.5 156.4 789.2 C157.5 790.8 160.0 793.3 160.7 794.1" fill="none" stroke="#c9606a" stroke-width="0.6" opacity="0.85"/>
<path d="M147.2 795.3 C147.6 796.5 148.2 800.3 149.7 802.7 C151.1 805.0 154.8 808.3 155.8 809.4" fill="none" stroke="#222" stroke-width="1.1"/>
<path d="M163.2 803.3 C164.8 803.9 168.9 806.1 173.0 807.0 C177.1 807.8 185.3 808.1 187.8 808.3" fill="none" stroke="#222" stroke-width="0.9" stroke-dasharray="2.5 1.5"/>
<path d="M225.1 829.1 C224.5 831.5 222.7 838.3 221.5 843.5 C220.3 848.7 218.5 857.4 217.9 860.2" fill="none" stroke="#e9857f" stroke-width="0.7"/>
<path d="M223.9 836.3 C224.3 838.3 225.9 846.3 226.3 848.3" fill="none" stroke="#e9857f" stroke-width="0.7"/>
<path d="M221.5 843.5 C220.7 844.7 217.5 849.5 216.7 850.7" fill="none" stroke="#e9857f" stroke-width="0.7"/>
<path d="M185.3 809.5 C186.9 809.0 191.7 807.2 194.8 806.6 C198.0 806.1 201.4 804.7 204.4 806.1 C207.4 807.6 209.8 811.3 212.8 815.2 C215.8 819.1 218.9 824.7 222.4 829.6 C225.9 834.5 231.8 842.0 233.6 844.4" fill="none" stroke="#e0392b" stroke-width="0.8"/>
<path d="M184.4 809.0 C186.0 808.5 190.8 806.7 193.9 806.1 C197.1 805.6 200.5 804.2 203.5 805.6 C206.5 807.1 208.9 810.8 211.9 814.7 C214.9 818.6 218.0 824.2 221.5 829.1 C225.0 834.0 230.5 840.0 232.7 843.9 C235.0 847.9 234.4 849.5 235.1 853.0 C235.9 856.6 235.7 861.7 237.0 865.0 C238.4 868.3 242.0 871.4 243.0 872.7" fill="none" stroke="#1a1010" stroke-width="1.1"/>
<path d="M243.0 872.7 L286.6 872.7 L286.6 863.8 M286.6 842.3 L286.6 832.7 M284.6 832.7 L288.6 832.7" fill="none" stroke="#1a1010" stroke-width="1"/>
<circle cx="286.6" cy="853.0" r="10.8" fill="#fff" stroke="#1a1010" stroke-width="1"/>
<line x1="278.96" y1="860.23" x2="294.52" y2="845.86" stroke="#1a1010" stroke-width="0.9"/>
<path d="M294.5 845.9 L290.3 847.1 L293.1 849.9 Z" fill="#1a1010"/>
<path d="M284.5 832.7 C283.5 832.4 281.1 832.6 279.0 831.0 C276.8 829.4 274.4 825.2 271.8 823.1 C269.2 821.0 266.6 818.3 263.4 818.3 C260.2 818.3 255.5 822.2 252.6 823.1 C249.7 824.0 247.2 823.5 246.1 823.6" fill="none" stroke="#333" stroke-width="0.6" stroke-dasharray="4 1"/>
<ellipse cx="238.7" cy="818.8" rx="7.2" ry="5.6" fill="#7fcbe4" stroke="#5fb3d0" stroke-width="0.5" transform="rotate(25 238.7 818.8)"/>
<circle cx="238.7" cy="818.8" r="1.6" fill="#a8c8d0" stroke="#667" stroke-width="0.4"/>
<line x1="234.20" y1="789.60" x2="234.20" y2="811.00" stroke="#555" stroke-width="0.6"/>
<line x1="213.10" y1="855.40" x2="233.20" y2="845.60" stroke="#111" stroke-width="0.9"/>
<path d="M234.4 845.0 L229.4 845.0 L231.0 848.8 Z" fill="#111"/>
<text x="144.8" y="781.5" font-size="18.3" textLength="170.0" lengthAdjust="spacingAndGlyphs">Gel counter electrode</text>
<text x="178.5" y="864.5" font-size="18.3" textLength="24.5" lengthAdjust="spacingAndGlyphs">ITG</text>
<text x="316.4" y="852.4" font-size="18.3" text-anchor="middle" transform="rotate(-90 316.4 852.4)" textLength="79.0" lengthAdjust="spacingAndGlyphs">LCR meter</text>
<text x="26.5" y="716.5" font-size="21.5" fill="#000" font-weight="bold">g</text>
<g clip-path="url(#hl)">
<rect x="352.40" y="704.60" width="199.50" height="202.80" fill="url(#hbg)"/>
<path d="M332.4 684.3 L400.3 684.3 L380.3 728.9 L362.4 749.2 L332.4 789.8 Z" fill="#b6b6b6" opacity="0.9" filter="url(#x4)"/>
<rect x="432.2" y="694.5" width="39.9" height="66.9" fill="#929292" opacity="0.5" filter="url(#x4)"/>
<path d="M429.2 789.8 L465.1 789.8 L462.1 917.5 L432.2 917.5 Z" fill="#505050" opacity="0.75" filter="url(#x4)"/>
<path d="M443.2 816.1 L458.1 816.1 L456.1 917.5 L446.2 917.5 Z" fill="#3c3c3c" opacity="0.6" filter="url(#x4)"/>
<ellipse cx="386.3" cy="850.6" rx="33.9" ry="60.8" fill="#dcdcdc" opacity="0.9" filter="url(#x8)"/>
<ellipse cx="396.3" cy="765.4" rx="20.0" ry="40.6" fill="#d6d6d6" opacity="0.85" filter="url(#x4)"/>
<ellipse cx="532.0" cy="893.2" rx="31.9" ry="28.4" fill="#e0e0e0" opacity="0.9" filter="url(#x8)"/>
<ellipse cx="496.0" cy="846.6" rx="20.0" ry="12.2" fill="#c6c6c6" opacity="0.7" filter="url(#x4)"/>
<ellipse cx="537.9" cy="724.9" rx="20.0" ry="24.3" fill="#c6c6c6" opacity="0.85" filter="url(#x4)"/>
<ellipse cx="496.0" cy="739.1" rx="14.0" ry="16.2" fill="#bdbdbd" opacity="0.8" filter="url(#x4)"/>
<path d="M476.1 704.6 C480.1 706.3 493.0 708.7 500.0 714.7 C507.0 720.8 512.7 731.3 518.0 741.1 C523.3 750.9 527.6 762.7 532.0 773.6 C536.3 784.4 539.9 795.2 543.9 806.0 C547.9 816.8 553.9 833.0 555.9 838.4" fill="none" stroke="#6c6c6c" stroke-width="8" opacity="0.85" filter="url(#x1)"/>
<path d="M462.1 739.1 C467.1 740.1 483.1 741.8 492.0 745.2 C501.0 748.5 508.3 751.9 516.0 759.4 C523.6 766.8 531.3 777.9 537.9 789.8 C544.6 801.6 552.9 823.6 555.9 830.3" fill="none" stroke="#787878" stroke-width="7.5" opacity="0.8" filter="url(#x1)"/>
<path d="M472.1 771.5 C478.1 772.2 497.4 772.5 508.0 775.6 C518.6 778.6 528.0 784.7 535.9 789.8 C543.9 794.8 552.6 803.3 555.9 806.0" fill="none" stroke="#8c8c8c" stroke-width="6" opacity="0.7" filter="url(#x2)"/>
<path d="M468.1 812.1 C475.4 812.6 497.4 812.8 512.0 815.1 C526.6 817.5 548.6 824.4 555.9 826.3" fill="none" stroke="#8a8a8a" stroke-width="8" opacity="0.7" filter="url(#x2)"/>
<path d="M468.1 855.7 C475.4 856.0 497.4 856.5 512.0 857.7 C526.6 858.9 548.6 861.9 555.9 862.8" fill="none" stroke="#929292" stroke-width="6" opacity="0.6" filter="url(#x2)"/>
<path d="M406.3 700.5 C403.6 702.9 394.3 709.7 390.3 714.7 C386.3 719.8 383.7 728.3 382.3 731.0" fill="none" stroke="#a0a0a0" stroke-width="7" opacity="0.8" filter="url(#x1)"/>
<path d="M436.2 737.0 C430.5 737.2 411.9 737.4 402.3 738.1 C392.6 738.7 384.7 738.9 378.3 741.1 C372.0 743.3 368.7 746.2 364.4 751.2 C360.0 756.3 355.4 765.1 352.4 771.5 C349.4 777.9 347.4 786.7 346.4 789.8" fill="none" stroke="#9a9a9a" stroke-width="7.5" opacity="0.85" filter="url(#x1)"/>
<path d="M428.2 775.6 C422.2 776.3 405.6 777.3 392.3 779.6 C379.0 782.0 355.7 788.1 348.4 789.8" fill="none" stroke="#b0b0b0" stroke-width="5" opacity="0.7" filter="url(#x2)"/>
<path d="M424.2 820.2 C418.2 820.5 400.9 820.2 388.3 822.2 C375.7 824.3 355.1 830.7 348.4 832.4" fill="none" stroke="#b6b6b6" stroke-width="6" opacity="0.75" filter="url(#x2)"/>
<path d="M424.2 866.8 C418.9 867.9 404.9 870.6 392.3 872.9 C379.7 875.3 355.7 879.7 348.4 881.0" fill="none" stroke="#bcbcbc" stroke-width="5" opacity="0.7" filter="url(#x2)"/>
<path d="M440.2 704.6 C438.8 708.0 434.0 718.5 432.2 724.9 C430.4 731.3 429.7 740.1 429.2 743.1" fill="none" stroke="#6a6a6a" stroke-width="3" opacity="0.8" filter="url(#x1)"/>
<path d="M438.2 745.2 C437.2 750.6 434.0 767.5 432.2 777.6 C430.4 787.7 428.0 801.3 427.2 806.0" fill="none" stroke="#606060" stroke-width="3.5" opacity="0.75" filter="url(#x1)"/>
<path d="M432.2 806.0 C432.4 812.8 432.2 833.0 433.2 846.6 C434.2 860.1 436.7 876.3 438.2 887.1 C439.7 897.9 441.5 907.4 442.2 911.5" fill="none" stroke="#4a4a4a" stroke-width="3" opacity="0.7" filter="url(#x1)"/>
<path d="M452.1 714.7 C452.8 719.8 456.1 733.3 456.1 745.2 C456.1 757.0 452.8 779.0 452.1 785.7" fill="none" stroke="#8a8a8a" stroke-width="5" opacity="0.5" filter="url(#x2)"/>
<path d="M490.1 710.7 C492.5 713.0 501.0 719.5 505.0 724.9 C509.0 730.3 512.5 740.1 514.0 743.1" fill="none" stroke="#303030" stroke-width="1.5" opacity="0.75" filter="url(#x1)"/>
<path d="M520.0 747.2 C522.0 752.3 528.6 769.2 532.0 777.6 C535.3 786.1 538.6 794.5 539.9 797.9" fill="none" stroke="#303030" stroke-width="1.5" opacity="0.4" filter="url(#x1)"/>
<path d="M532.0 785.7 C533.6 789.1 538.6 798.2 541.9 806.0 C545.2 813.8 550.2 828.0 551.9 832.4" fill="none" stroke="#303030" stroke-width="1.5" opacity="0.8" filter="url(#x1)"/>
<path d="M524.0 771.5 C526.0 774.9 533.9 788.4 535.9 791.8" fill="none" stroke="#303030" stroke-width="1.5" opacity="0.85" filter="url(#x1)"/>
<path d="M472.1 743.1 C477.1 744.7 493.4 747.9 502.0 752.3 C510.7 756.7 520.3 766.6 524.0 769.5" fill="none" stroke="#303030" stroke-width="1.5" opacity="0.5" filter="url(#x1)"/>
<rect x="352.4" y="704.6" width="199.5" height="202.79999999999995" filter="url(#noise)" opacity="0.10"/>
<path d="M461.1 911.5 C461.4 905.7 462.2 891.2 462.7 877.0 C463.3 862.8 463.9 841.5 464.5 826.3 C465.2 811.1 465.7 795.9 466.5 785.7 C467.3 775.6 468.3 769.9 469.1 765.4 C469.9 761.0 470.9 760.0 471.3 759.0" fill="none" stroke="#2c2c2c" stroke-width="2.1" opacity="0.9" filter="url(#x1)" stroke-linecap="round"/>
<path d="M469.1 767.5 Q470.5 757.7 472.1 758.3 Q474.1 760.4 477.1 767.5" fill="none" stroke="#161616" stroke-width="2.1" stroke-linecap="round"/>
<path d="M476.5 766.5 C477.4 768.1 480.0 773.7 482.1 776.6 C484.2 779.5 487.9 782.5 489.1 783.7" fill="none" stroke="#333" stroke-width="1.6" opacity="0.9" filter="url(#x1)"/>
<path d="M489.1 783.7 C490.6 785.0 495.4 788.8 498.0 791.8 C500.7 794.8 503.4 799.4 505.0 801.9 C506.7 804.5 507.5 806.2 508.0 807.0" fill="none" stroke="#686868" stroke-width="0.8" opacity="0.8"/>
<circle cx="508.8" cy="808.4" r="0.8" fill="#333"/>
</g>
<line x1="352.40" y1="705.00" x2="551.90" y2="705.00" stroke="#555" stroke-width="0.8"/>
<rect x="483.60" y="772.30" width="38.80" height="53.30" fill="none" stroke="#fff" stroke-width="1.2" stroke-dasharray="5.6 3.3"/>
<line x1="522.40" y1="772.30" x2="551.70" y2="711.40" stroke="#fff" stroke-width="1" stroke-dasharray="5 4.5"/>
<line x1="523.00" y1="827.50" x2="551.70" y2="896.40" stroke="#fff" stroke-width="0.9" stroke-dasharray="3.5 6" opacity="0.9"/>
<g clip-path="url(#hr)">
<rect x="556.20" y="704.10" width="164.70" height="203.40" fill="url(#hrbg)"/>
<rect x="556.20" y="704.10" width="164.70" height="203.40" fill="url(#hrv)"/>
<ellipse cx="556.2" cy="714.3" rx="49.4" ry="36.6" fill="#6e6e6e" opacity="0.6" filter="url(#x8)"/>
<path d="M605.6 724.4 C615.2 725.5 642.7 725.5 663.3 730.5 C683.8 735.6 718.2 750.9 729.1 755.0" fill="none" stroke="#b2b2b2" stroke-width="16" opacity="0.6" filter="url(#x4)"/>
<path d="M597.4 759.0 C607.0 760.0 633.1 760.4 655.0 765.1 C677.0 769.9 716.8 783.8 729.1 787.5" fill="none" stroke="#787878" stroke-width="11" opacity="0.7" filter="url(#x4)"/>
<path d="M638.5 700.0 C646.8 702.1 672.9 708.2 688.0 712.2 C703.1 716.3 722.3 722.4 729.1 724.4" fill="none" stroke="#888" stroke-width="8" opacity="0.5" filter="url(#x4)"/>
<ellipse cx="572.7" cy="887.2" rx="57.6" ry="20.3" fill="#767676" opacity="0.55" filter="url(#x8)"/>
<path d="M552.9 714.3 C555.1 717.7 561.1 728.8 566.1 734.6 C571.0 740.4 577.1 744.4 582.6 748.8 C588.0 753.3 596.3 759.0 599.0 761.1" fill="none" stroke="#555" stroke-width="7" opacity="0.85" filter="url(#x2)"/>
<path d="M552.9 714.3 C555.1 717.7 561.1 728.8 566.1 734.6 C571.0 740.4 577.1 744.4 582.6 748.8 C588.0 753.3 596.3 759.0 599.0 761.1" fill="none" stroke="#3c3c3c" stroke-width="3" opacity="0.8" filter="url(#x2)"/>
<path d="M599.0 761.1 C602.3 765.1 612.7 777.3 618.8 785.5 C624.8 793.6 630.6 802.4 635.3 809.9 C639.9 817.3 644.2 825.6 646.8 830.2 C649.4 834.8 650.2 836.1 650.9 837.3" fill="none" stroke="#5a5a5a" stroke-width="1.6" opacity="0.9" filter="url(#x1)"/>
<ellipse cx="651.2" cy="838.3" rx="1.6" ry="2.2" fill="#3a3a3a" filter="url(#x1)"/>
</g>
<text x="598.1" y="747.2" font-size="18.3" fill="#fff" textLength="118.7" lengthAdjust="spacingAndGlyphs">Guide catheter</text>
<text x="623.5" y="779.2" font-size="18.3" fill="#fff" textLength="24.9" lengthAdjust="spacingAndGlyphs">ITG</text>
<text x="605.3" y="879.3" font-size="18.3" fill="#fff" textLength="86.9" lengthAdjust="spacingAndGlyphs">Sensing tip</text>
<path d="M582 743 L586.5 741 L586.5 745 Z" fill="#fff"/>
<line x1="586.00" y1="743.00" x2="588.50" y2="743.00" stroke="#fff" stroke-width="0.7"/>
<line x1="636.60" y1="789.50" x2="636.60" y2="796.00" stroke="#fff" stroke-width="0.8"/>
<path d="M635 795 L636.6 799 L638.2 795 Z" fill="#fff"/>
<line x1="650.50" y1="850.00" x2="650.50" y2="858.00" stroke="#fff" stroke-width="0.9"/>
<path d="M648.9 851 L650.5 846.8 L652.1 851 Z" fill="#fff"/>
<text x="331.0" y="720.8" font-size="23" fill="#000" font-weight="bold">h</text>
<rect x="986.20" y="749.10" width="19.80" height="27.80" fill="#dcc2b1"/>
<path d="M837.5 768.9 L837.8 766.8 L838.1 764.8 L838.5 763.7 L838.8 763.8 L839.1 760.9 L839.4 755.9 L839.7 753.0 L840.1 761.6 L840.4 768.0 L840.7 770.9 L841.0 771.4 L841.3 769.6 L841.6 767.8 L842.0 766.0 L842.3 765.0 L842.6 765.1 L842.9 762.6 L843.2 758.1 L843.6 755.6 L843.9 763.1 L844.2 768.8 L844.5 771.3 L844.8 771.5 L845.2 769.4 L845.5 767.3 L845.8 765.2 L846.1 764.1 L846.4 764.2 L846.8 761.3 L847.1 756.1 L847.4 753.2 L847.7 761.9 L848.0 768.5 L848.4 771.4 L848.7 771.3 L849.0 769.4 L849.3 767.6 L849.6 765.8 L849.9 764.8 L850.3 764.9 L850.6 762.3 L850.9 757.8 L851.2 755.2 L851.5 762.9 L851.9 768.7 L852.2 771.2 L852.5 770.9 L852.8 769.0 L853.1 767.2 L853.5 765.4 L853.8 764.4 L854.1 764.5 L854.4 761.9 L854.7 757.4 L855.1 754.8 L855.4 762.5 L855.7 768.3 L856.0 770.8 L856.3 771.7 L856.6 769.7 L857.0 767.7 L857.3 765.7 L857.6 764.7 L857.9 764.8 L858.2 762.0 L858.6 757.2 L858.9 754.4 L859.2 762.6 L859.5 768.9 L859.8 771.6 L860.2 771.8 L860.5 769.8 L860.8 767.7 L861.1 765.7 L861.4 764.7 L861.8 764.7 L862.1 761.9 L862.4 756.9 L862.7 754.0 L863.0 762.5 L863.4 768.9 L863.7 771.7 L864.0 771.1 L864.3 769.2 L864.6 767.4 L864.9 765.5 L865.3 764.6 L865.6 764.6 L865.9 762.0 L866.2 757.4 L866.5 754.8 L866.9 762.6 L867.2 768.5 L867.5 771.1 L867.8 772.1 L868.1 770.3 L868.5 768.4 L868.8 766.6 L869.1 765.7 L869.4 765.7 L869.7 763.1 L870.1 758.6 L870.4 756.1 L870.7 763.7 L871.0 769.5 L871.3 772.0 L871.7 771.3 L872.0 769.4 L872.3 767.5 L872.6 765.6 L872.9 764.6 L873.2 764.7 L873.6 762.0 L873.9 757.2 L874.2 754.6 L874.5 762.6 L874.8 768.6 L875.2 771.3 L875.5 771.3 L875.8 769.3 L876.1 767.4 L876.4 765.4 L876.8 764.4 L877.1 764.5 L877.4 761.7 L877.7 756.9 L878.0 754.2 L878.4 762.4 L878.7 768.5 L879.0 771.2 L879.3 771.4 L879.6 769.5 L879.9 767.6 L880.3 765.6 L880.6 764.7 L880.9 764.7 L881.2 762.0 L881.5 757.3 L881.9 754.7 L882.2 762.6 L882.5 768.7 L882.8 771.3 L883.1 771.4 L883.5 769.4 L883.8 767.5 L884.1 765.6 L884.4 764.6 L884.7 764.7 L885.1 762.0 L885.4 757.2 L885.7 754.6 L886.0 762.6 L886.3 768.6 L886.7 771.3 L887.0 771.3 L887.3 769.5 L887.6 767.6 L887.9 765.8 L888.2 764.8 L888.6 764.9 L888.9 762.3 L889.2 757.7 L889.5 755.2 L889.8 762.9 L890.2 768.7 L890.5 771.2 L890.8 771.2 L891.1 769.4 L891.4 767.6 L891.8 765.8 L892.1 764.9 L892.4 765.0 L892.7 762.4 L893.0 758.0 L893.4 755.5 L893.7 763.0 L894.0 768.6 L894.3 771.1 L894.6 770.0 L894.9 767.9 L895.3 765.8 L895.6 763.7 L895.9 762.7 L896.2 762.8 L896.5 759.8 L896.9 754.6 L897.2 751.7 L897.5 760.4 L897.8 767.0 L898.1 769.9 L898.5 770.5 L898.8 768.7 L899.1 766.8 L899.4 764.9 L899.7 763.9 L900.1 764.0 L900.4 761.3 L900.7 756.7 L901.0 754.1 L901.3 761.9 L901.7 767.9 L902.0 770.5 L902.3 770.7 L902.6 768.8 L902.9 766.9 L903.2 764.9 L903.6 763.9 L903.9 764.0 L904.2 761.3 L904.5 756.5 L904.8 753.8 L905.2 761.9 L905.5 768.0 L905.8 770.7 L906.1 770.5 L906.4 768.7 L906.8 766.8 L907.1 765.0 L907.4 764.1 L907.7 764.2 L908.0 761.6 L908.4 757.1 L908.7 754.6 L909.0 762.2 L909.3 767.9 L909.6 770.4 L910.0 770.4 L910.3 768.4 L910.6 766.4 L910.9 764.4 L911.2 763.4 L911.5 763.5 L911.9 760.7 L912.2 755.8 L912.5 753.0 L912.8 761.3 L913.1 767.6 L913.5 770.3 L913.8 770.2 L914.1 768.1 L914.4 766.0 L914.7 763.9 L915.1 762.9 L915.4 763.0 L915.7 760.0 L916.0 754.9 L916.3 752.0 L916.7 760.7 L917.0 767.2 L917.3 770.1 L917.6 770.2 L917.9 768.4 L918.2 766.6 L918.6 764.8 L918.9 763.9 L919.2 763.9 L919.5 761.4 L919.8 756.9 L920.2 754.4 L920.5 761.9 L920.8 767.7 L921.1 770.2 L921.4 769.4 L921.8 767.3 L922.1 765.2 L922.4 763.1 L922.7 762.0 L923.0 762.1 L923.4 759.2 L923.7 754.0 L924.0 751.1 L924.3 759.8 L924.6 766.4 L925.0 769.3 L925.3 770.4 L925.6 768.3 L925.9 766.2 L926.2 764.1 L926.5 763.1 L926.9 763.2 L927.2 760.2 L927.5 755.1 L927.8 752.2 L928.1 760.9 L928.5 767.4 L928.8 770.3 L929.1 770.3 L929.4 768.3 L929.7 766.3 L930.1 764.3 L930.4 763.3 L930.7 763.4 L931.0 760.5 L931.3 755.6 L931.7 752.8 L932.0 761.1 L932.3 767.5 L932.6 770.2 L932.9 770.6 L933.2 768.7 L933.6 766.8 L933.9 764.9 L934.2 763.9 L934.5 764.0 L934.8 761.3 L935.2 756.7 L935.5 754.1 L935.8 761.9 L936.1 767.9 L936.4 770.5 L936.8 769.7 L937.1 767.7 L937.4 765.7 L937.7 763.7 L938.0 762.6 L938.4 762.7 L938.7 759.9 L939.0 754.9 L939.3 752.1 L939.6 760.5 L940.0 766.8 L940.3 769.6 L940.6 770.5 L940.9 768.5 L941.2 766.5 L941.5 764.5 L941.9 763.5 L942.2 763.6 L942.5 760.8 L942.8 755.9 L943.1 753.1 L943.5 761.4 L943.8 767.6 L944.1 770.4 L944.4 770.0 L944.7 768.2 L945.1 766.4 L945.4 764.6 L945.7 763.7 L946.0 763.8 L946.3 761.3 L946.7 756.8 L947.0 754.3 L947.3 761.8 L947.6 767.5 L947.9 770.0 L948.3 770.4 L948.6 768.4 L948.9 766.5 L949.2 764.5 L949.5 763.5 L949.8 763.6 L950.2 760.8 L950.5 756.0 L950.8 753.3 L951.1 761.5 L951.4 767.6 L951.8 770.3 L952.1 770.5 L952.4 768.5 L952.7 766.6 L953.0 764.6 L953.4 763.6 L953.7 763.7 L954.0 761.0 L954.3 756.2 L954.6 753.5 L955.0 761.6 L955.3 767.7 L955.6 770.4 L955.9 770.5 L956.2 768.8 L956.5 767.0 L956.9 765.2 L957.2 764.3 L957.5 764.4 L957.8 761.9 L958.1 757.6 L958.5 755.1 L958.8 762.5 L959.1 768.0 L959.4 770.5 L959.7 770.8 L960.1 769.0 L960.4 767.2 L960.7 765.4 L961.0 764.5 L961.3 764.6 L961.7 762.1 L962.0 757.7 L962.3 755.2 L962.6 762.6 L962.9 768.2 L963.3 770.7 L963.6 771.3 L963.9 769.4 L964.2 767.4 L964.5 765.5 L964.8 764.5 L965.2 764.5 L965.5 761.8 L965.8 757.0 L966.1 754.2 L966.4 762.4 L966.8 768.5 L967.1 771.3 L967.4 771.4 L967.7 769.5 L968.0 767.5 L968.4 765.6 L968.7 764.6 L969.0 764.7 L969.3 761.9 L969.6 757.1 L970.0 754.4 L970.3 762.5 L970.6 768.6 L970.9 771.3 L971.2 771.7 L971.5 769.8 L971.9 767.8 L972.2 765.9 L972.5 764.9 L972.8 764.9 L973.1 762.2 L973.5 757.4 L973.8 754.7 L974.1 762.8 L974.4 768.9 L974.7 771.6 L975.1 772.1 L975.4 770.2 L975.7 768.3 L976.0 766.5 L976.3 765.5 L976.7 765.6 L977.0 762.9 L977.3 758.3 L977.6 755.7 L977.9 763.5 L978.3 769.4 L978.6 772.0 L978.9 771.0 L979.2 769.0 L979.5 767.0 L979.8 765.0 L980.2 764.0 L980.5 764.1 L980.8 761.2 L981.1 756.3 L981.4 753.5 L981.8 761.9 L982.1 768.1 L982.4 770.9 L982.7 771.4 L983.0 769.4 L983.4 767.4 L983.7 765.4 L984.0 764.4 L984.3 764.5 L984.6 761.7 L985.0 756.8 L985.3 754.1 L985.6 762.3 L985.9 768.6 L986.2 771.3 L986.6 771.4 L986.9 769.6 L987.2 767.7 L987.5 765.9 L987.8 765.0 L988.1 765.0 L988.5 762.4 L988.8 757.9 L989.1 755.4 L989.4 763.0 L989.7 768.8 L990.1 771.3 L990.4 771.9 L990.7 769.9 L991.0 768.0 L991.3 766.1 L991.7 765.1 L992.0 765.2 L992.3 762.5 L992.6 757.8 L992.9 755.1 L993.3 763.1 L993.6 769.1 L993.9 771.8 L994.2 771.0 L994.5 769.1 L994.8 767.2 L995.2 765.3 L995.5 764.4 L995.8 764.4 L996.1 761.8 L996.4 757.1 L996.8 754.5 L997.1 762.4 L997.4 768.3 L997.7 770.9 L998.0 770.6 L998.4 768.6 L998.7 766.6 L999.0 764.6 L999.3 763.6 L999.6 763.7 L1000.0 760.9 L1000.3 756.0 L1000.6 753.3 L1000.9 761.5 L1001.2 767.7 L1001.6 770.5 L1001.9 771.3 L1002.2 769.6 L1002.5 767.8 L1002.8 766.0 L1003.1 765.1 L1003.5 765.2 L1003.8 762.7 L1004.1 758.3 L1004.4 755.9 L1004.7 763.3 L1005.1 768.8 L1005.4 771.3 L1005.7 770.9 L1006.0 769.0 L1006.3 767.1 L1006.7 765.2 L1007.0 764.3 L1007.3 764.3 L1007.6 761.6 L1007.9 757.0 L1008.3 754.3 L1008.6 762.2 L1008.9 768.2 L1009.2 770.9 L1009.5 770.7 L1009.8 768.9 L1010.2 767.0 L1010.5 765.2 L1010.8 764.2 L1011.1 764.3 L1011.4 761.7 L1011.8 757.1 L1012.1 754.5 L1012.4 762.3 L1012.7 768.1 L1013.0 770.7 L1013.4 770.3 L1013.7 768.3 L1014.0 766.2 L1014.3 764.1 L1014.6 763.1 L1015.0 763.2 L1015.3 760.2 L1015.6 755.1 L1015.9 752.3 L1016.2 760.9 L1016.6 767.4 L1016.9 770.2 L1017.2 770.3 L1017.5 768.4 L1017.8 766.6 L1018.1 764.7 L1018.5 763.7 L1018.8 763.8 L1019.1 761.1 L1019.4 756.5 L1019.7 753.9 L1020.1 761.7 L1020.4 767.6 L1020.7 770.2 L1021.0 769.8 L1021.3 767.8 L1021.7 765.9 L1022.0 763.9 L1022.3 762.9 L1022.6 763.0 L1022.9 760.3 L1023.3 755.5 L1023.6 752.7 L1023.9 760.9 L1024.2 767.0 L1024.5 769.7 L1024.9 770.1 L1025.2 768.3 L1025.5 766.5 L1025.8 764.7 L1026.1 763.8 L1026.4 763.9 L1026.8 761.4 L1027.1 757.0 L1027.4 754.5 L1027.7 761.9 L1028.0 767.5 L1028.4 770.0 L1028.7 769.7 L1029.0 767.8 L1029.3 765.9 L1029.6 763.9 L1030.0 762.9 L1030.3 763.0 L1030.6 760.3 L1030.9 755.5 L1031.2 752.9 L1031.6 760.9 L1031.9 767.0 L1032.2 769.7 L1032.5 770.0 L1032.8 768.2 L1033.1 766.3 L1033.5 764.5 L1033.8 763.5 L1034.1 763.6 L1034.4 761.0 L1034.7 756.5 L1035.1 753.9 L1035.4 761.6 L1035.7 767.4 L1036.0 769.9 L1036.3 769.3 L1036.7 767.2 L1037.0 765.1 L1037.3 763.0 L1037.6 761.9 L1037.9 762.0 L1038.3 759.0 L1038.6 753.9 L1038.9 750.9 L1039.2 759.7 L1039.5 766.3 L1039.9 769.2 L1040.2 770.4 L1040.5 768.4 L1040.8 766.4 L1041.1 764.4 L1041.4 763.4 L1041.8 763.5 L1042.1 760.7 L1042.4 755.9 L1042.7 753.1 L1043.0 761.3 L1043.4 767.6 L1043.7 770.3 L1044.0 769.4 L1044.3 767.4 L1044.6 765.3 L1045.0 763.2 L1045.3 762.1 L1045.6 762.2 L1045.9 759.3 L1046.2 754.2 L1046.6 751.3 L1046.9 759.9 L1047.2 766.5 L1047.5 769.4 L1047.8 770.6 L1048.1 768.9 L1048.5 767.1 L1048.8 765.3 L1049.1 764.4 L1049.4 764.4 L1049.7 761.9 L1050.1 757.5 L1050.4 755.0 L1050.7 762.5 L1051.0 768.1 L1051.3 770.6 L1051.7 770.1 L1052.0 768.0 L1052.3 765.9 L1052.6 763.8 L1052.9 762.8 L1053.3 762.8 L1053.6 759.9 L1053.9 754.7 L1054.2 751.8 L1054.5 760.5 L1054.9 767.1 L1055.2 770.0 L1055.5 770.5 L1055.8 768.7 L1056.1 766.9 L1056.4 765.1 L1056.8 764.2 L1057.1 764.3 L1057.4 761.8 L1057.7 757.4 L1058.0 755.0 L1058.4 762.4 L1058.7 767.9 L1059.0 770.4 L1059.3 770.0 L1059.6 768.1 L1060.0 766.1 L1060.3 764.2 L1060.6 763.2 L1060.9 763.2 L1061.2 760.5 L1061.6 755.6 L1061.9 752.9 L1062.2 761.1 L1062.5 767.2 L1062.8 770.0 L1063.2 771.1 L1063.5 769.3 L1063.8 767.5 L1064.1 765.6 L1064.4 764.7 L1064.7 764.8 L1065.1 762.2 L1065.4 757.7 L1065.7 755.1 L1066.0 762.8 L1066.3 768.5 L1066.7 771.1 L1067.0 770.9 L1067.3 769.0 L1067.6 767.1 L1067.9 765.3 L1068.3 764.3 L1068.6 764.4 L1068.9 761.8 L1069.2 757.2 L1069.5 754.6 L1069.9 762.3 L1070.2 768.2 L1070.5 770.8 L1070.8 771.0 L1071.1 769.0 L1071.4 767.1 L1071.8 765.2 L1072.1 764.2 L1072.4 764.3 L1072.7 761.5 L1073.0 756.8 L1073.4 754.1 L1073.7 762.1 L1074.0 768.2 L1074.3 770.9 L1074.6 770.6 L1075.0 768.5 L1075.3 766.4 L1075.6 764.3 L1075.9 763.3 L1076.2 763.4 L1076.6 760.4 L1076.9 755.3 L1077.2 752.4 L1077.5 761.1 L1077.8 767.6 L1078.2 770.5 L1078.5 771.0 L1078.8 769.1 L1079.1 767.1 L1079.4 765.2 L1079.7 764.3 L1080.1 764.3 L1080.4 761.6 L1080.7 756.9 L1081.0 754.3 L1081.3 762.2 L1081.7 768.2 L1082.0 770.9 L1082.3 771.5 L1082.6 769.6 L1082.9 767.6 L1083.3 765.7 L1083.6 764.7 L1083.9 764.8 L1084.2 762.1 L1084.5 757.4 L1084.9 754.7 L1085.2 762.7 L1085.5 768.7 L1085.8 771.4 L1086.1 771.2 L1086.4 769.3 L1086.8 767.4 L1087.1 765.5 L1087.4 764.5 L1087.7 764.6 L1088.0 761.9 L1088.4 757.2 L1088.7 754.6 L1089.0 762.5 L1089.3 768.5 L1089.6 771.1 L1090.0 771.5 L1090.3 769.7 L1090.6 767.9 L1090.9 766.1 L1091.2 765.2 L1091.6 765.3 L1091.9 762.8 L1092.2 758.4 L1092.5 755.9 L1092.8 763.3 L1093.2 768.9 L1093.5 771.4 L1093.8 771.9 L1094.1 770.1 L1094.4 768.3 L1094.7 766.6 L1095.1 765.7 L1095.4 765.7 L1095.7 763.2 L1096.0 758.8 L1096.3 756.3 L1096.7 763.8 L1097.0 769.4 L1097.3 771.8 L1097.6 772.0 L1097.9 770.0 L1098.3 767.9 L1098.6 765.9 L1098.9 764.9 L1099.2 765.0 L1099.5 762.1 L1099.9 757.2 L1100.2 754.4 L1100.5 762.8 L1100.8 769.1 L1101.1 771.9 L1101.5 770.9 L1101.8 768.9 L1102.1 766.9 L1102.4 764.9 L1102.7 763.9 L1103.0 764.0 L1103.4 761.2 L1103.7 756.3 L1104.0 753.5 L1104.3 761.8 L1104.6 768.1 L1105.0 770.9 L1105.3 771.1 L1105.6 769.0 L1105.9 766.9 L1106.2 764.8 L1106.6 763.8 L1106.9 763.9 L1107.2 760.9 L1107.5 755.8 L1107.8 752.9 L1108.2 761.6 L1108.5 768.1 L1108.8 771.0 L1109.1 771.5 L1109.4 769.6 L1109.7 767.7 L1110.1 765.9 L1110.4 764.9 L1110.7 765.0 L1111.0 762.3 L1111.3 757.7 L1111.7 755.1 L1112.0 762.9 L1112.3 768.8 L1112.6 771.4 L1112.9 771.3 L1113.3 769.6 L1113.6 767.8 L1113.9 766.0 L1114.2 765.1 L1114.5 765.2 L1114.9 762.6 L1115.2 758.3 L1115.5 755.8 L1115.8 763.2 L1116.1 768.8 L1116.5 771.3 L1116.8 771.0 L1117.1 769.2 L1117.4 767.3 L1117.7 765.5 L1118.0 764.5 L1118.4 764.6 L1118.7 762.0 L1119.0 757.4 L1119.3 754.9 L1119.6 762.6 L1120.0 768.4 L1120.3 771.0 L1120.6 770.8 L1120.9 768.7 L1121.2 766.7 L1121.6 764.6 L1121.9 763.6 L1122.2 763.7 L1122.5 760.7 L1122.8 755.7 L1123.2 752.8 L1123.5 761.4 L1123.8 767.9 L1124.1 770.7 L1124.4 770.6 L1124.7 768.7 L1125.1 766.8 L1125.4 764.9 L1125.7 763.9 L1126.0 764.0 L1126.3 761.3 L1126.7 756.5 L1127.0 753.9 L1127.3 761.9 L1127.6 767.9" fill="none" stroke="#0a0a0a" stroke-width="1.25" stroke-linejoin="round"/>
<rect x="837.00" y="704.80" width="291.10" height="76.40" fill="none" stroke="#222" stroke-width="1"/>
<line x1="833.50" y1="704.80" x2="837.00" y2="704.80" stroke="#222" stroke-width="1"/>
<text x="831.8" y="711.1" font-size="18.3" text-anchor="end" textLength="19.6" lengthAdjust="spacingAndGlyphs">42</text>
<line x1="833.50" y1="727.60" x2="837.00" y2="727.60" stroke="#222" stroke-width="1"/>
<text x="831.8" y="733.9" font-size="18.3" text-anchor="end" textLength="19.6" lengthAdjust="spacingAndGlyphs">38</text>
<line x1="833.50" y1="750.00" x2="837.00" y2="750.00" stroke="#222" stroke-width="1"/>
<text x="831.8" y="756.3" font-size="18.3" text-anchor="end" textLength="19.6" lengthAdjust="spacingAndGlyphs">34</text>
<line x1="833.50" y1="772.80" x2="837.00" y2="772.80" stroke="#222" stroke-width="1"/>
<text x="831.8" y="779.1" font-size="18.3" text-anchor="end" textLength="19.6" lengthAdjust="spacingAndGlyphs">30</text>
<line x1="835.00" y1="716.20" x2="837.00" y2="716.20" stroke="#222" stroke-width="0.7"/>
<line x1="835.00" y1="738.80" x2="837.00" y2="738.80" stroke="#222" stroke-width="0.7"/>
<line x1="835.00" y1="761.40" x2="837.00" y2="761.40" stroke="#222" stroke-width="0.7"/>
<text x="792.5" y="739.7" font-size="18.3" text-anchor="middle" transform="rotate(-90 792.5 739.7)" textLength="61.3" lengthAdjust="spacingAndGlyphs">Δ<tspan font-style="italic">C</tspan> (pF)</text>
<text x="744.0" y="720.2" font-size="22.5" fill="#000" font-weight="bold">i</text>
<rect x="943.80" y="709.50" width="88.90" height="35.90" fill="#fff" stroke="#111" stroke-width="1.1"/>
<path d="M944.2 741.9 L948.2 734.0 L952.1 728.4 L953.7 728.1 L955.0 729.7 L956.4 723.7 L957.7 713.9 L958.9 720.5 L960.2 731.6 L961.6 739.5 L965.9 734.0 L969.8 728.4 L971.4 728.1 L972.7 729.7 L974.1 723.7 L975.4 713.9 L976.6 720.5 L977.9 731.6 L979.3 739.5 L983.6 734.0 L987.5 728.4 L989.1 728.1 L990.4 729.7 L991.8 723.7 L993.1 713.9 L994.3 720.5 L995.6 731.6 L997.0 739.5 L1001.3 734.0 L1005.2 728.4 L1006.8 728.1 L1008.1 729.7 L1009.5 723.7 L1010.8 713.9 L1012.0 720.5 L1013.3 731.6 L1014.7 739.5 L1019.0 734.0 L1022.9 728.4 L1024.5 728.1 L1025.8 729.7 L1027.2 723.7 L1028.5 713.9 L1029.7 720.5 L1031.0 731.6 L1032.4 739.5" fill="none" stroke="#111" stroke-width="0.95" stroke-linejoin="round"/>
<g clip-path="url(#speci)">
<rect x="837.00" y="796.20" width="291.10" height="78.80" fill="url(#ibg)"/>
<rect x="837.00" y="796.20" width="11.00" height="78.80" fill="url(#ileft)"/>
<rect x="837.00" y="824.60" width="291.10" height="14.00" fill="url(#iband)"/>
<ellipse cx="837.0" cy="831.5" rx="9" ry="10" fill="#c98558" opacity="0.35" filter="url(#x4)"/>
</g>
<line x1="833.50" y1="827.00" x2="837.00" y2="827.00" stroke="#222" stroke-width="1"/>
<text x="827.6" y="833.3" font-size="18.3" text-anchor="end" textLength="22.5" lengthAdjust="spacingAndGlyphs">1.4</text>
<line x1="833.50" y1="859.30" x2="837.00" y2="859.30" stroke="#222" stroke-width="1"/>
<text x="827.6" y="865.6" font-size="18.3" text-anchor="end" textLength="22.5" lengthAdjust="spacingAndGlyphs">0.8</text>
<line x1="835.00" y1="811.30" x2="837.00" y2="811.30" stroke="#222" stroke-width="0.7"/>
<line x1="835.00" y1="842.80" x2="837.00" y2="842.80" stroke="#222" stroke-width="0.7"/>
<text x="792.5" y="846.0" font-size="18.3" text-anchor="middle" transform="rotate(-90 792.5 846.0)" textLength="124.0" lengthAdjust="spacingAndGlyphs">Frequency (Hz)</text>
<text x="913.4" y="820.0" font-size="18.3" fill="#fff" textLength="143.0" lengthAdjust="spacingAndGlyphs">Pulse rate ≈ 1.3 Hz</text>
<line x1="837.30" y1="884.10" x2="861.60" y2="884.10" stroke="#222" stroke-width="1.1"/>
<text x="839.1" y="907.6" font-size="18.3" textLength="21.8" lengthAdjust="spacingAndGlyphs">5 s</text>
<rect x="1036.00" y="883.10" width="79.90" height="4.90" fill="url(#cbar)"/>
<text x="1036.0" y="906.9" font-size="18.3" text-anchor="middle" textLength="9.6" lengthAdjust="spacingAndGlyphs">0</text>
<text x="1061.6" y="906.9" font-size="18.3" text-anchor="middle" textLength="9.6" lengthAdjust="spacingAndGlyphs">5</text>
<text x="1086.8" y="906.9" font-size="18.3" text-anchor="middle" textLength="18.5" lengthAdjust="spacingAndGlyphs">10</text>
<text x="1114.8" y="906.9" font-size="18.3" text-anchor="middle" textLength="18.5" lengthAdjust="spacingAndGlyphs">20</text>
</svg>
</body></html>
